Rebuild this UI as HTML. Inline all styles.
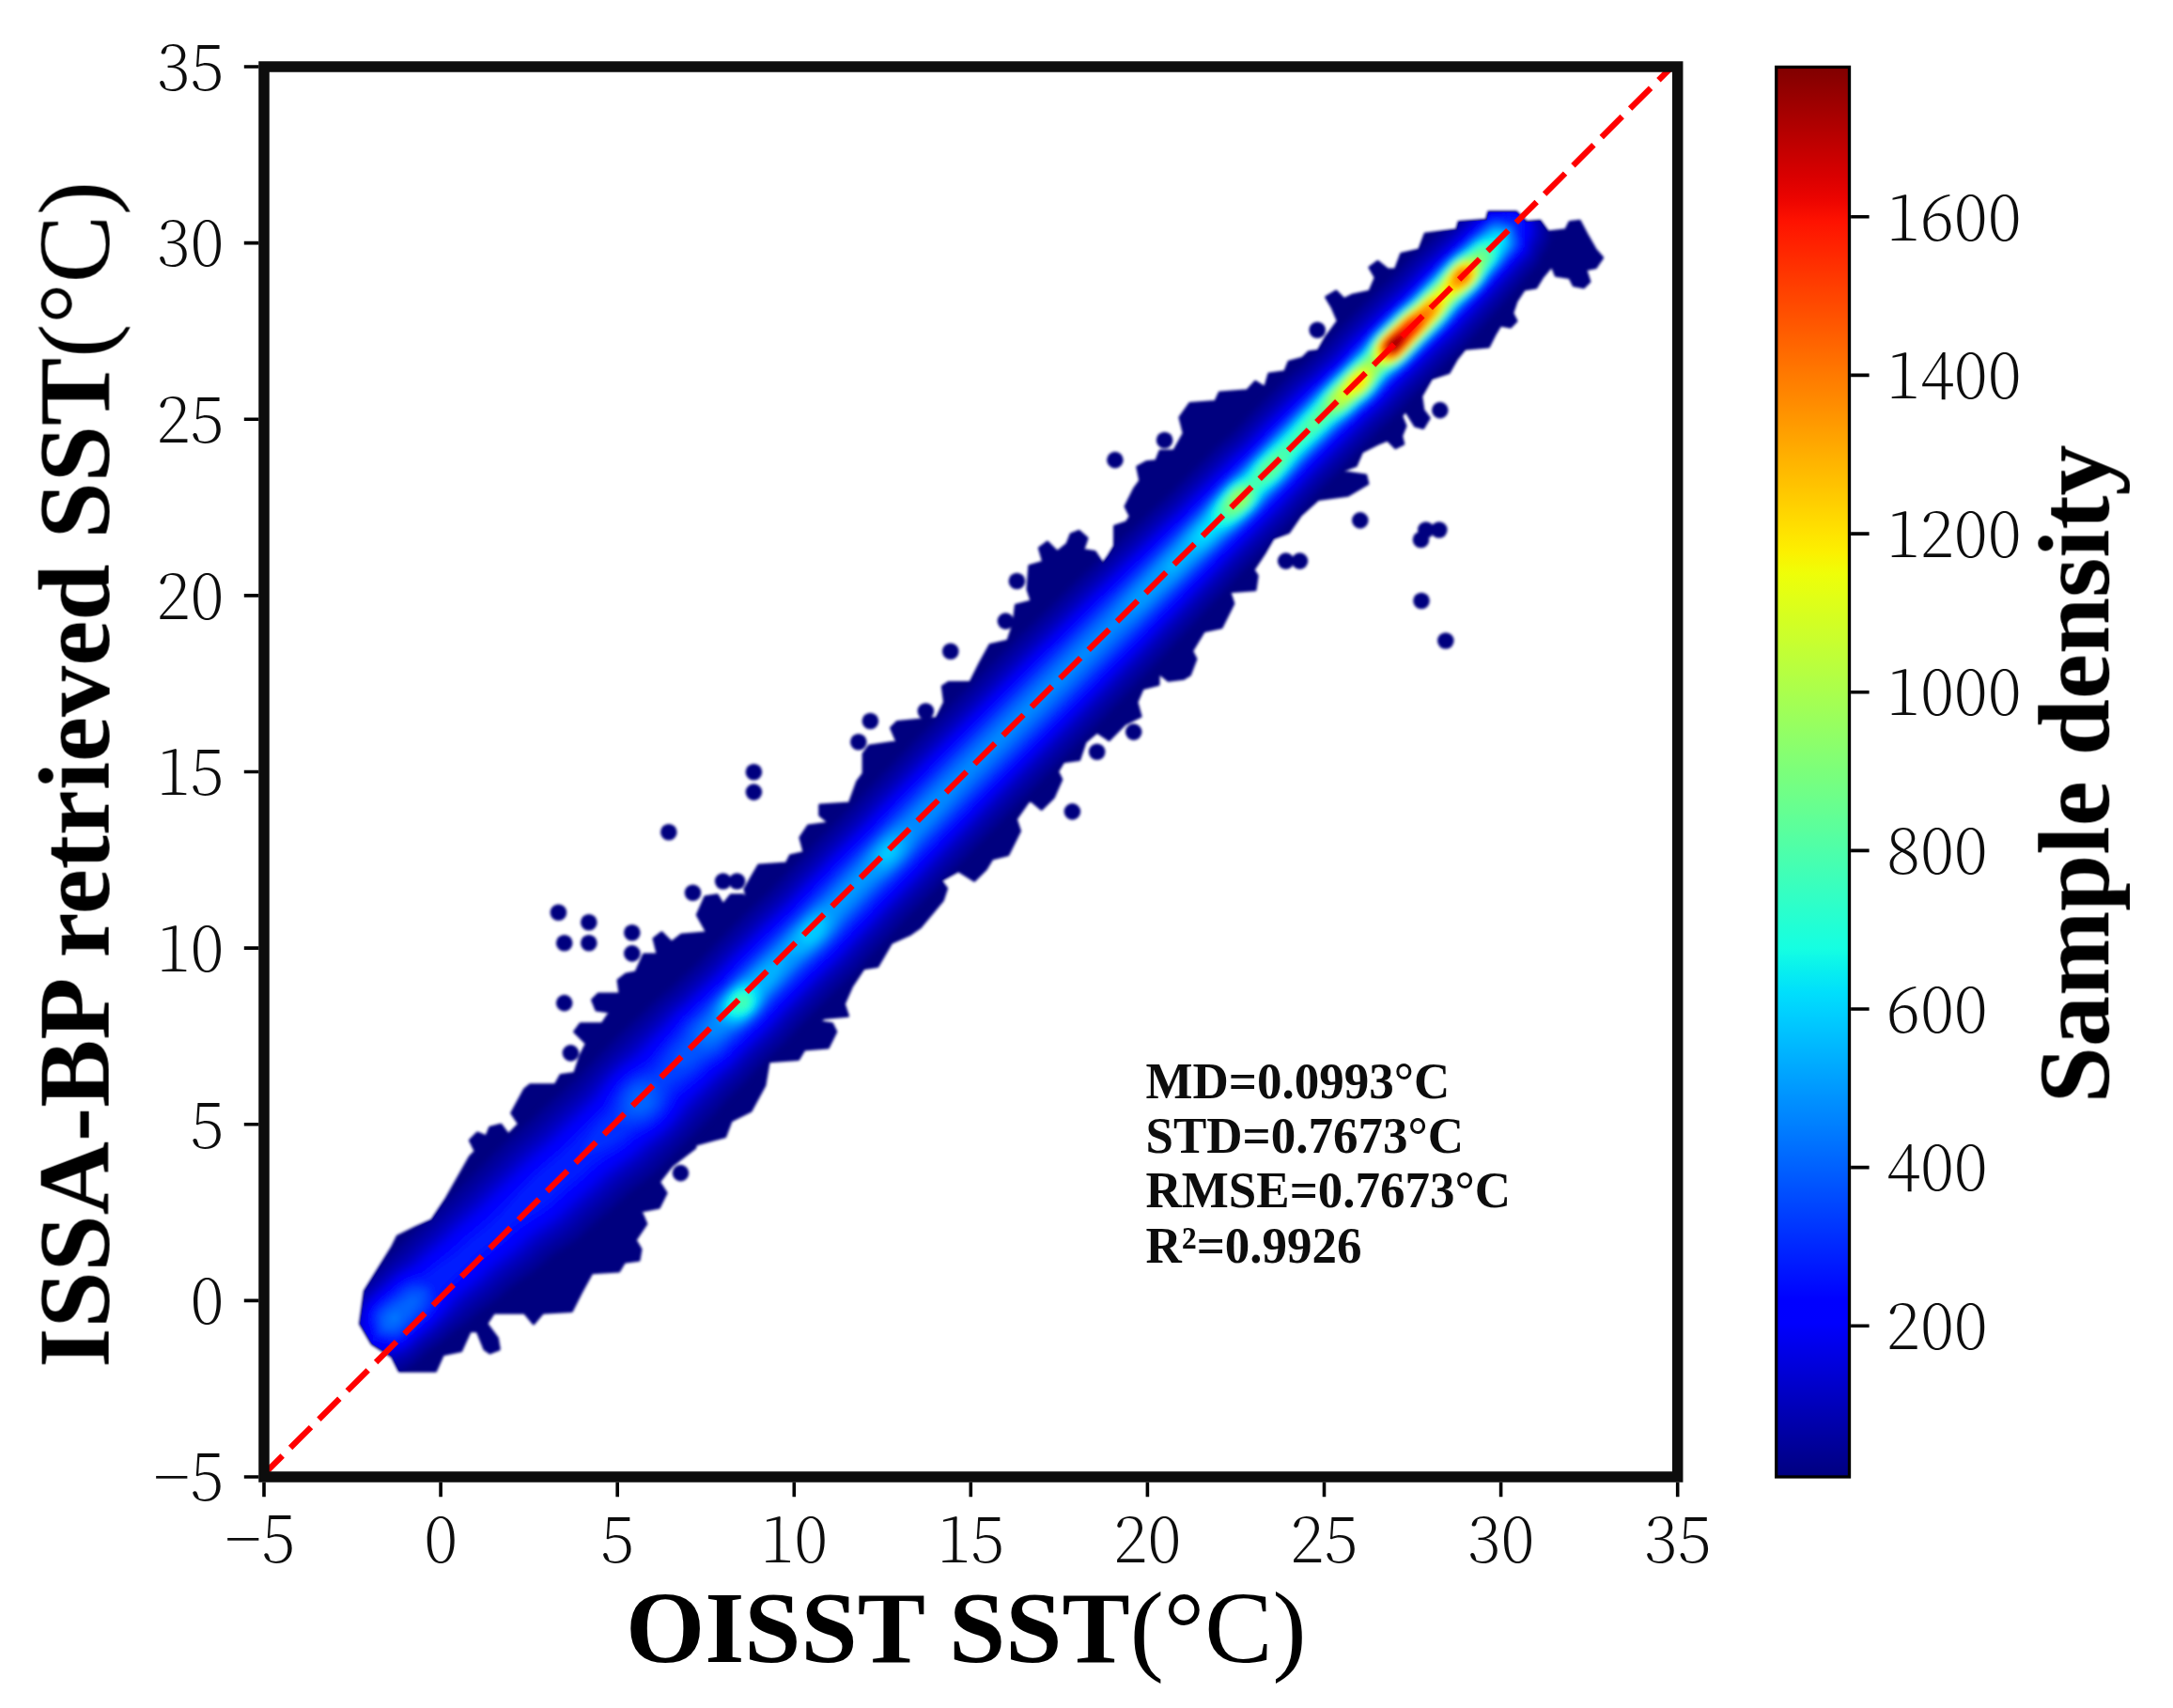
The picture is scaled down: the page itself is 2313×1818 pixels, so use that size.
<!DOCTYPE html>
<html lang="en"><head><meta charset="utf-8"><title>ISSA-BP retrieved SST vs OISST SST</title>
<style>html,body{margin:0;padding:0;background:#fff}body{width:2313px;height:1818px;overflow:hidden}svg{display:block}</style></head>
<body>
<svg width="2313" height="1818" viewBox="0 0 2313 1818">
<defs>
<clipPath id="axclip"><rect x="281.0" y="71.0" width="1504.7" height="1501.0"/></clipPath>
<clipPath id="cloudclip"><polygon points="383.5,1408.9 388.3,1374.2 398.0,1358.7 417.3,1327.8 423.1,1316.2 442.4,1306.5 459.8,1298.8 475.3,1275.6 500.4,1231.2 506.2,1225.4 500.4,1213.8 508.1,1206.0 517.8,1209.9 521.6,1200.2 533.2,1197.3 541.0,1208.0 552.6,1196.4 544.8,1184.8 558.4,1159.7 564.2,1154.8 591.2,1154.8 596.9,1144.5 611.7,1142.4 618.0,1123.4 624.3,1110.8 611.7,1098.1 618.0,1089.7 641.2,1089.7 649.6,1077.1 634.8,1075.0 630.6,1064.4 636.9,1058.1 660.1,1058.1 658.0,1043.4 666.4,1037.0 677.0,1034.9 685.4,1016.0 700.2,1016.0 696.0,999.1 704.4,992.8 714.9,1003.3 725.5,994.9 752.9,992.8 742.3,973.8 750.7,954.8 763.4,952.7 769.7,963.3 778.1,952.7 790.8,952.7 797.1,961.2 792.9,946.4 801.3,931.7 807.6,921.1 837.2,919.0 841.4,910.6 856.1,907.4 851.9,891.6 860.3,879.0 883.2,876.1 872.7,867.6 872.7,857.1 904.3,855.0 912.7,831.8 919.1,823.4 919.1,802.3 925.4,793.9 954.9,789.7 948.6,774.9 954.9,768.6 997.0,764.4 1005.5,747.5 1003.3,730.7 1009.7,726.4 1032.9,726.4 1043.4,705.4 1053.9,686.4 1072.9,682.2 1079.2,663.2 1081.3,644.3 1098.2,640.0 1094.0,627.4 1095.8,602.4 1110.6,598.1 1106.4,583.4 1114.8,577.1 1125.3,587.6 1135.9,579.2 1140.1,568.6 1148.5,565.5 1157.0,572.9 1152.7,585.5 1165.4,587.6 1173.8,600.3 1180.1,591.8 1186.5,581.3 1186.5,560.2 1199.1,556.0 1203.3,549.7 1198.0,539.1 1207.5,520.2 1213.8,511.7 1210.7,497.0 1220.2,491.7 1230.7,490.7 1234.9,480.1 1249.7,480.1 1260.2,461.2 1256.0,444.3 1266.5,429.5 1293.9,427.4 1298.1,418.0 1327.6,415.8 1336.1,406.4 1346.6,412.7 1350.8,397.9 1367.7,395.8 1371.9,385.3 1386.7,381.1 1393.0,374.8 1403.2,373.4 1411.7,358.6 1424.3,341.7 1418.0,327.0 1411.7,316.4 1422.2,310.1 1430.6,318.6 1439.1,314.3 1458.0,310.1 1464.3,295.4 1458.0,284.8 1466.5,278.5 1477.0,286.9 1485.4,286.9 1491.7,270.1 1510.7,265.9 1517.0,249.0 1550.7,244.8 1552.9,236.4 1582.4,234.3 1584.5,225.8 1614.0,225.8 1624.5,236.4 1639.3,235.3 1647.7,246.9 1666.7,244.8 1670.9,236.4 1681.4,235.3 1689.8,251.1 1698.3,265.9 1705.6,274.3 1698.3,284.8 1687.7,286.9 1691.9,299.6 1685.6,305.9 1675.1,303.8 1670.9,295.4 1656.1,293.3 1651.9,282.7 1641.4,295.4 1635.0,305.9 1622.4,308.0 1614.0,320.7 1609.8,333.3 1614.0,341.7 1607.6,348.1 1597.1,346.0 1590.8,356.5 1584.5,369.1 1559.2,371.2 1550.7,381.8 1542.3,396.5 1523.4,402.9 1512.8,421.8 1514.9,436.6 1521.2,445.0 1514.9,455.5 1506.5,453.4 1496.0,436.6 1491.7,442.9 1496.0,453.4 1491.7,464.0 1493.8,472.4 1485.4,476.6 1477.0,468.2 1466.5,472.4 1449.6,480.8 1443.3,495.6 1426.4,501.9 1453.8,506.1 1455.9,514.6 1434.8,527.2 1403.2,531.4 1384.3,548.3 1371.9,566.5 1355.0,572.9 1346.6,587.6 1334.0,606.6 1338.2,612.9 1336.1,627.7 1308.7,629.8 1312.9,642.4 1300.3,667.7 1281.3,671.9 1268.6,693.0 1272.9,701.4 1266.5,718.3 1260.0,722.2 1243.6,724.3 1233.1,715.9 1233.1,728.6 1216.2,732.8 1209.9,747.5 1214.1,762.3 1197.2,770.7 1180.4,787.6 1167.7,779.1 1155.1,789.7 1148.8,808.6 1131.9,810.7 1125.6,821.3 1129.8,829.7 1121.4,848.7 1108.7,861.3 1096.1,850.8 1081.3,871.9 1085.5,884.5 1072.9,909.8 1056.0,914.0 1049.7,924.6 1037.1,937.2 1020.2,926.7 1001.2,937.2 1007.6,945.6 1003.4,958.3 980.0,986.4 967.8,994.9 948.8,1003.3 934.1,1028.6 919.3,1030.7 906.7,1049.7 898.3,1068.6 902.5,1081.3 877.2,1083.4 870.9,1087.6 885.6,1089.7 889.8,1098.1 881.4,1115.0 856.1,1117.1 849.8,1127.6 818.2,1129.8 814.0,1155.0 799.2,1182.4 778.1,1193.0 771.8,1209.8 740.2,1218.3 740.0,1221.5 714.9,1240.8 701.4,1258.2 709.1,1269.8 701.4,1285.3 682.0,1289.1 687.8,1302.7 676.2,1320.0 682.0,1329.7 680.1,1341.3 664.6,1343.2 658.8,1352.9 629.9,1354.8 618.3,1376.1 608.6,1395.4 577.7,1397.3 568.0,1408.9 558.4,1397.3 525.5,1397.3 517.8,1408.9 529.4,1424.4 531.3,1436.0 521.6,1439.9 515.8,1436.0 508.1,1416.7 500.4,1416.7 490.7,1437.9 471.4,1441.8 463.7,1459.2 425.0,1459.2 417.3,1443.7 396.0,1430.2"/></clipPath>
<filter id="b1" x="-5%" y="-5%" width="110%" height="110%"><feGaussianBlur stdDeviation="1.6"/></filter>
<filter id="b2" x="-5%" y="-5%" width="110%" height="110%"><feGaussianBlur stdDeviation="3"/></filter>
<filter id="bt"><feGaussianBlur stdDeviation="0.7"/></filter>
<linearGradient id="jet" x1="0" y1="0" x2="0" y2="1"><stop offset="0.0000" stop-color="#800000"/><stop offset="0.0156" stop-color="#920000"/><stop offset="0.0312" stop-color="#a40000"/><stop offset="0.0469" stop-color="#b60000"/><stop offset="0.0625" stop-color="#c80000"/><stop offset="0.0781" stop-color="#da0000"/><stop offset="0.0938" stop-color="#ec0400"/><stop offset="0.1094" stop-color="#fe1200"/><stop offset="0.1250" stop-color="#ff2100"/><stop offset="0.1406" stop-color="#ff3000"/><stop offset="0.1562" stop-color="#ff3f00"/><stop offset="0.1719" stop-color="#ff4d00"/><stop offset="0.1875" stop-color="#ff5c00"/><stop offset="0.2031" stop-color="#ff6b00"/><stop offset="0.2188" stop-color="#ff7a00"/><stop offset="0.2344" stop-color="#ff8800"/><stop offset="0.2500" stop-color="#ff9700"/><stop offset="0.2656" stop-color="#ffa600"/><stop offset="0.2812" stop-color="#ffb500"/><stop offset="0.2969" stop-color="#ffc300"/><stop offset="0.3125" stop-color="#ffd200"/><stop offset="0.3281" stop-color="#ffe100"/><stop offset="0.3438" stop-color="#fcf000"/><stop offset="0.3594" stop-color="#effe08"/><stop offset="0.3750" stop-color="#e2ff15"/><stop offset="0.3906" stop-color="#d5ff21"/><stop offset="0.4062" stop-color="#c9ff2e"/><stop offset="0.4219" stop-color="#bcff3b"/><stop offset="0.4375" stop-color="#afff48"/><stop offset="0.4531" stop-color="#a2ff55"/><stop offset="0.4688" stop-color="#95ff62"/><stop offset="0.4844" stop-color="#88ff6f"/><stop offset="0.5000" stop-color="#7bff7b"/><stop offset="0.5156" stop-color="#6fff88"/><stop offset="0.5312" stop-color="#62ff95"/><stop offset="0.5469" stop-color="#55ffa2"/><stop offset="0.5625" stop-color="#48ffaf"/><stop offset="0.5781" stop-color="#3bffbc"/><stop offset="0.5938" stop-color="#2effc9"/><stop offset="0.6094" stop-color="#21ffd5"/><stop offset="0.6250" stop-color="#15ffe2"/><stop offset="0.6406" stop-color="#08efef"/><stop offset="0.6562" stop-color="#00dffc"/><stop offset="0.6719" stop-color="#00cfff"/><stop offset="0.6875" stop-color="#00bfff"/><stop offset="0.7031" stop-color="#00afff"/><stop offset="0.7188" stop-color="#009fff"/><stop offset="0.7344" stop-color="#008fff"/><stop offset="0.7500" stop-color="#0080ff"/><stop offset="0.7656" stop-color="#0070ff"/><stop offset="0.7812" stop-color="#0060ff"/><stop offset="0.7969" stop-color="#0050ff"/><stop offset="0.8125" stop-color="#0040ff"/><stop offset="0.8281" stop-color="#0030ff"/><stop offset="0.8438" stop-color="#0020ff"/><stop offset="0.8594" stop-color="#0010ff"/><stop offset="0.8750" stop-color="#0000ff"/><stop offset="0.8906" stop-color="#0000fe"/><stop offset="0.9062" stop-color="#0000ec"/><stop offset="0.9219" stop-color="#0000da"/><stop offset="0.9375" stop-color="#0000c8"/><stop offset="0.9531" stop-color="#0000b6"/><stop offset="0.9688" stop-color="#0000a4"/><stop offset="0.9844" stop-color="#000092"/><stop offset="1.0000" stop-color="#000080"/></linearGradient>
</defs>
<rect width="2313" height="1818" fill="#fff"/>
<g clip-path="url(#axclip)">
<g filter="url(#b1)">
<polygon points="383.5,1408.9 388.3,1374.2 398.0,1358.7 417.3,1327.8 423.1,1316.2 442.4,1306.5 459.8,1298.8 475.3,1275.6 500.4,1231.2 506.2,1225.4 500.4,1213.8 508.1,1206.0 517.8,1209.9 521.6,1200.2 533.2,1197.3 541.0,1208.0 552.6,1196.4 544.8,1184.8 558.4,1159.7 564.2,1154.8 591.2,1154.8 596.9,1144.5 611.7,1142.4 618.0,1123.4 624.3,1110.8 611.7,1098.1 618.0,1089.7 641.2,1089.7 649.6,1077.1 634.8,1075.0 630.6,1064.4 636.9,1058.1 660.1,1058.1 658.0,1043.4 666.4,1037.0 677.0,1034.9 685.4,1016.0 700.2,1016.0 696.0,999.1 704.4,992.8 714.9,1003.3 725.5,994.9 752.9,992.8 742.3,973.8 750.7,954.8 763.4,952.7 769.7,963.3 778.1,952.7 790.8,952.7 797.1,961.2 792.9,946.4 801.3,931.7 807.6,921.1 837.2,919.0 841.4,910.6 856.1,907.4 851.9,891.6 860.3,879.0 883.2,876.1 872.7,867.6 872.7,857.1 904.3,855.0 912.7,831.8 919.1,823.4 919.1,802.3 925.4,793.9 954.9,789.7 948.6,774.9 954.9,768.6 997.0,764.4 1005.5,747.5 1003.3,730.7 1009.7,726.4 1032.9,726.4 1043.4,705.4 1053.9,686.4 1072.9,682.2 1079.2,663.2 1081.3,644.3 1098.2,640.0 1094.0,627.4 1095.8,602.4 1110.6,598.1 1106.4,583.4 1114.8,577.1 1125.3,587.6 1135.9,579.2 1140.1,568.6 1148.5,565.5 1157.0,572.9 1152.7,585.5 1165.4,587.6 1173.8,600.3 1180.1,591.8 1186.5,581.3 1186.5,560.2 1199.1,556.0 1203.3,549.7 1198.0,539.1 1207.5,520.2 1213.8,511.7 1210.7,497.0 1220.2,491.7 1230.7,490.7 1234.9,480.1 1249.7,480.1 1260.2,461.2 1256.0,444.3 1266.5,429.5 1293.9,427.4 1298.1,418.0 1327.6,415.8 1336.1,406.4 1346.6,412.7 1350.8,397.9 1367.7,395.8 1371.9,385.3 1386.7,381.1 1393.0,374.8 1403.2,373.4 1411.7,358.6 1424.3,341.7 1418.0,327.0 1411.7,316.4 1422.2,310.1 1430.6,318.6 1439.1,314.3 1458.0,310.1 1464.3,295.4 1458.0,284.8 1466.5,278.5 1477.0,286.9 1485.4,286.9 1491.7,270.1 1510.7,265.9 1517.0,249.0 1550.7,244.8 1552.9,236.4 1582.4,234.3 1584.5,225.8 1614.0,225.8 1624.5,236.4 1639.3,235.3 1647.7,246.9 1666.7,244.8 1670.9,236.4 1681.4,235.3 1689.8,251.1 1698.3,265.9 1705.6,274.3 1698.3,284.8 1687.7,286.9 1691.9,299.6 1685.6,305.9 1675.1,303.8 1670.9,295.4 1656.1,293.3 1651.9,282.7 1641.4,295.4 1635.0,305.9 1622.4,308.0 1614.0,320.7 1609.8,333.3 1614.0,341.7 1607.6,348.1 1597.1,346.0 1590.8,356.5 1584.5,369.1 1559.2,371.2 1550.7,381.8 1542.3,396.5 1523.4,402.9 1512.8,421.8 1514.9,436.6 1521.2,445.0 1514.9,455.5 1506.5,453.4 1496.0,436.6 1491.7,442.9 1496.0,453.4 1491.7,464.0 1493.8,472.4 1485.4,476.6 1477.0,468.2 1466.5,472.4 1449.6,480.8 1443.3,495.6 1426.4,501.9 1453.8,506.1 1455.9,514.6 1434.8,527.2 1403.2,531.4 1384.3,548.3 1371.9,566.5 1355.0,572.9 1346.6,587.6 1334.0,606.6 1338.2,612.9 1336.1,627.7 1308.7,629.8 1312.9,642.4 1300.3,667.7 1281.3,671.9 1268.6,693.0 1272.9,701.4 1266.5,718.3 1260.0,722.2 1243.6,724.3 1233.1,715.9 1233.1,728.6 1216.2,732.8 1209.9,747.5 1214.1,762.3 1197.2,770.7 1180.4,787.6 1167.7,779.1 1155.1,789.7 1148.8,808.6 1131.9,810.7 1125.6,821.3 1129.8,829.7 1121.4,848.7 1108.7,861.3 1096.1,850.8 1081.3,871.9 1085.5,884.5 1072.9,909.8 1056.0,914.0 1049.7,924.6 1037.1,937.2 1020.2,926.7 1001.2,937.2 1007.6,945.6 1003.4,958.3 980.0,986.4 967.8,994.9 948.8,1003.3 934.1,1028.6 919.3,1030.7 906.7,1049.7 898.3,1068.6 902.5,1081.3 877.2,1083.4 870.9,1087.6 885.6,1089.7 889.8,1098.1 881.4,1115.0 856.1,1117.1 849.8,1127.6 818.2,1129.8 814.0,1155.0 799.2,1182.4 778.1,1193.0 771.8,1209.8 740.2,1218.3 740.0,1221.5 714.9,1240.8 701.4,1258.2 709.1,1269.8 701.4,1285.3 682.0,1289.1 687.8,1302.7 676.2,1320.0 682.0,1329.7 680.1,1341.3 664.6,1343.2 658.8,1352.9 629.9,1354.8 618.3,1376.1 608.6,1395.4 577.7,1397.3 568.0,1408.9 558.4,1397.3 525.5,1397.3 517.8,1408.9 529.4,1424.4 531.3,1436.0 521.6,1439.9 515.8,1436.0 508.1,1416.7 500.4,1416.7 490.7,1437.9 471.4,1441.8 463.7,1459.2 425.0,1459.2 417.3,1443.7 396.0,1430.2" fill="#00007f" stroke="#00007f" stroke-width="3" stroke-linejoin="round"/>
<circle cx="711.8" cy="885.7" r="8.8" fill="#00007f"/>
<circle cx="737.5" cy="950.2" r="8.8" fill="#00007f"/>
<circle cx="769.7" cy="938.0" r="8.8" fill="#00007f"/>
<circle cx="784.5" cy="938.0" r="8.8" fill="#00007f"/>
<circle cx="594.4" cy="971.3" r="8.8" fill="#00007f"/>
<circle cx="626.8" cy="981.8" r="8.8" fill="#00007f"/>
<circle cx="600.7" cy="1003.7" r="8.8" fill="#00007f"/>
<circle cx="626.8" cy="1003.7" r="8.8" fill="#00007f"/>
<circle cx="672.8" cy="992.8" r="8.8" fill="#00007f"/>
<circle cx="672.8" cy="1014.9" r="8.8" fill="#00007f"/>
<circle cx="600.7" cy="1067.6" r="8.8" fill="#00007f"/>
<circle cx="607.4" cy="1120.9" r="8.8" fill="#00007f"/>
<circle cx="1082.4" cy="618.5" r="8.8" fill="#00007f"/>
<circle cx="1070.4" cy="661.1" r="8.8" fill="#00007f"/>
<circle cx="1011.8" cy="693.2" r="8.8" fill="#00007f"/>
<circle cx="985.4" cy="757.0" r="8.8" fill="#00007f"/>
<circle cx="926.4" cy="767.5" r="8.8" fill="#00007f"/>
<circle cx="913.8" cy="789.7" r="8.8" fill="#00007f"/>
<circle cx="1141.4" cy="863.9" r="8.8" fill="#00007f"/>
<circle cx="1167.7" cy="800.2" r="8.8" fill="#00007f"/>
<circle cx="1206.7" cy="779.1" r="8.8" fill="#00007f"/>
<circle cx="1239.6" cy="468.5" r="8.8" fill="#00007f"/>
<circle cx="1186.9" cy="489.6" r="8.8" fill="#00007f"/>
<circle cx="1447.8" cy="553.9" r="8.8" fill="#00007f"/>
<circle cx="1368.7" cy="597.1" r="8.8" fill="#00007f"/>
<circle cx="1383.5" cy="597.1" r="8.8" fill="#00007f"/>
<circle cx="1402.2" cy="351.2" r="8.8" fill="#00007f"/>
<circle cx="1532.8" cy="436.6" r="8.8" fill="#00007f"/>
<circle cx="1517.8" cy="564.0" r="8.8" fill="#00007f"/>
<circle cx="1531.8" cy="564.0" r="8.8" fill="#00007f"/>
<circle cx="1512.5" cy="574.5" r="8.8" fill="#00007f"/>
<circle cx="1513.0" cy="639.5" r="8.8" fill="#00007f"/>
<circle cx="1538.8" cy="682.0" r="8.8" fill="#00007f"/>
<circle cx="724.5" cy="1248.6" r="8.8" fill="#00007f"/>
<circle cx="802.4" cy="821.8" r="8.8" fill="#00007f"/>
<circle cx="802.4" cy="843.1" r="8.8" fill="#00007f"/>
</g>
<g clip-path="url(#cloudclip)"><g filter="url(#b2)">
<polygon points="371.0,1468.1 357.8,1446.0 361.2,1438.1 359.7,1425.3 358.7,1413.0 360.2,1403.2 364.7,1396.5 368.4,1388.9 372.0,1381.3 376.5,1374.5 382.0,1368.6 387.5,1362.9 393.1,1357.2 398.6,1351.5 404.2,1345.8 409.7,1340.0 415.3,1334.3 421.0,1328.8 426.7,1323.2 432.4,1317.6 438.1,1312.1 443.9,1306.5 449.6,1301.0 455.3,1295.4 460.9,1289.8 466.7,1284.3 472.5,1278.8 478.3,1273.4 484.1,1267.9 489.8,1262.4 495.5,1256.7 501.1,1251.1 506.8,1245.5 512.4,1239.9 518.1,1234.2 523.7,1228.6 529.4,1223.0 535.1,1217.4 541.0,1212.0 547.0,1206.8 553.1,1201.7 559.2,1196.5 565.2,1191.2 570.9,1185.7 576.7,1180.1 582.6,1174.8 588.6,1169.5 594.7,1164.3 600.6,1159.0 606.5,1153.6 612.2,1148.0 617.7,1142.3 623.3,1136.5 628.9,1130.9 634.5,1125.3 640.1,1119.6 645.7,1113.9 651.3,1108.2 657.0,1102.6 662.7,1097.1 668.5,1091.6 674.5,1086.3 680.4,1081.0 686.2,1075.5 691.9,1069.9 697.7,1064.5 703.7,1059.2 710.1,1054.3 716.1,1049.1 721.8,1043.5 727.6,1038.0 733.5,1032.6 739.3,1027.2 745.1,1021.6 750.5,1015.8 755.9,1009.9 761.3,1004.0 766.9,998.4 772.5,992.7 778.2,987.1 783.8,981.5 789.4,975.8 795.1,970.2 800.8,964.7 806.7,959.3 812.5,953.9 818.3,948.4 823.9,942.7 829.4,936.9 834.8,931.0 840.2,925.2 845.8,919.5 851.4,913.8 856.8,908.0 862.3,902.2 867.7,896.3 873.3,890.6 878.9,885.0 884.5,879.3 890.2,873.7 895.8,868.0 901.4,862.4 907.0,856.7 912.4,850.9 917.8,845.0 923.3,839.2 928.9,833.5 934.5,827.9 940.1,822.2 945.6,816.5 951.2,810.7 956.7,805.0 962.3,799.3 967.8,793.5 973.4,787.8 978.9,782.1 984.6,776.5 990.2,770.8 995.8,765.2 1001.5,759.6 1007.1,753.9 1012.7,748.3 1018.4,742.6 1024.0,737.0 1029.6,731.4 1035.3,725.7 1040.9,720.1 1046.5,714.5 1052.2,708.8 1057.8,703.2 1063.5,697.6 1069.1,692.0 1074.8,686.4 1080.5,680.8 1086.3,675.3 1092.0,669.8 1097.8,664.3 1103.5,658.8 1109.3,653.2 1115.0,647.7 1120.8,642.2 1126.5,636.6 1132.2,631.0 1137.8,625.4 1143.5,619.8 1149.3,614.4 1155.2,609.0 1161.1,603.6 1167.0,598.2 1172.7,592.7 1178.4,587.1 1184.2,581.6 1190.0,576.1 1195.9,570.7 1201.7,565.3 1207.6,559.9 1213.3,554.4 1219.0,548.8 1224.9,543.4 1230.8,538.0 1236.7,532.7 1242.6,527.3 1248.3,521.7 1253.9,516.1 1259.5,510.4 1265.2,504.8 1270.8,499.1 1276.4,493.5 1282.1,487.9 1287.7,482.2 1293.4,476.6 1299.2,471.1 1305.4,466.1 1311.4,460.8 1316.9,455.1 1322.4,449.3 1327.8,443.4 1333.3,437.6 1338.9,431.9 1344.5,426.3 1350.1,420.7 1355.8,415.0 1361.4,409.4 1367.0,403.8 1372.9,398.4 1379.2,393.4 1385.5,388.4 1391.4,383.0 1397.3,377.6 1403.3,372.4 1409.0,366.8 1414.4,361.0 1419.7,355.0 1425.2,349.2 1430.8,343.6 1436.5,338.0 1442.1,332.3 1447.8,326.7 1453.4,321.0 1459.0,315.4 1464.7,309.8 1470.5,304.4 1476.5,299.1 1482.3,293.6 1487.8,287.8 1493.1,281.8 1498.5,276.0 1504.2,270.4 1510.3,265.2 1516.4,260.1 1522.2,254.6 1528.2,249.3 1534.3,244.1 1540.2,238.7 1546.0,233.4 1552.2,228.2 1558.2,222.9 1563.9,217.4 1570.0,212.2 1578.2,209.1 1585.0,204.7 1592.7,201.1 1602.9,200.1 1613.1,198.9 1621.6,196.2 1645.4,211.0 1660.2,234.8 1651.6,237.5 1650.5,247.7 1649.5,257.9 1645.9,265.6 1641.4,272.4 1638.3,280.6 1633.1,286.6 1627.7,292.4 1622.4,298.4 1617.2,304.5 1611.8,310.4 1606.4,316.3 1601.3,322.4 1596.0,328.4 1590.5,334.2 1585.3,340.3 1580.1,346.4 1574.6,352.1 1569.2,358.0 1563.9,363.9 1558.4,369.7 1552.6,375.2 1546.7,380.5 1540.8,385.9 1535.2,391.6 1529.5,397.2 1523.9,402.8 1518.3,408.5 1512.6,414.1 1507.0,419.7 1501.4,425.4 1495.9,431.2 1490.6,437.1 1485.1,443.0 1479.4,448.5 1473.4,453.8 1467.6,459.2 1462.0,464.9 1456.5,470.7 1451.0,476.4 1445.4,482.1 1439.8,487.8 1434.2,493.4 1428.5,499.1 1422.9,504.7 1417.2,510.3 1411.6,516.0 1406.2,521.8 1400.8,527.7 1395.3,533.5 1389.8,539.2 1384.5,545.2 1379.4,551.4 1374.0,557.2 1368.4,562.9 1362.7,568.5 1357.1,574.1 1351.4,579.8 1345.8,585.4 1340.2,591.1 1334.5,596.7 1328.9,602.3 1323.3,608.0 1317.9,613.9 1312.6,619.8 1307.2,625.7 1301.8,631.6 1296.2,637.3 1290.7,643.0 1285.3,648.8 1279.9,654.7 1274.5,660.6 1269.0,666.4 1263.5,672.2 1257.9,677.9 1252.4,683.6 1247.0,689.5 1241.6,695.4 1236.2,701.3 1230.8,707.1 1225.2,712.8 1219.6,718.4 1214.0,724.1 1208.4,729.8 1202.9,735.6 1197.4,741.3 1191.8,747.1 1186.3,752.8 1180.8,758.6 1175.3,764.3 1169.8,770.1 1164.2,775.8 1158.6,781.5 1153.0,787.2 1147.4,792.8 1141.8,798.4 1136.1,804.1 1130.5,809.7 1124.9,815.3 1119.2,821.0 1113.6,826.6 1108.0,832.2 1102.3,837.9 1096.7,843.5 1091.1,849.1 1085.4,854.8 1079.8,860.4 1074.1,866.1 1068.5,871.7 1063.0,877.4 1057.4,883.1 1051.9,888.9 1046.3,894.6 1040.8,900.3 1035.2,906.0 1029.7,911.8 1024.1,917.5 1018.5,923.1 1012.9,928.8 1007.4,934.6 1002.0,940.5 996.6,946.3 991.0,952.0 985.4,957.6 979.8,963.3 974.1,968.9 968.5,974.5 962.9,980.2 957.3,985.9 951.9,991.7 946.4,997.6 940.9,1003.4 935.4,1009.1 929.8,1014.8 924.4,1020.6 919.0,1026.5 913.5,1032.3 907.9,1037.9 902.1,1043.5 896.3,1048.9 890.4,1054.3 884.7,1059.8 879.0,1065.4 873.4,1071.1 867.8,1076.7 862.1,1082.3 856.5,1088.0 850.9,1093.6 845.5,1099.5 840.1,1105.4 834.6,1111.2 828.9,1116.8 823.1,1122.2 817.2,1127.6 811.4,1133.1 805.8,1138.7 800.4,1144.6 795.1,1150.6 789.4,1156.2 783.6,1161.7 777.9,1167.2 772.4,1173.0 767.1,1178.9 761.8,1184.9 756.4,1190.8 750.8,1196.5 745.2,1202.1 739.6,1207.8 733.8,1213.3 728.2,1218.9 722.6,1224.6 716.9,1230.2 711.2,1235.7 705.4,1241.3 699.7,1246.8 693.6,1251.9 687.2,1256.8 680.7,1261.6 674.3,1266.4 668.0,1271.5 662.1,1276.9 656.4,1282.4 650.4,1287.7 644.3,1292.9 638.2,1298.0 632.2,1303.3 626.3,1308.6 620.5,1314.2 614.4,1319.2 607.7,1323.9 600.9,1328.3 594.0,1332.7 587.4,1337.3 581.2,1342.4 575.4,1347.9 569.1,1352.9 562.5,1357.6 555.8,1362.1 549.2,1366.8 542.8,1371.6 536.8,1377.0 530.9,1382.3 524.4,1387.0 517.7,1391.6 511.1,1396.3 504.9,1401.4 499.0,1406.8 492.6,1411.7 485.9,1416.2 479.4,1421.0 473.4,1426.3 466.9,1431.0 460.1,1435.5 453.7,1440.4 448.0,1445.9 442.0,1451.3 435.4,1455.9 428.5,1460.3 422.7,1465.7 416.3,1470.6 408.1,1473.7 398.0,1474.8 393.1,1481.3" fill="#000091"/>
<polygon points="371.0,1468.1 365.2,1453.3 368.2,1445.0 364.4,1430.0 362.5,1416.8 363.7,1406.7 368.1,1399.9 371.5,1392.0 374.9,1384.1 379.2,1377.2 384.6,1371.3 390.2,1365.6 395.8,1360.0 401.5,1354.3 407.1,1348.7 412.7,1343.0 418.5,1337.5 424.4,1332.2 430.1,1326.6 435.9,1321.1 441.6,1315.6 447.5,1310.1 453.2,1304.6 458.9,1299.1 464.6,1293.5 470.4,1288.0 476.2,1282.6 482.1,1277.2 487.9,1271.7 493.7,1266.2 499.3,1260.6 505.0,1255.0 510.7,1249.4 516.3,1243.8 522.0,1238.2 527.7,1232.6 533.3,1226.9 539.0,1221.4 544.9,1216.0 551.0,1210.8 557.1,1205.6 563.2,1200.4 569.1,1195.1 574.9,1189.6 580.6,1184.1 586.5,1178.7 592.5,1173.4 598.5,1168.2 604.5,1162.9 610.4,1157.5 616.1,1151.9 621.5,1146.1 626.9,1140.2 632.4,1134.4 638.0,1128.8 643.7,1123.1 649.3,1117.5 655.0,1112.0 660.8,1106.5 666.5,1100.9 672.3,1095.4 678.2,1090.0 684.0,1084.6 689.8,1079.1 695.4,1073.5 701.2,1067.9 707.1,1062.5 713.4,1057.6 719.4,1052.4 725.1,1046.8 731.0,1041.3 736.8,1035.9 742.6,1030.5 748.4,1024.9 753.8,1019.1 759.2,1013.2 764.6,1007.3 770.2,1001.7 775.8,996.0 781.5,990.4 787.1,984.8 792.7,979.1 798.4,973.5 804.1,968.0 810.0,962.6 815.8,957.2 821.6,951.7 827.2,946.0 832.7,940.2 838.1,934.3 843.5,928.5 849.1,922.8 854.7,917.1 860.1,911.3 865.6,905.5 871.0,899.6 876.6,893.9 882.2,888.3 887.8,882.6 893.5,877.0 899.1,871.4 904.7,865.7 910.3,860.0 915.7,854.2 921.1,848.3 926.6,842.5 932.2,836.8 937.8,831.2 943.4,825.5 949.0,819.8 954.5,814.0 960.0,808.3 965.6,802.6 971.1,796.8 976.7,791.1 982.3,785.4 987.9,779.8 993.5,774.1 999.1,768.5 1004.8,762.9 1010.4,757.2 1016.0,751.6 1021.7,746.0 1027.3,740.3 1032.9,734.7 1038.6,729.0 1044.2,723.4 1049.9,717.8 1055.5,712.1 1061.1,706.5 1066.8,700.9 1072.4,695.3 1078.1,689.7 1083.8,684.1 1089.6,678.6 1095.3,673.1 1101.1,667.5 1106.8,662.0 1112.6,656.5 1118.3,651.0 1124.0,645.4 1129.7,639.8 1135.4,634.3 1141.1,628.6 1146.8,623.1 1152.6,617.6 1158.4,612.2 1164.3,606.8 1170.1,601.3 1175.9,595.8 1181.6,590.2 1187.3,584.7 1193.1,579.2 1199.0,573.8 1204.8,568.4 1210.7,563.0 1216.4,557.4 1222.1,551.9 1227.9,546.4 1233.8,541.1 1239.7,535.7 1245.6,530.3 1251.2,524.7 1256.9,519.0 1262.5,513.4 1268.2,507.8 1273.8,502.1 1279.4,496.5 1285.1,490.9 1290.7,485.2 1296.3,479.6 1302.1,474.1 1308.3,469.0 1314.3,463.7 1319.8,458.0 1325.3,452.2 1330.7,446.3 1336.1,440.5 1341.7,434.8 1347.4,429.2 1353.0,423.6 1358.7,417.9 1364.3,412.3 1369.9,406.6 1375.8,401.3 1382.1,396.2 1388.3,391.2 1394.2,385.8 1400.1,380.4 1406.1,375.2 1411.8,369.6 1417.2,363.8 1422.5,357.8 1428.0,352.0 1433.7,346.4 1439.3,340.8 1444.9,335.1 1450.6,329.5 1456.2,323.9 1461.8,318.2 1467.5,312.6 1473.4,307.2 1479.3,301.9 1485.1,296.4 1490.6,290.6 1495.9,284.7 1501.3,278.8 1507.0,273.2 1513.1,268.0 1519.1,262.8 1524.9,257.3 1530.9,252.0 1536.9,246.8 1542.8,241.4 1548.7,236.0 1554.8,230.8 1560.7,225.5 1566.5,220.0 1572.5,214.8 1580.8,211.8 1587.8,207.5 1595.7,204.1 1606.6,203.7 1617.8,203.7 1626.3,200.9 1645.4,211.0 1655.4,230.0 1646.9,232.8 1646.9,244.0 1646.5,254.9 1643.1,262.8 1638.8,269.7 1635.8,278.0 1630.6,284.1 1625.1,289.9 1619.8,295.8 1614.6,301.9 1609.2,307.8 1603.8,313.6 1598.6,319.7 1593.3,325.7 1587.8,331.5 1582.6,337.5 1577.3,343.6 1571.8,349.3 1566.4,355.2 1561.1,361.1 1555.6,366.9 1549.8,372.4 1543.9,377.7 1538.0,383.1 1532.4,388.8 1526.7,394.4 1521.1,400.0 1515.5,405.7 1509.8,411.3 1504.2,416.9 1498.6,422.6 1493.1,428.4 1487.7,434.3 1482.3,440.2 1476.6,445.7 1470.6,451.0 1464.7,456.4 1459.2,462.1 1453.6,467.8 1448.1,473.6 1442.5,479.3 1436.9,484.9 1431.3,490.5 1425.6,496.2 1420.0,501.8 1414.4,507.4 1408.8,513.1 1403.3,518.9 1397.9,524.8 1392.4,530.6 1386.9,536.3 1381.6,542.3 1376.5,548.5 1371.0,554.3 1365.4,559.9 1359.7,565.5 1354.1,571.2 1348.5,576.8 1342.8,582.4 1337.2,588.1 1331.6,593.7 1325.9,599.4 1320.3,605.0 1314.9,610.9 1309.5,616.8 1304.2,622.7 1298.7,628.5 1293.2,634.2 1287.6,639.9 1282.2,645.8 1276.8,651.6 1271.4,657.5 1265.9,663.3 1260.4,669.0 1254.8,674.7 1249.3,680.5 1243.8,686.3 1238.4,692.2 1233.0,698.0 1227.5,703.8 1222.0,709.5 1216.3,715.2 1210.8,720.9 1205.2,726.6 1199.6,732.3 1194.1,738.1 1188.6,743.8 1183.1,749.6 1177.6,755.3 1172.0,761.0 1166.5,766.8 1160.9,772.5 1155.3,778.2 1149.7,783.8 1144.1,789.5 1138.5,795.1 1132.8,800.8 1127.2,806.4 1121.6,812.0 1115.9,817.7 1110.3,823.3 1104.7,828.9 1099.0,834.6 1093.4,840.2 1087.7,845.8 1082.1,851.5 1076.5,857.1 1070.8,862.7 1065.2,868.4 1059.7,874.1 1054.1,879.8 1048.6,885.5 1043.0,891.3 1037.5,897.0 1031.9,902.7 1026.4,908.5 1020.8,914.1 1015.2,919.8 1009.6,925.5 1004.1,931.3 998.7,937.1 993.3,943.0 987.7,948.7 982.1,954.3 976.4,960.0 970.8,965.6 965.2,971.2 959.6,976.9 954.0,982.6 948.6,988.4 943.1,994.3 937.6,1000.1 932.1,1005.8 926.5,1011.5 921.1,1017.3 915.7,1023.2 910.2,1029.0 904.6,1034.6 898.8,1040.1 893.0,1045.6 887.1,1051.0 881.4,1056.5 875.7,1062.1 870.1,1067.8 864.4,1073.4 858.8,1079.0 853.2,1084.7 847.6,1090.3 842.2,1096.2 836.8,1102.1 831.3,1107.9 825.6,1113.5 819.8,1118.9 813.9,1124.3 808.1,1129.8 802.5,1135.4 797.0,1141.2 791.7,1147.2 786.0,1152.7 780.1,1158.1 774.4,1163.7 768.8,1169.4 763.4,1175.3 758.1,1181.2 752.6,1187.0 747.0,1192.6 741.5,1198.4 736.0,1204.1 730.3,1209.8 724.7,1215.4 719.0,1221.0 713.2,1226.5 707.4,1231.9 701.6,1237.4 695.8,1242.9 689.7,1248.0 683.3,1252.9 676.8,1257.7 670.3,1262.5 664.1,1267.5 658.2,1272.9 652.4,1278.4 646.5,1283.7 640.4,1288.9 634.3,1294.1 628.2,1299.3 622.3,1304.7 616.6,1310.2 610.4,1315.3 603.8,1320.0 597.0,1324.4 590.1,1328.8 583.5,1333.5 577.3,1338.6 571.5,1344.1 565.3,1349.1 558.8,1353.8 552.1,1358.4 545.5,1363.1 539.1,1368.0 533.2,1373.3 527.2,1378.6 520.8,1383.5 514.1,1388.1 507.6,1392.8 501.4,1397.9 495.6,1403.4 489.4,1408.5 482.9,1413.2 476.5,1418.1 470.6,1423.5 464.1,1428.2 457.4,1432.8 451.0,1437.7 445.3,1443.2 439.2,1448.4 432.3,1452.8 425.1,1456.9 419.2,1462.2 412.5,1466.8 403.4,1468.9 391.1,1467.9 385.8,1473.9" fill="#00009c"/>
<polygon points="379.4,1454.0 370.3,1435.9 366.7,1421.0 367.4,1410.4 371.7,1403.5 374.8,1395.3 377.8,1387.0 382.0,1379.9 387.3,1374.0 393.0,1368.4 398.7,1362.8 404.4,1357.2 410.0,1351.6 415.8,1346.1 421.8,1340.8 427.9,1335.7 433.7,1330.2 439.5,1324.7 445.3,1319.3 451.2,1313.9 457.0,1308.4 462.7,1302.9 468.5,1297.3 474.3,1291.9 480.2,1286.5 486.0,1281.1 491.9,1275.7 497.7,1270.2 503.4,1264.6 509.0,1259.0 514.7,1253.4 520.4,1247.8 526.1,1242.3 531.8,1236.7 537.4,1231.1 543.1,1225.5 549.0,1220.1 555.1,1214.9 561.2,1209.7 567.3,1204.5 573.2,1199.2 579.0,1193.7 584.7,1188.2 590.6,1182.8 596.6,1177.5 602.6,1172.2 608.5,1166.9 614.4,1161.5 620.1,1155.9 625.4,1150.0 630.7,1144.0 636.1,1138.1 641.6,1132.3 647.3,1126.7 653.0,1121.2 658.9,1115.8 664.8,1110.4 670.4,1104.8 676.2,1099.3 682.0,1093.8 687.7,1088.3 693.5,1082.7 699.1,1077.1 704.7,1071.5 710.5,1066.0 716.8,1061.0 722.8,1055.8 728.5,1050.2 734.3,1044.7 740.2,1039.3 746.0,1033.9 751.7,1028.3 757.2,1022.5 762.6,1016.6 768.0,1010.7 773.6,1005.1 779.2,999.4 784.8,993.8 790.5,988.2 796.1,982.5 801.8,976.9 807.5,971.4 813.4,966.0 819.2,960.5 825.0,955.0 830.6,949.4 836.1,943.6 841.5,937.7 846.9,931.9 852.5,926.2 858.0,920.5 863.5,914.7 869.0,908.8 874.4,903.0 880.0,897.3 885.6,891.6 891.2,886.0 896.9,880.4 902.5,874.7 908.1,869.1 913.7,863.4 919.1,857.6 924.5,851.7 930.0,845.9 935.6,840.2 941.2,834.5 946.8,828.9 952.3,823.1 957.9,817.4 963.4,811.7 969.0,805.9 974.5,800.2 980.1,794.5 985.6,788.8 991.2,783.2 996.9,777.5 1002.5,771.9 1008.1,766.2 1013.8,760.6 1019.4,755.0 1025.1,749.3 1030.7,743.7 1036.3,738.1 1042.0,732.4 1047.6,726.8 1053.2,721.2 1058.9,715.5 1064.5,709.9 1070.1,704.2 1075.8,698.6 1081.5,693.1 1087.2,687.5 1092.9,681.9 1098.7,676.4 1104.4,670.9 1110.1,665.3 1115.9,659.8 1121.6,654.3 1127.3,648.7 1133.0,643.1 1138.7,637.6 1144.4,631.9 1150.0,626.4 1155.8,620.9 1161.7,615.4 1167.5,610.0 1173.3,604.6 1179.1,599.0 1184.8,593.4 1190.5,587.9 1196.3,582.4 1202.1,577.0 1208.0,571.6 1213.8,566.1 1219.5,560.6 1225.2,555.0 1231.0,549.5 1236.9,544.1 1242.8,538.8 1248.6,533.3 1254.3,527.7 1259.9,522.1 1265.6,516.4 1271.2,510.8 1276.8,505.2 1282.5,499.5 1288.1,493.9 1293.7,488.3 1299.4,482.6 1305.2,477.1 1311.3,472.0 1317.2,466.7 1322.8,461.0 1328.2,455.1 1333.6,449.3 1339.1,443.5 1344.7,437.8 1350.3,432.1 1356.0,426.5 1361.6,420.9 1367.2,415.2 1372.9,409.6 1378.8,404.2 1385.0,399.2 1391.2,394.1 1397.1,388.7 1402.9,383.3 1409.0,378.0 1414.7,372.5 1420.1,366.6 1425.4,360.7 1430.9,354.9 1436.5,349.3 1442.2,343.6 1447.8,338.0 1453.4,332.4 1459.1,326.7 1464.7,321.1 1470.4,315.5 1476.2,310.1 1482.2,304.7 1488.0,299.3 1493.4,293.5 1498.8,287.5 1504.2,281.7 1509.9,276.1 1515.9,270.8 1521.9,265.6 1527.7,260.1 1533.6,254.8 1539.7,249.5 1545.5,244.1 1551.4,238.7 1557.4,233.4 1563.3,228.1 1569.1,222.6 1575.1,217.3 1583.6,214.6 1590.7,210.3 1598.9,207.3 1610.8,207.9 1624.6,210.5 1633.1,207.7 1645.4,211.0 1648.6,223.2 1640.1,226.0 1642.7,239.8 1643.3,251.7 1640.2,259.9 1636.0,267.0 1633.2,275.5 1628.0,281.5 1622.5,287.2 1617.1,293.2 1611.9,299.2 1606.5,305.1 1601.1,310.9 1595.8,317.0 1590.5,322.9 1585.0,328.7 1579.7,334.7 1574.5,340.7 1569.0,346.4 1563.6,352.3 1558.2,358.3 1552.7,364.0 1547.0,369.5 1541.0,374.9 1535.1,380.3 1529.5,385.9 1523.9,391.5 1518.2,397.1 1512.6,402.8 1507.0,408.4 1501.3,414.1 1495.7,419.7 1490.2,425.5 1484.9,431.4 1479.5,437.3 1473.7,442.8 1467.7,448.1 1461.9,453.5 1456.3,459.2 1450.7,464.9 1445.2,470.6 1439.6,476.3 1433.9,481.9 1428.3,487.6 1422.7,493.2 1417.0,498.8 1411.4,504.5 1405.8,510.1 1400.3,516.0 1394.9,521.8 1389.5,527.6 1383.9,533.4 1378.6,539.3 1373.5,545.4 1368.0,551.2 1362.3,556.9 1356.7,562.5 1351.1,568.1 1345.4,573.8 1339.8,579.4 1334.2,585.0 1328.5,590.7 1322.9,596.3 1317.3,602.0 1311.8,607.8 1306.5,613.7 1301.1,619.6 1295.6,625.4 1290.0,631.1 1284.5,636.8 1279.0,642.6 1273.6,648.5 1268.2,654.3 1262.7,660.1 1257.2,665.8 1251.6,671.5 1246.0,677.3 1240.6,683.1 1235.2,688.9 1229.7,694.8 1224.2,700.6 1218.7,706.2 1213.0,711.9 1207.5,717.6 1201.9,723.3 1196.3,729.0 1190.8,734.7 1185.3,740.5 1179.7,746.2 1174.2,751.9 1168.7,757.7 1163.1,763.4 1157.5,769.1 1152.0,774.8 1146.4,780.5 1140.7,786.1 1135.1,791.7 1129.4,797.4 1123.8,803.0 1118.2,808.6 1112.5,814.3 1106.9,819.9 1101.3,825.6 1095.6,831.2 1090.0,836.8 1084.4,842.5 1078.7,848.1 1073.1,853.7 1067.5,859.4 1061.9,865.0 1056.3,870.7 1050.7,876.4 1045.2,882.2 1039.6,887.9 1034.1,893.6 1028.6,899.4 1023.0,905.1 1017.4,910.8 1011.8,916.4 1006.2,922.1 1000.7,927.9 995.3,933.8 989.9,939.6 984.3,945.3 978.7,951.0 973.1,956.6 967.4,962.2 961.8,967.9 956.2,973.5 950.6,979.2 945.2,985.1 939.7,990.9 934.3,996.7 928.7,1002.4 923.1,1008.1 917.7,1013.9 912.3,1019.8 906.8,1025.6 901.2,1031.3 895.4,1036.8 889.6,1042.2 883.7,1047.6 878.0,1053.1 872.3,1058.7 866.7,1064.4 861.1,1070.0 855.4,1075.6 849.8,1081.3 844.2,1086.9 838.8,1092.8 833.4,1098.7 828.0,1104.5 822.2,1110.1 816.4,1115.5 810.6,1120.9 804.7,1126.4 799.1,1132.0 793.6,1137.8 788.3,1143.8 782.4,1149.2 776.5,1154.5 770.7,1160.0 765.1,1165.7 759.7,1171.5 754.2,1177.3 748.6,1183.0 743.0,1188.7 737.6,1194.6 732.2,1200.4 726.7,1206.2 721.1,1211.8 715.4,1217.4 709.5,1222.8 703.5,1228.0 697.6,1233.4 691.8,1238.9 685.7,1244.0 679.2,1248.9 672.7,1253.6 666.2,1258.4 660.0,1263.4 654.1,1268.8 648.3,1274.3 642.3,1279.6 636.3,1284.8 630.2,1290.0 624.1,1295.2 618.2,1300.5 612.5,1306.1 606.3,1311.2 599.7,1315.9 592.9,1320.3 586.1,1324.8 579.5,1329.5 573.3,1334.6 567.5,1340.1 561.3,1345.1 554.8,1349.9 548.2,1354.5 541.6,1359.2 535.3,1364.1 529.4,1369.5 523.4,1374.8 517.0,1379.7 510.4,1384.4 504.0,1389.2 497.8,1394.3 492.1,1399.9 486.1,1405.2 479.8,1410.1 473.6,1415.2 467.7,1420.5 461.2,1425.4 454.6,1430.0 448.3,1435.0 442.5,1440.5 436.3,1445.5 429.0,1449.5 421.5,1453.2 415.4,1458.4 408.2,1462.5 397.5,1463.1" fill="#0000a9"/>
<polygon points="379.4,1454.0 377.6,1443.2 370.6,1424.9 370.7,1413.7 374.9,1406.6 377.5,1398.0 380.2,1389.5 384.2,1382.1 389.5,1376.2 395.2,1370.6 401.0,1365.1 406.7,1359.6 412.4,1354.0 418.3,1348.6 424.5,1343.5 430.8,1338.6 436.7,1333.2 442.5,1327.7 448.4,1322.3 454.3,1317.0 460.2,1311.6 465.9,1306.1 471.6,1300.5 477.5,1295.1 483.4,1289.7 489.3,1284.4 495.2,1279.0 501.0,1273.5 506.7,1267.9 512.4,1262.3 518.1,1256.8 523.8,1251.2 529.5,1245.6 535.2,1240.1 540.8,1234.4 546.5,1228.9 552.4,1223.5 558.5,1218.3 564.6,1213.1 570.7,1207.9 576.6,1202.6 582.4,1197.1 588.1,1191.6 594.0,1186.2 599.9,1180.8 605.9,1175.5 611.8,1170.2 617.7,1164.8 623.3,1159.1 628.6,1153.2 633.8,1147.0 639.0,1141.0 644.5,1135.2 650.2,1129.6 656.0,1124.2 662.0,1119.0 668.0,1113.6 673.7,1108.0 679.3,1102.4 685.0,1096.9 690.8,1091.3 696.4,1085.7 702.0,1080.0 707.6,1074.3 713.3,1068.8 719.6,1063.8 725.6,1058.5 731.3,1052.9 737.1,1047.5 742.9,1042.0 748.8,1036.6 754.5,1031.1 760.0,1025.3 765.3,1019.3 770.7,1013.5 776.3,1007.8 781.9,1002.2 787.6,996.5 793.2,990.9 798.9,985.3 804.5,979.6 810.3,974.1 816.1,968.7 822.0,963.3 827.7,957.8 833.3,952.1 838.8,946.3 844.2,940.5 849.7,934.6 855.2,928.9 860.8,923.2 866.3,917.4 871.7,911.6 877.2,905.8 882.7,900.0 888.3,894.4 894.0,888.7 899.6,883.1 905.2,877.5 910.9,871.8 916.4,866.1 921.9,860.3 927.3,854.4 932.7,848.6 938.3,842.9 943.9,837.3 949.5,831.6 955.1,825.9 960.6,820.2 966.2,814.4 971.7,808.7 977.2,803.0 982.8,797.2 988.4,791.6 994.0,785.9 999.6,780.2 1005.2,774.6 1010.9,769.0 1016.5,763.3 1022.2,757.7 1027.8,752.1 1033.4,746.4 1039.1,740.8 1044.7,735.2 1050.3,729.5 1056.0,723.9 1061.6,718.3 1067.2,712.6 1072.9,707.0 1078.5,701.4 1084.2,695.8 1089.9,690.2 1095.6,684.7 1101.4,679.1 1107.1,673.6 1112.8,668.0 1118.6,662.5 1124.3,657.0 1130.0,651.4 1135.7,645.8 1141.4,640.2 1147.0,634.6 1152.7,629.0 1158.5,623.5 1164.3,618.1 1170.1,612.6 1175.9,607.2 1181.7,601.6 1187.4,596.0 1193.1,590.5 1198.9,585.0 1204.7,579.6 1210.5,574.1 1216.3,568.6 1222.0,563.1 1227.7,557.5 1233.5,552.0 1239.4,546.6 1245.3,541.2 1251.1,535.8 1256.8,530.2 1262.4,524.5 1268.0,518.9 1273.7,513.3 1279.3,507.6 1284.9,502.0 1290.6,496.4 1296.2,490.7 1301.8,485.1 1307.6,479.6 1313.7,474.4 1319.6,469.1 1325.2,463.3 1330.6,457.5 1336.0,451.7 1341.5,445.9 1347.1,440.2 1352.7,434.5 1358.4,428.9 1364.0,423.3 1369.6,417.6 1375.3,412.0 1381.2,406.6 1387.3,401.5 1393.5,396.4 1399.4,391.0 1405.3,385.6 1411.3,380.4 1417.0,374.8 1422.4,369.0 1427.7,363.0 1433.2,357.2 1438.9,351.6 1444.5,346.0 1450.1,340.3 1455.8,334.7 1461.4,329.1 1467.0,323.4 1472.7,317.8 1478.6,312.4 1484.5,307.1 1490.3,301.6 1495.8,295.8 1501.1,289.9 1506.5,284.0 1512.2,278.4 1518.2,273.1 1524.2,267.9 1529.9,262.3 1535.9,257.0 1541.9,251.7 1547.7,246.3 1553.5,240.8 1559.5,235.6 1565.5,230.2 1571.2,224.7 1577.2,219.4 1585.9,216.8 1593.1,212.7 1601.6,210.0 1614.8,212.0 1631.2,219.4 1638.6,235.7 1640.6,249.0 1637.8,257.5 1633.7,264.7 1631.1,273.4 1625.9,279.4 1620.3,285.1 1615.0,291.0 1609.7,297.1 1604.3,302.9 1598.9,308.7 1593.6,314.7 1588.2,320.6 1582.7,326.4 1577.4,332.4 1572.2,338.4 1566.6,344.1 1561.2,350.0 1555.9,355.9 1550.4,361.7 1544.6,367.2 1538.7,372.5 1532.8,377.9 1527.2,383.6 1521.5,389.2 1515.9,394.8 1510.3,400.5 1504.6,406.1 1499.0,411.7 1493.4,417.4 1487.9,423.2 1482.5,429.1 1477.1,435.0 1471.4,440.5 1465.4,445.8 1459.5,451.2 1453.9,456.8 1448.4,462.5 1442.8,468.2 1437.2,473.9 1431.5,479.5 1425.9,485.2 1420.3,490.8 1414.6,496.4 1409.0,502.1 1403.4,507.8 1397.9,513.6 1392.5,519.4 1387.1,525.2 1381.5,531.0 1376.2,536.9 1371.0,543.0 1365.5,548.8 1359.9,554.4 1354.2,560.0 1348.6,565.7 1343.0,571.3 1337.3,576.9 1331.7,582.6 1326.1,588.2 1320.4,593.8 1314.8,599.5 1309.4,605.3 1304.0,611.2 1298.6,617.1 1293.1,622.9 1287.5,628.5 1281.9,634.3 1276.5,640.1 1271.0,645.9 1265.6,651.7 1260.1,657.5 1254.6,663.2 1249.0,668.9 1243.4,674.7 1238.0,680.5 1232.5,686.3 1227.1,692.1 1221.6,697.9 1216.0,703.6 1210.4,709.2 1204.8,714.9 1199.2,720.6 1193.6,726.3 1188.1,732.0 1182.6,737.8 1177.0,743.5 1171.5,749.2 1165.9,755.0 1160.4,760.7 1154.8,766.4 1149.2,772.1 1143.6,777.7 1138.0,783.4 1132.3,789.0 1126.7,794.6 1121.1,800.3 1115.4,805.9 1109.8,811.5 1104.2,817.2 1098.5,822.8 1092.9,828.5 1087.3,834.1 1081.6,839.7 1076.0,845.4 1070.4,851.0 1064.7,856.6 1059.1,862.3 1053.5,868.0 1048.0,873.7 1042.4,879.4 1036.9,885.2 1031.4,890.9 1025.8,896.6 1020.3,902.3 1014.7,908.0 1009.1,913.7 1003.5,919.4 998.0,925.2 992.6,931.0 987.2,936.9 981.6,942.6 976.0,948.2 970.3,953.9 964.7,959.5 959.1,965.1 953.4,970.8 947.9,976.5 942.4,982.3 937.0,988.2 931.5,993.9 926.0,999.6 920.4,1005.4 915.0,1011.2 909.5,1017.1 904.1,1022.9 898.5,1028.5 892.7,1034.0 886.9,1039.5 881.0,1044.9 875.2,1050.4 869.6,1056.0 864.0,1061.6 858.3,1067.3 852.7,1072.9 847.1,1078.5 841.4,1084.2 836.0,1090.1 830.7,1096.0 825.2,1101.8 819.5,1107.4 813.7,1112.8 807.8,1118.2 802.0,1123.7 796.3,1129.3 790.9,1135.1 785.5,1141.0 779.6,1146.3 773.5,1151.6 767.7,1157.0 762.1,1162.7 756.6,1168.4 751.0,1174.1 745.4,1179.8 739.8,1185.4 734.5,1191.4 729.2,1197.4 723.8,1203.3 718.2,1208.9 712.4,1214.4 706.4,1219.7 700.3,1224.8 694.3,1230.1 688.5,1235.6 682.4,1240.7 675.9,1245.6 669.4,1250.3 662.9,1255.0 656.6,1260.0 650.7,1265.4 644.9,1270.9 638.9,1276.2 632.9,1281.4 626.8,1286.6 620.7,1291.8 614.8,1297.1 609.1,1302.7 602.9,1307.8 596.3,1312.5 589.5,1317.0 582.7,1321.4 576.2,1326.1 570.0,1331.3 564.2,1336.7 558.0,1341.8 551.5,1346.6 544.9,1351.3 538.4,1356.0 532.1,1361.0 526.2,1366.3 520.3,1371.7 513.9,1376.6 507.4,1381.4 501.0,1386.2 494.9,1391.4 489.2,1397.0 483.4,1402.5 477.3,1407.6 471.2,1412.8 465.3,1418.2 458.9,1423.1 452.4,1427.8 446.1,1432.8 440.3,1438.3 433.8,1443.1 426.3,1446.8 418.4,1450.1 412.2,1455.2 404.4,1458.7 390.2,1455.7" fill="#0000b7"/>
<polygon points="383.0,1446.3 376.6,1430.9 375.2,1418.2 379.1,1410.8 381.1,1401.6 383.3,1392.5 387.0,1384.9 392.2,1378.9 398.0,1373.4 403.9,1368.0 409.7,1362.6 415.4,1357.0 421.5,1351.8 427.9,1347.0 434.6,1342.4 440.5,1337.0 446.3,1331.6 452.3,1326.3 458.3,1321.0 464.3,1315.7 470.0,1310.2 475.7,1304.6 481.6,1299.2 487.6,1293.9 493.5,1288.6 499.5,1283.3 505.3,1277.8 511.0,1272.2 516.7,1266.6 522.4,1261.1 528.1,1255.5 533.8,1250.0 539.5,1244.4 545.2,1238.8 550.9,1233.2 556.8,1227.9 562.8,1222.6 568.9,1217.5 575.0,1212.3 581.0,1207.0 586.8,1201.5 592.5,1195.9 598.3,1190.5 604.2,1185.1 610.1,1179.8 616.0,1174.4 621.8,1168.9 627.5,1163.3 632.6,1157.2 637.6,1150.9 642.8,1144.8 648.1,1138.9 653.8,1133.3 659.8,1128.0 666.0,1122.9 672.1,1117.8 677.8,1112.1 683.3,1106.4 688.9,1100.8 694.6,1095.1 700.2,1089.5 705.7,1083.8 711.2,1077.9 716.8,1072.3 723.0,1067.2 729.0,1061.9 734.7,1056.3 740.5,1050.9 746.3,1045.5 752.2,1040.0 757.9,1034.5 763.4,1028.7 768.7,1022.7 774.1,1016.9 779.7,1011.2 785.4,1005.6 791.0,1000.0 796.6,994.3 802.3,988.7 807.9,983.1 813.7,977.5 819.5,972.1 825.4,966.7 831.1,961.2 836.8,955.5 842.2,949.7 847.6,943.9 853.1,938.0 858.6,932.3 864.2,926.6 869.7,920.8 875.1,915.0 880.6,909.2 886.1,903.4 891.7,897.8 897.4,892.2 903.0,886.5 908.6,880.9 914.3,875.3 919.8,869.5 925.3,863.7 930.7,857.8 936.2,852.0 941.7,846.4 947.4,840.7 952.9,835.0 958.5,829.3 964.0,823.6 969.6,817.8 975.1,812.1 980.7,806.4 986.2,800.7 991.8,795.0 997.4,789.3 1003.0,783.7 1008.7,778.0 1014.3,772.4 1019.9,766.8 1025.6,761.1 1031.2,755.5 1036.8,749.9 1042.5,744.2 1048.1,738.6 1053.8,732.9 1059.4,727.3 1065.0,721.7 1070.7,716.0 1076.3,710.4 1082.0,704.8 1087.6,699.2 1093.3,693.6 1099.0,688.1 1104.8,682.5 1110.5,677.0 1116.2,671.4 1121.9,665.9 1127.6,660.3 1133.3,654.7 1139.0,649.2 1144.7,643.6 1150.4,637.9 1156.0,632.3 1161.8,626.8 1167.6,621.4 1173.4,615.9 1179.2,610.4 1184.9,604.9 1190.6,599.3 1196.3,593.7 1202.1,588.2 1207.9,582.8 1213.7,577.3 1219.5,571.8 1225.2,566.3 1230.9,560.7 1236.7,555.2 1242.5,549.8 1248.4,544.3 1254.2,538.9 1259.8,533.3 1265.5,527.6 1271.1,522.0 1276.7,516.3 1282.4,510.7 1288.0,505.1 1293.6,499.4 1299.3,493.8 1304.9,488.2 1310.7,482.7 1316.7,477.4 1322.6,472.1 1328.2,466.3 1333.6,460.5 1339.0,454.6 1344.5,448.8 1350.1,443.2 1355.7,437.5 1361.4,431.9 1367.0,426.3 1372.6,420.6 1378.3,415.0 1384.1,409.6 1390.3,404.5 1396.4,399.4 1402.3,394.0 1408.2,388.5 1414.2,383.3 1419.9,377.7 1425.3,371.9 1430.6,365.9 1436.1,360.1 1441.8,354.5 1447.4,348.9 1453.0,343.2 1458.7,337.6 1464.3,332.0 1469.9,326.3 1475.6,320.7 1481.5,315.3 1487.4,310.0 1493.2,304.5 1498.7,298.7 1504.0,292.8 1509.4,286.9 1515.1,281.3 1521.1,276.0 1527.0,270.7 1532.8,265.1 1538.6,259.8 1544.6,254.5 1550.4,249.0 1556.2,243.6 1562.2,238.3 1568.1,232.9 1573.9,227.4 1579.8,222.0 1588.8,219.7 1596.2,215.8 1605.2,213.7 1623.3,220.4 1629.5,221.1 1630.2,227.3 1636.9,245.3 1634.7,254.4 1630.8,261.8 1628.5,270.8 1623.2,276.7 1617.7,282.5 1612.3,288.4 1607.0,294.3 1601.6,300.1 1596.1,306.0 1590.8,311.9 1585.4,317.8 1579.9,323.6 1574.6,329.5 1569.3,335.5 1563.7,341.2 1558.3,347.1 1553.0,353.0 1547.5,358.8 1541.7,364.3 1535.8,369.6 1529.9,375.0 1524.3,380.6 1518.6,386.3 1513.0,391.9 1507.4,397.6 1501.7,403.2 1496.1,408.8 1490.4,414.5 1485.0,420.2 1479.6,426.2 1474.2,432.1 1468.5,437.6 1462.5,442.9 1456.6,448.3 1451.0,453.9 1445.4,459.6 1439.8,465.3 1434.2,470.9 1428.5,476.5 1422.9,482.2 1417.3,487.8 1411.6,493.5 1406.0,499.1 1400.4,504.8 1394.9,510.6 1389.5,516.4 1384.1,522.3 1378.5,528.0 1373.2,533.9 1367.9,539.9 1362.4,545.7 1356.8,551.3 1351.2,557.0 1345.5,562.6 1339.9,568.2 1334.3,573.9 1328.6,579.5 1323.0,585.1 1317.3,590.8 1311.7,596.4 1306.3,602.2 1300.8,608.1 1295.4,613.9 1289.9,619.7 1284.3,625.4 1278.8,631.1 1273.3,636.9 1267.8,642.7 1262.4,648.5 1256.9,654.3 1251.3,660.0 1245.7,665.7 1240.2,671.4 1234.7,677.2 1229.2,683.0 1223.8,688.8 1218.3,694.6 1212.7,700.2 1207.0,705.9 1201.4,711.6 1195.9,717.3 1190.3,723.0 1184.7,728.7 1179.2,734.4 1173.6,740.1 1168.1,745.8 1162.5,751.6 1157.0,757.3 1151.4,763.0 1145.8,768.7 1140.2,774.3 1134.6,779.9 1128.9,785.6 1123.3,791.2 1117.7,796.9 1112.0,802.5 1106.4,808.1 1100.8,813.8 1095.1,819.4 1089.5,825.0 1083.8,830.7 1078.2,836.3 1072.6,841.9 1066.9,847.6 1061.3,853.2 1055.7,858.9 1050.1,864.6 1044.6,870.3 1039.0,876.0 1033.5,881.7 1027.9,887.5 1022.4,893.2 1016.8,898.9 1011.3,904.6 1005.7,910.3 1000.1,916.0 994.6,921.8 989.2,927.6 983.7,933.4 978.2,939.2 972.5,944.8 966.9,950.4 961.3,956.1 955.6,961.7 950.0,967.3 944.5,973.1 939.0,978.9 933.6,984.7 928.1,990.5 922.5,996.2 917.0,1001.9 911.5,1007.8 906.1,1013.6 900.7,1019.4 895.1,1025.1 889.3,1030.6 883.4,1036.0 877.6,1041.5 871.8,1047.0 866.2,1052.6 860.5,1058.2 854.9,1063.9 849.3,1069.5 843.6,1075.1 838.0,1080.8 832.6,1086.6 827.3,1092.6 821.8,1098.4 816.1,1103.9 810.3,1109.4 804.4,1114.8 798.6,1120.3 792.9,1125.9 787.4,1131.6 782.0,1137.5 775.9,1142.7 769.8,1147.8 764.0,1153.3 758.3,1158.9 752.7,1164.5 747.0,1170.1 741.3,1175.7 735.7,1181.3 730.5,1187.4 725.4,1193.6 720.2,1199.6 714.6,1205.3 708.7,1210.7 702.5,1215.8 696.3,1220.8 690.2,1226.0 684.4,1231.4 678.2,1236.5 671.7,1241.3 665.1,1246.0 658.5,1250.7 652.2,1255.7 646.3,1261.0 640.6,1266.5 634.6,1271.9 628.5,1277.0 622.4,1282.2 616.4,1287.4 610.4,1292.8 604.7,1298.3 598.6,1303.5 592.0,1308.2 585.2,1312.6 578.4,1317.1 571.9,1321.8 565.7,1326.9 559.9,1332.4 553.7,1337.5 547.3,1342.4 540.7,1347.1 534.2,1351.9 528.0,1356.8 522.1,1362.2 516.2,1367.6 509.9,1372.6 503.5,1377.4 497.1,1382.3 491.0,1387.5 485.4,1393.2 480.0,1399.0 474.1,1404.4 468.2,1409.8 462.4,1415.2 456.1,1420.2 449.6,1425.0 443.4,1430.1 437.5,1435.5 430.8,1440.0 422.7,1443.2 414.1,1445.9 407.7,1450.7 398.4,1452.7" fill="#0000cb"/>
<polygon points="386.9,1438.9 379.8,1422.8 383.2,1415.0 384.4,1404.9 386.0,1395.2 389.4,1387.3 394.6,1381.3 400.4,1375.8 406.4,1370.5 412.3,1365.1 418.0,1359.6 424.2,1354.5 431.0,1350.0 437.9,1345.7 444.0,1340.5 449.8,1335.0 455.8,1329.8 461.9,1324.6 467.9,1319.3 473.7,1313.9 479.4,1308.3 485.3,1302.9 491.3,1297.7 497.4,1292.4 503.3,1287.1 509.2,1281.7 514.9,1276.1 520.5,1270.5 526.2,1264.9 532.0,1259.4 537.7,1253.8 543.4,1248.3 549.1,1242.7 554.8,1237.1 560.7,1231.7 566.7,1226.5 572.8,1221.4 578.9,1216.2 584.9,1210.9 590.6,1205.4 596.3,1199.8 602.1,1194.3 608.0,1188.9 613.9,1183.5 619.7,1178.1 625.5,1172.6 631.1,1167.0 636.2,1160.7 641.0,1154.3 646.0,1148.0 651.2,1142.0 657.0,1136.4 663.1,1131.3 669.5,1126.4 675.7,1121.4 681.4,1115.7 686.8,1109.9 692.3,1104.1 697.8,1098.4 703.4,1092.7 708.9,1087.0 714.3,1081.0 719.8,1075.3 726.0,1070.2 731.9,1064.8 737.6,1059.3 743.4,1053.8 749.3,1048.4 755.1,1043.0 760.8,1037.4 766.3,1031.6 771.6,1025.7 777.0,1019.8 782.7,1014.1 788.3,1008.5 793.9,1002.9 799.6,997.2 805.2,991.6 810.8,986.0 816.6,980.5 822.5,975.1 828.3,969.6 834.1,964.1 839.7,958.5 845.2,952.7 850.6,946.8 856.0,941.0 861.6,935.2 867.1,929.5 872.6,923.8 878.0,917.9 883.5,912.1 889.0,906.4 894.7,900.7 900.3,895.1 905.9,889.5 911.6,883.8 917.2,878.2 922.8,872.5 928.2,866.6 933.6,860.8 939.1,855.0 944.7,849.3 950.3,843.6 955.9,837.9 961.4,832.2 967.0,826.5 972.5,820.8 978.0,815.0 983.6,809.3 989.1,803.6 994.7,797.9 1000.3,792.2 1006.0,786.6 1011.6,781.0 1017.2,775.3 1022.9,769.7 1028.5,764.1 1034.1,758.4 1039.8,752.8 1045.4,747.1 1051.0,741.5 1056.7,735.9 1062.3,730.2 1068.0,724.6 1073.6,719.0 1079.2,713.3 1084.9,707.7 1090.6,702.1 1096.2,696.5 1101.9,691.0 1107.7,685.4 1113.4,679.9 1119.1,674.3 1124.8,668.7 1130.5,663.2 1136.2,657.6 1141.9,652.0 1147.6,646.4 1153.2,640.8 1158.9,635.2 1164.6,629.7 1170.4,624.2 1176.2,618.7 1182.0,613.2 1187.7,607.7 1193.4,602.1 1199.1,596.5 1204.9,591.0 1210.7,585.5 1216.4,580.0 1222.2,574.5 1227.9,569.0 1233.6,563.4 1239.4,557.9 1245.2,552.4 1251.0,547.0 1256.8,541.5 1262.5,535.9 1268.1,530.2 1273.7,524.6 1279.4,519.0 1285.0,513.3 1290.6,507.7 1296.3,502.1 1301.9,496.4 1307.5,490.8 1313.3,485.3 1319.3,480.0 1325.2,474.6 1330.7,468.9 1336.2,463.1 1341.6,457.2 1347.1,451.4 1352.6,445.7 1358.3,440.1 1363.9,434.5 1369.6,428.8 1375.2,423.2 1380.8,417.5 1386.7,412.1 1392.8,407.0 1398.9,401.8 1404.8,396.4 1410.7,391.0 1416.7,385.8 1422.4,380.2 1427.8,374.3 1433.1,368.4 1438.6,362.6 1444.2,357.0 1449.9,351.3 1455.5,345.7 1461.1,340.1 1466.8,334.4 1472.4,328.8 1478.1,323.2 1483.9,317.8 1489.9,312.4 1495.7,307.0 1501.1,301.2 1506.5,295.2 1511.9,289.4 1517.6,283.8 1523.5,278.4 1529.4,273.1 1535.1,267.5 1541.0,262.1 1547.0,256.8 1552.8,251.3 1558.5,245.9 1564.5,240.5 1570.4,235.1 1576.1,229.6 1582.0,224.3 1591.3,222.3 1599.0,218.6 1608.8,217.2 1625.6,225.0 1633.4,241.8 1631.9,251.6 1628.3,259.2 1626.3,268.5 1621.0,274.5 1615.4,280.2 1610.0,286.1 1604.7,292.0 1599.2,297.8 1593.8,303.6 1588.4,309.6 1583.0,315.4 1577.5,321.2 1572.1,327.1 1566.8,333.0 1561.3,338.7 1555.8,344.6 1550.5,350.5 1545.0,356.3 1539.2,361.8 1533.3,367.1 1527.4,372.6 1521.8,378.2 1516.2,383.8 1510.5,389.4 1504.9,395.1 1499.2,400.7 1493.6,406.3 1488.0,412.0 1482.5,417.8 1477.2,423.7 1471.8,429.6 1466.0,435.1 1460.0,440.4 1454.2,445.8 1448.5,451.4 1442.9,457.1 1437.3,462.7 1431.6,468.4 1426.0,474.0 1420.4,479.6 1414.7,485.3 1409.1,490.9 1403.4,496.5 1397.9,502.2 1392.4,508.0 1387.0,513.9 1381.5,519.7 1376.0,525.4 1370.6,531.3 1365.3,537.3 1359.8,543.0 1354.2,548.7 1348.5,554.3 1342.9,560.0 1337.3,565.6 1331.6,571.2 1326.0,576.9 1320.3,582.5 1314.7,588.1 1309.1,593.8 1303.6,599.6 1298.2,605.4 1292.7,611.2 1287.2,617.0 1281.6,622.7 1276.1,628.4 1270.6,634.1 1265.1,639.9 1259.6,645.7 1254.1,651.5 1248.5,657.2 1242.9,662.9 1237.4,668.6 1231.9,674.4 1226.4,680.2 1220.9,686.0 1215.4,691.7 1209.8,697.4 1204.2,703.0 1198.6,708.7 1193.0,714.4 1187.4,720.1 1181.9,725.8 1176.3,731.5 1170.8,737.2 1165.2,742.9 1159.6,748.7 1154.1,754.4 1148.5,760.1 1142.9,765.7 1137.3,771.4 1131.6,777.0 1126.0,782.7 1120.4,788.3 1114.7,793.9 1109.1,799.6 1103.5,805.2 1097.8,810.8 1092.2,816.5 1086.6,822.1 1080.9,827.7 1075.3,833.4 1069.6,839.0 1064.0,844.6 1058.4,850.3 1052.8,855.9 1047.2,861.6 1041.6,867.4 1036.1,873.1 1030.6,878.8 1025.0,884.6 1019.5,890.3 1013.9,896.0 1008.3,901.7 1002.7,907.3 997.1,913.0 991.7,918.8 986.3,924.7 980.8,930.5 975.3,936.2 969.6,941.9 964.0,947.5 958.4,953.1 952.7,958.8 947.1,964.4 941.6,970.2 936.1,976.0 930.7,981.8 925.2,987.6 919.6,993.3 914.1,999.0 908.6,1004.9 903.2,1010.7 897.7,1016.5 892.1,1022.2 886.4,1027.7 880.5,1033.1 874.7,1038.5 868.9,1044.0 863.3,1049.7 857.6,1055.3 852.0,1060.9 846.3,1066.6 840.7,1072.2 835.1,1077.9 829.7,1083.7 824.4,1089.7 818.9,1095.5 813.2,1101.0 807.3,1106.4 801.5,1111.9 795.7,1117.3 790.0,1122.9 784.5,1128.7 779.0,1134.5 772.9,1139.6 766.6,1144.6 760.7,1150.0 755.0,1155.6 749.3,1161.1 743.5,1166.6 737.7,1172.1 732.1,1177.7 727.1,1184.0 722.2,1190.4 717.0,1196.5 711.5,1202.2 705.5,1207.5 699.2,1212.5 692.7,1217.3 686.5,1222.3 680.7,1227.8 674.5,1232.8 668.0,1237.6 661.3,1242.2 654.7,1246.9 648.4,1251.8 642.4,1257.2 636.7,1262.7 630.7,1268.0 624.6,1273.2 618.5,1278.3 612.5,1283.6 606.6,1288.9 600.8,1294.5 594.7,1299.6 588.1,1304.3 581.3,1308.8 574.6,1313.3 568.0,1318.0 561.8,1323.1 556.0,1328.6 549.9,1333.7 543.5,1338.6 537.0,1343.3 530.5,1348.1 524.3,1353.1 518.4,1358.5 512.5,1363.9 506.3,1369.0 499.9,1373.9 493.6,1378.9 487.6,1384.1 482.1,1389.9 476.9,1396.0 471.4,1401.7 465.6,1407.2 459.8,1412.7 453.6,1417.7 447.2,1422.6 441.1,1427.7 435.1,1433.1 428.1,1437.3 419.5,1439.9 410.0,1441.7 403.1,1446.1" fill="#0000df"/>
<polygon points="387.0,1438.8 385.9,1429.0 388.0,1419.8 387.6,1408.1 388.4,1397.6 391.5,1389.5 396.7,1383.4 402.6,1378.0 408.6,1372.7 414.6,1367.4 420.3,1361.9 426.7,1357.0 433.8,1352.8 441.1,1348.8 447.2,1343.7 453.1,1338.3 459.2,1333.2 465.4,1328.1 471.4,1322.9 477.3,1317.4 483.0,1311.9 488.9,1306.5 495.0,1301.3 501.0,1296.1 507.0,1290.8 512.9,1285.4 518.6,1279.8 524.3,1274.2 529.9,1268.6 535.7,1263.1 541.4,1257.5 547.1,1251.9 552.7,1246.3 558.4,1240.8 564.3,1235.4 570.4,1230.2 576.5,1225.0 582.6,1219.8 588.5,1214.5 594.3,1209.0 600.0,1203.4 605.7,1197.9 611.5,1192.4 617.4,1187.0 623.2,1181.5 628.9,1176.0 634.5,1170.3 639.4,1164.0 644.0,1157.3 648.8,1150.8 654.1,1144.8 659.8,1139.3 666.1,1134.2 672.6,1129.5 679.0,1124.7 684.7,1119.0 690.0,1113.2 695.4,1107.2 700.8,1101.4 706.4,1095.7 711.9,1089.9 717.1,1083.8 722.5,1078.0 728.6,1072.8 734.5,1067.5 740.2,1061.9 746.0,1056.4 751.9,1051.0 757.7,1045.6 763.5,1040.0 768.9,1034.2 774.3,1028.3 779.7,1022.4 785.3,1016.8 790.9,1011.1 796.6,1005.5 802.2,999.9 807.8,994.2 813.5,988.6 819.2,983.1 825.1,977.7 830.9,972.3 836.7,966.8 842.3,961.1 847.8,955.3 853.2,949.4 858.6,943.6 864.2,937.9 869.8,932.2 875.2,926.4 880.7,920.6 886.1,914.7 891.7,909.0 897.3,903.4 902.9,897.7 908.6,892.1 914.2,886.4 919.8,880.8 925.4,875.1 930.8,869.3 936.2,863.4 941.7,857.6 947.3,851.9 952.9,846.3 958.5,840.6 964.0,834.9 969.6,829.1 975.1,823.4 980.7,817.7 986.2,811.9 991.8,806.2 997.4,800.5 1003.0,794.9 1008.6,789.2 1014.2,783.6 1019.9,778.0 1025.5,772.3 1031.1,766.7 1036.8,761.0 1042.4,755.4 1048.0,749.8 1053.7,744.1 1059.3,738.5 1064.9,732.9 1070.6,727.2 1076.2,721.6 1081.9,716.0 1087.5,710.3 1093.2,704.7 1098.9,699.2 1104.6,693.6 1110.3,688.0 1116.0,682.5 1121.7,676.9 1127.4,671.3 1133.1,665.8 1138.8,660.2 1144.5,654.6 1150.1,649.0 1155.8,643.4 1161.5,637.8 1167.2,632.2 1173.0,626.7 1178.7,621.2 1184.5,615.7 1190.2,610.2 1195.9,604.6 1201.6,599.0 1207.3,593.5 1213.1,588.0 1218.9,582.5 1224.7,577.0 1230.4,571.4 1236.0,565.8 1241.8,560.3 1247.6,554.8 1253.4,549.4 1259.2,543.9 1264.8,538.2 1270.5,532.6 1276.1,527.0 1281.7,521.3 1287.4,515.7 1293.0,510.1 1298.6,504.4 1304.3,498.8 1309.9,493.2 1315.6,487.6 1321.6,482.3 1327.5,476.9 1333.0,471.2 1338.5,465.3 1343.9,459.5 1349.3,453.7 1354.9,448.0 1360.6,442.4 1366.2,436.7 1371.8,431.1 1377.5,425.5 1383.1,419.8 1389.0,414.4 1395.0,409.2 1401.1,404.0 1407.0,398.6 1412.8,393.2 1418.8,387.9 1424.6,382.4 1430.0,376.5 1435.3,370.6 1440.8,364.8 1446.4,359.2 1452.0,353.5 1457.6,347.8 1463.3,342.2 1468.9,336.6 1474.6,330.9 1480.2,325.3 1486.1,319.9 1492.0,314.6 1497.8,309.1 1503.3,303.3 1508.6,297.4 1514.1,291.5 1519.7,286.0 1525.6,280.5 1531.5,275.1 1537.2,269.6 1543.0,264.2 1549.0,258.8 1554.8,253.3 1560.5,247.8 1566.5,242.5 1572.3,237.1 1578.1,231.6 1584.0,226.3 1593.7,224.7 1601.7,221.4 1612.8,221.2 1625.6,225.0 1629.4,237.8 1629.2,248.9 1625.9,256.8 1624.3,266.5 1619.0,272.5 1613.5,278.2 1608.1,284.1 1602.7,290.0 1597.2,295.8 1591.8,301.6 1586.4,307.6 1581.0,313.4 1575.4,319.1 1570.0,325.0 1564.6,330.8 1559.1,336.6 1553.7,342.4 1548.4,348.4 1542.9,354.2 1537.1,359.7 1531.2,365.0 1525.3,370.4 1519.6,376.0 1514.0,381.7 1508.4,387.3 1502.8,392.9 1497.1,398.6 1491.4,404.2 1485.8,409.8 1480.3,415.6 1475.0,421.5 1469.6,427.4 1463.9,433.0 1457.8,438.2 1452.0,443.6 1446.3,449.2 1440.7,454.8 1435.0,460.4 1429.3,466.1 1423.7,471.7 1418.1,477.3 1412.4,483.0 1406.8,488.6 1401.2,494.2 1395.6,499.9 1390.1,505.7 1384.7,511.6 1379.2,517.4 1373.7,523.1 1368.3,529.0 1363.0,535.0 1357.4,540.7 1351.8,546.3 1346.2,552.0 1340.5,557.6 1334.9,563.2 1329.3,568.9 1323.6,574.5 1318.0,580.1 1312.3,585.8 1306.7,591.4 1301.2,597.2 1295.8,603.0 1290.3,608.8 1284.8,614.6 1279.2,620.2 1273.6,625.9 1268.1,631.7 1262.6,637.5 1257.1,643.3 1251.6,649.0 1246.0,654.7 1240.4,660.4 1234.9,666.1 1229.4,671.9 1223.9,677.6 1218.4,683.4 1212.8,689.1 1207.2,694.8 1201.6,700.5 1196.0,706.1 1190.4,711.8 1184.8,717.5 1179.3,723.2 1173.7,728.9 1168.2,734.6 1162.6,740.3 1157.0,746.0 1151.4,751.7 1145.9,757.4 1140.3,763.1 1134.6,768.7 1129.0,774.4 1123.4,780.0 1117.7,785.7 1112.1,791.3 1106.5,796.9 1100.8,802.6 1095.2,808.2 1089.6,813.8 1083.9,819.5 1078.3,825.1 1072.7,830.7 1067.0,836.4 1061.4,842.0 1055.7,847.7 1050.1,853.3 1044.6,859.0 1039.0,864.7 1033.5,870.5 1027.9,876.2 1022.4,881.9 1016.8,887.6 1011.3,893.4 1005.7,899.1 1000.1,904.7 994.5,910.4 989.0,916.2 983.6,922.1 978.2,927.9 972.6,933.6 967.0,939.2 961.4,944.9 955.7,950.5 950.1,956.1 944.5,961.8 938.9,967.5 933.5,973.3 928.0,979.2 922.5,985.0 917.0,990.7 911.4,996.4 906.0,1002.2 900.6,1008.1 895.1,1013.9 889.5,1019.5 883.7,1025.1 877.9,1030.5 872.0,1035.9 866.3,1041.4 860.6,1047.0 855.0,1052.7 849.4,1058.3 843.7,1063.9 838.1,1069.6 832.5,1075.2 827.1,1081.1 821.7,1087.0 816.2,1092.8 810.5,1098.4 804.7,1103.8 798.8,1109.2 793.0,1114.7 787.4,1120.3 781.8,1126.0 776.3,1131.8 770.1,1136.8 763.7,1141.7 757.8,1147.0 752.0,1152.6 746.2,1158.0 740.3,1163.4 734.4,1168.8 728.8,1174.4 723.9,1180.8 719.2,1187.4 714.2,1193.7 708.7,1199.4 702.6,1204.6 696.1,1209.4 689.5,1214.0 683.1,1218.9 677.3,1224.4 671.0,1229.4 664.5,1234.1 657.8,1238.7 651.1,1243.3 644.7,1248.2 638.8,1253.5 633.0,1259.0 627.0,1264.3 621.0,1269.5 614.9,1274.7 608.8,1279.9 602.9,1285.2 597.2,1290.8 591.0,1295.9 584.4,1300.6 577.6,1305.1 570.8,1309.6 564.3,1314.2 558.1,1319.4 552.3,1324.8 546.2,1330.0 539.8,1334.9 533.4,1339.7 526.9,1344.5 520.7,1349.6 514.9,1355.0 509.0,1360.4 502.8,1365.5 496.6,1370.5 490.3,1375.6 484.3,1380.8 479.0,1386.7 474.1,1393.2 468.9,1399.2 463.3,1404.9 457.5,1410.4 451.3,1415.5 445.0,1420.4 438.9,1425.6 433.0,1430.9 425.7,1434.9 416.2,1436.7 405.2,1437.0 396.9,1439.9" fill="#0000f4"/>
<polygon points="397.4,1426.9 391.0,1411.5 390.8,1400.0 393.6,1391.5 398.7,1385.3 404.6,1380.0 410.7,1374.8 416.7,1369.6 422.5,1364.1 429.1,1359.4 436.5,1355.6 444.2,1352.0 450.5,1347.0 456.5,1341.7 462.6,1336.6 468.9,1331.6 475.0,1326.4 480.9,1321.0 486.6,1315.5 492.6,1310.2 498.7,1305.0 504.8,1299.8 510.8,1294.6 516.7,1289.2 522.4,1283.6 528.0,1278.0 533.7,1272.4 539.4,1266.8 545.1,1261.2 550.7,1255.6 556.4,1250.0 562.1,1244.4 568.0,1239.1 574.0,1233.8 580.2,1228.7 586.2,1223.5 592.2,1218.2 598.0,1212.7 603.6,1207.1 609.3,1201.5 615.0,1195.9 620.8,1190.4 626.5,1184.9 632.2,1179.3 637.8,1173.6 642.6,1167.1 646.9,1160.2 651.6,1153.6 656.7,1147.4 662.4,1141.9 668.9,1137.0 675.7,1132.6 682.2,1127.9 687.9,1122.2 693.1,1116.2 698.4,1110.2 703.7,1104.3 709.2,1098.5 714.6,1092.6 719.7,1086.5 725.0,1080.5 731.1,1075.3 737.0,1069.9 742.7,1064.4 748.5,1058.9 754.3,1053.5 760.2,1048.0 765.9,1042.5 771.4,1036.7 776.7,1030.7 782.1,1024.9 787.7,1019.2 793.4,1013.6 799.0,1008.0 804.6,1002.3 810.3,996.7 815.9,991.1 821.7,985.6 827.5,980.1 833.4,974.7 839.2,969.2 844.8,963.5 850.2,957.7 855.6,951.9 861.1,946.0 866.6,940.3 872.2,934.6 877.7,928.8 883.1,923.0 888.6,917.2 894.1,911.4 899.7,905.8 905.4,900.2 911.0,894.5 916.6,888.9 922.3,883.3 927.8,877.5 933.3,871.7 938.7,865.9 944.2,860.1 949.8,854.4 955.4,848.7 960.9,843.0 966.5,837.3 972.0,831.6 977.6,825.8 983.1,820.1 988.7,814.4 994.2,808.7 999.8,803.0 1005.4,797.3 1011.0,791.7 1016.7,786.0 1022.3,780.4 1027.9,774.8 1033.6,769.1 1039.2,763.5 1044.9,757.9 1050.5,752.2 1056.1,746.6 1061.8,741.0 1067.4,735.3 1073.0,729.7 1078.7,724.0 1084.3,718.4 1090.0,712.8 1095.6,707.2 1101.3,701.6 1107.0,696.0 1112.7,690.4 1118.4,684.9 1124.1,679.3 1129.8,673.7 1135.5,668.2 1141.2,662.6 1146.9,657.0 1152.5,651.4 1158.2,645.7 1163.8,640.1 1169.6,634.6 1175.3,629.1 1181.1,623.6 1186.8,618.1 1192.6,612.5 1198.2,606.9 1203.9,601.3 1209.6,595.8 1215.4,590.3 1221.2,584.8 1226.9,579.2 1232.6,573.7 1238.3,568.0 1244.0,562.5 1249.8,557.0 1255.6,551.6 1261.3,546.0 1267.0,540.4 1272.6,534.8 1278.2,529.1 1283.9,523.5 1289.5,517.8 1295.1,512.2 1300.7,506.5 1306.4,500.9 1312.0,495.3 1317.8,489.8 1323.7,484.4 1329.5,478.9 1335.0,473.2 1340.5,467.4 1345.9,461.5 1351.4,455.7 1357.0,450.1 1362.6,444.4 1368.3,438.8 1373.9,433.2 1379.5,427.5 1385.1,421.9 1391.0,416.4 1397.0,411.2 1403.0,405.9 1408.8,400.5 1414.7,395.1 1420.7,389.8 1426.4,384.2 1431.8,378.4 1437.2,372.5 1442.7,366.7 1448.3,361.0 1453.8,355.3 1459.4,349.6 1465.0,343.9 1470.7,338.3 1476.3,332.7 1482.0,327.1 1487.8,321.7 1493.8,316.4 1499.6,310.9 1505.1,305.1 1510.5,299.2 1515.9,293.4 1521.6,287.8 1527.4,282.3 1533.1,276.8 1538.8,271.2 1544.7,265.8 1550.6,260.5 1556.4,255.0 1562.2,249.5 1568.2,244.2 1574.0,238.8 1579.8,233.3 1585.9,228.1 1596.1,227.0 1604.5,224.2 1620.0,230.6 1626.4,246.1 1623.5,254.5 1622.5,264.7 1617.3,270.8 1611.8,276.5 1606.4,282.4 1601.1,288.4 1595.6,294.1 1590.1,300.0 1584.8,305.9 1579.4,311.8 1573.8,317.4 1568.3,323.2 1562.8,329.0 1557.2,334.7 1551.8,340.6 1546.5,346.6 1541.1,352.4 1535.3,357.9 1529.4,363.2 1523.5,368.7 1517.9,374.3 1512.3,379.9 1506.7,385.6 1501.0,391.2 1495.3,396.8 1489.6,402.3 1483.9,407.9 1478.4,413.7 1473.1,419.7 1467.7,425.6 1462.0,431.1 1456.0,436.4 1450.1,441.7 1444.4,447.3 1438.7,452.9 1433.0,458.4 1427.3,464.0 1421.7,469.7 1416.0,475.3 1410.4,480.9 1404.7,486.6 1399.1,492.2 1393.5,497.9 1388.0,503.7 1382.6,509.5 1377.2,515.4 1371.7,521.1 1366.2,526.9 1360.8,532.8 1355.3,538.5 1349.7,544.2 1344.1,549.9 1338.4,555.5 1332.8,561.1 1327.1,566.7 1321.5,572.4 1315.8,578.0 1310.2,583.6 1304.6,589.3 1299.0,595.0 1293.6,600.8 1288.1,606.6 1282.5,612.3 1276.9,618.0 1271.4,623.7 1265.8,629.4 1260.3,635.2 1254.8,641.0 1249.3,646.7 1243.7,652.4 1238.1,658.0 1232.5,663.8 1227.0,669.5 1221.5,675.3 1216.0,681.0 1210.5,686.8 1204.9,692.4 1199.2,698.1 1193.6,703.7 1188.0,709.4 1182.4,715.1 1176.9,720.8 1171.3,726.5 1165.7,732.2 1160.2,737.9 1154.6,743.6 1149.0,749.3 1143.4,755.0 1137.8,760.6 1132.2,766.3 1126.6,771.9 1120.9,777.6 1115.3,783.2 1109.7,788.8 1104.0,794.5 1098.4,800.1 1092.7,805.8 1087.1,811.4 1081.5,817.0 1075.8,822.7 1070.2,828.3 1064.6,833.9 1058.9,839.6 1053.3,845.2 1047.7,850.9 1042.1,856.6 1036.6,862.3 1031.0,868.0 1025.5,873.7 1019.9,879.5 1014.4,885.2 1008.8,890.9 1003.3,896.6 997.6,902.3 992.1,907.9 986.6,913.7 981.2,919.6 975.7,925.4 970.2,931.2 964.5,936.8 958.9,942.4 953.3,948.1 947.6,953.7 942.0,959.3 936.5,965.1 931.0,970.9 925.6,976.7 920.1,982.5 914.5,988.2 909.0,993.9 903.5,999.8 898.1,1005.6 892.7,1011.4 887.1,1017.1 881.3,1022.6 875.4,1028.0 869.6,1033.4 863.8,1039.0 858.2,1044.6 852.5,1050.2 846.9,1055.9 841.3,1061.5 835.6,1067.1 830.0,1072.8 824.6,1078.6 819.3,1084.6 813.8,1090.4 808.1,1095.9 802.3,1101.4 796.4,1106.8 790.6,1112.2 784.9,1117.8 779.4,1123.6 773.8,1129.3 767.4,1134.2 761.0,1139.0 755.0,1144.2 749.2,1149.8 743.3,1155.1 737.2,1160.3 731.2,1165.6 725.6,1171.2 720.9,1177.8 716.4,1184.6 711.6,1191.0 706.0,1196.8 699.9,1201.9 693.2,1206.5 686.4,1210.9 679.8,1215.6 674.0,1221.1 667.7,1226.0 661.1,1230.7 654.3,1235.2 647.6,1239.7 641.1,1244.5 635.1,1249.8 629.4,1255.3 623.4,1260.7 617.3,1265.8 611.2,1271.0 605.2,1276.2 599.2,1281.6 593.5,1287.1 587.4,1292.2 580.8,1296.9 573.9,1301.4 567.1,1305.8 560.5,1310.4 554.3,1315.5 548.5,1321.0 542.4,1326.2 536.1,1331.1 529.7,1336.0 523.3,1340.9 517.1,1345.9 511.2,1351.4 505.4,1356.8 499.3,1362.0 493.1,1367.1 487.0,1372.2 481.0,1377.5 475.8,1383.6 471.4,1390.4 466.5,1396.8 461.1,1402.7 455.3,1408.2 449.2,1413.4 443.0,1418.4 437.0,1423.7 431.0,1428.9 423.3,1432.5 412.8,1433.3" fill="#0000ff"/>
<polygon points="397.4,1426.9 395.3,1415.8 393.2,1402.4 395.5,1393.5 400.5,1387.2 406.5,1381.9 412.7,1376.8 418.8,1371.7 424.7,1366.3 431.4,1361.7 439.3,1358.3 447.6,1355.4 454.1,1350.6 460.1,1345.3 466.4,1340.4 472.8,1335.5 479.0,1330.5 484.9,1325.1 490.7,1319.6 496.7,1314.3 502.8,1309.2 509.0,1304.0 515.0,1298.8 521.0,1293.5 526.7,1287.9 532.3,1282.2 537.8,1276.5 543.4,1270.9 549.0,1265.2 554.6,1259.5 560.3,1253.9 566.0,1248.3 571.9,1243.0 577.9,1237.7 584.0,1232.6 590.1,1227.4 596.1,1222.1 601.8,1216.6 607.5,1210.9 613.0,1205.2 618.6,1199.5 624.3,1193.9 629.9,1188.3 635.6,1182.7 641.2,1177.0 645.7,1170.2 649.8,1163.1 654.2,1156.2 659.2,1149.9 665.0,1144.4 671.6,1139.8 678.6,1135.6 685.4,1131.1 691.1,1125.4 696.2,1119.3 701.3,1113.1 706.5,1107.0 711.9,1101.2 717.3,1095.3 722.2,1089.0 727.4,1082.8 733.4,1077.7 739.3,1072.3 745.0,1066.7 750.8,1061.2 756.7,1055.8 762.5,1050.3 768.2,1044.8 773.7,1039.0 779.0,1033.1 784.4,1027.2 790.1,1021.5 795.7,1015.9 801.3,1010.3 807.0,1004.6 812.6,999.0 818.3,993.4 824.0,987.9 829.9,982.4 835.7,977.0 841.5,971.5 847.1,965.8 852.5,960.1 858.0,954.2 863.4,948.4 869.0,942.7 874.5,937.0 880.0,931.2 885.5,925.3 890.9,919.5 896.4,913.8 902.1,908.1 907.7,902.5 913.3,896.9 919.0,891.2 924.6,885.6 930.2,879.9 935.6,874.0 941.0,868.2 946.5,862.4 952.1,856.7 957.7,851.0 963.3,845.4 968.8,839.6 974.4,833.9 979.9,828.2 985.5,822.4 991.0,816.7 996.6,811.0 1002.1,805.3 1007.7,799.7 1013.4,794.0 1019.0,788.4 1024.7,782.7 1030.3,777.1 1035.9,771.5 1041.6,765.8 1047.2,760.2 1052.8,754.6 1058.5,748.9 1064.1,743.3 1069.7,737.7 1075.4,732.0 1081.0,726.4 1086.6,720.8 1092.3,715.1 1098.0,709.5 1103.6,703.9 1109.3,698.3 1115.0,692.8 1120.7,687.2 1126.4,681.6 1132.1,676.0 1137.8,670.4 1143.5,664.9 1149.1,659.3 1154.8,653.6 1160.4,648.0 1166.1,642.4 1171.8,636.9 1177.6,631.3 1183.3,625.8 1189.1,620.3 1194.8,614.7 1200.4,609.1 1206.1,603.5 1211.8,598.0 1217.6,592.4 1223.3,586.9 1229.0,581.4 1234.7,575.8 1240.4,570.2 1246.1,564.6 1251.9,559.1 1257.6,553.6 1263.3,548.0 1269.0,542.4 1274.6,536.7 1280.2,531.0 1285.7,525.3 1291.3,519.6 1296.9,514.0 1302.5,508.3 1308.2,502.8 1313.9,497.2 1319.6,491.6 1325.5,486.2 1331.2,480.7 1336.8,475.0 1342.3,469.1 1347.7,463.3 1353.2,457.5 1358.8,451.9 1364.4,446.2 1370.0,440.6 1375.7,434.9 1381.3,429.3 1386.9,423.6 1392.7,418.1 1398.6,412.8 1404.6,407.5 1410.4,402.0 1416.2,396.5 1422.1,391.2 1427.8,385.7 1433.3,379.9 1438.7,374.0 1444.2,368.3 1449.8,362.5 1455.2,356.6 1460.7,350.9 1466.3,345.2 1472.0,339.6 1477.6,334.0 1483.3,328.4 1489.2,323.1 1495.2,317.8 1501.0,312.3 1506.5,306.6 1511.9,300.7 1517.4,294.9 1523.0,289.2 1528.7,283.7 1534.4,278.1 1540.1,272.5 1546.0,267.1 1552.0,261.8 1557.8,256.4 1563.6,250.9 1569.6,245.6 1575.5,240.3 1581.3,234.8 1587.6,229.8 1598.5,229.4 1607.7,227.4 1620.0,230.6 1623.2,242.9 1621.1,252.1 1620.8,263.0 1615.8,269.3 1610.3,275.1 1605.0,281.0 1599.7,287.0 1594.2,292.8 1588.8,298.6 1583.5,304.6 1578.1,310.5 1572.5,316.2 1566.9,321.9 1561.3,327.6 1555.8,333.2 1550.4,339.1 1545.1,345.2 1539.7,351.0 1533.9,356.5 1528.0,361.9 1522.2,367.3 1516.6,372.9 1511.0,378.6 1505.4,384.3 1499.7,389.9 1493.9,395.4 1488.1,400.8 1482.3,406.3 1476.9,412.2 1471.6,418.2 1466.3,424.1 1460.6,429.7 1454.5,434.9 1448.6,440.2 1442.9,445.8 1437.1,451.2 1431.3,456.7 1425.5,462.3 1419.9,467.9 1414.3,473.5 1408.6,479.1 1403.0,484.8 1397.3,490.4 1391.7,496.1 1386.3,501.9 1380.9,507.8 1375.5,513.6 1369.9,519.4 1364.4,525.1 1359.0,530.9 1353.4,536.6 1347.8,542.4 1342.3,548.0 1336.6,553.7 1330.9,559.3 1325.3,564.9 1319.6,570.4 1313.9,576.0 1308.2,581.6 1302.6,587.3 1297.0,593.0 1291.5,598.7 1286.0,604.5 1280.4,610.2 1274.8,615.9 1269.2,621.6 1263.7,627.3 1258.2,633.0 1252.6,638.8 1247.1,644.5 1241.5,650.2 1235.9,655.8 1230.3,661.5 1224.8,667.3 1219.3,673.0 1213.7,678.8 1208.2,684.5 1202.6,690.2 1197.0,695.8 1191.3,701.5 1185.7,707.1 1180.2,712.8 1174.6,718.5 1169.0,724.2 1163.4,729.9 1157.8,735.6 1152.3,741.3 1146.7,747.0 1141.1,752.6 1135.5,758.3 1129.9,764.0 1124.2,769.6 1118.6,775.2 1112.9,780.9 1107.3,786.5 1101.7,792.1 1096.0,797.8 1090.4,803.4 1084.8,809.0 1079.1,814.7 1073.5,820.3 1067.9,826.0 1062.2,831.6 1056.6,837.2 1051.0,842.9 1045.4,848.5 1039.8,854.2 1034.2,859.9 1028.7,865.7 1023.1,871.4 1017.6,877.1 1012.1,882.9 1006.5,888.6 1000.9,894.3 995.3,899.9 989.7,905.6 984.3,911.4 978.8,917.3 973.4,923.1 967.9,928.8 962.2,934.5 956.6,940.1 950.9,945.7 945.3,951.4 939.7,957.0 934.1,962.7 928.7,968.6 923.2,974.4 917.8,980.2 912.2,985.9 906.6,991.6 901.2,997.4 895.8,1003.3 890.3,1009.1 884.7,1014.8 879.0,1020.3 873.1,1025.7 867.3,1031.1 861.5,1036.6 855.8,1042.3 850.2,1047.9 844.6,1053.5 838.9,1059.2 833.3,1064.8 827.7,1070.5 822.3,1076.3 817.0,1082.3 811.5,1088.1 805.8,1093.6 800.0,1099.1 794.1,1104.5 788.3,1109.9 782.6,1115.5 777.0,1121.2 771.4,1126.9 764.9,1131.7 758.3,1136.3 752.2,1141.5 746.4,1147.0 740.4,1152.2 734.1,1157.3 728.0,1162.4 722.4,1168.0 717.9,1174.8 713.7,1181.9 709.0,1188.5 703.5,1194.3 697.3,1199.3 690.4,1203.7 683.2,1207.8 676.5,1212.3 670.6,1217.7 664.3,1222.6 657.6,1227.2 650.7,1231.6 643.8,1236.0 637.2,1240.7 631.2,1246.0 625.5,1251.5 619.5,1256.8 613.4,1262.0 607.3,1267.1 601.3,1272.3 595.4,1277.7 589.6,1283.2 583.4,1288.3 576.8,1292.9 569.9,1297.3 563.0,1301.7 556.3,1306.2 550.0,1311.3 544.3,1316.8 538.2,1322.0 531.9,1327.0 525.5,1331.8 519.2,1336.8 513.0,1341.9 507.2,1347.3 501.4,1352.8 495.4,1358.1 489.4,1363.3 483.3,1368.6 477.5,1374.0 472.4,1380.2 468.6,1387.6 464.2,1394.5 458.9,1400.5 453.2,1406.1 447.2,1411.3 441.1,1416.5 435.1,1421.8 429.0,1426.9 420.9,1430.1 408.6,1429.0" fill="#000aff"/>
<polygon points="402.5,1420.8 395.7,1404.9 397.4,1395.4 402.4,1389.1 408.4,1383.8 414.7,1378.8 420.9,1373.8 426.8,1368.4 433.8,1364.1 442.3,1361.3 451.6,1359.4 458.6,1355.1 464.8,1350.0 471.3,1345.3 478.0,1340.7 484.6,1336.0 490.7,1330.8 496.4,1325.3 502.5,1320.1 508.7,1315.0 514.9,1309.9 521.0,1304.8 527.0,1299.5 532.6,1293.9 538.0,1288.0 543.3,1282.0 548.5,1276.0 553.9,1270.0 559.3,1264.2 564.9,1258.5 570.6,1252.9 576.5,1247.5 582.5,1242.3 588.6,1237.2 594.7,1232.0 600.7,1226.7 606.4,1221.2 612.0,1215.4 617.3,1209.5 622.7,1203.6 628.2,1197.8 633.7,1192.0 639.3,1186.3 644.8,1180.6 648.9,1173.5 652.7,1165.9 656.8,1158.8 661.7,1152.4 667.5,1147.0 674.3,1142.5 681.7,1138.6 688.8,1134.5 694.4,1128.8 699.4,1122.5 704.3,1116.1 709.3,1109.9 714.7,1104.0 720.0,1098.0 724.8,1091.5 729.7,1085.2 735.7,1079.9 741.6,1074.5 747.3,1068.9 753.0,1063.4 758.8,1057.9 764.5,1052.4 770.2,1046.8 775.7,1041.0 781.1,1035.2 786.6,1029.4 792.2,1023.7 797.9,1018.1 803.5,1012.5 809.2,1006.9 814.8,1001.2 820.5,995.6 826.2,990.1 832.0,984.6 837.9,979.2 843.6,973.7 849.2,968.0 854.7,962.2 860.2,956.4 865.7,950.6 871.2,944.9 876.8,939.2 882.3,933.4 887.7,927.6 893.2,921.8 898.7,916.0 904.3,910.4 909.9,904.7 915.5,899.1 921.1,893.4 926.8,887.7 932.3,882.0 937.8,876.2 943.3,870.4 948.7,864.6 954.3,859.0 960.0,853.3 965.5,847.6 971.1,841.9 976.6,836.2 982.2,830.4 987.7,824.7 993.3,819.0 998.8,813.3 1004.4,807.6 1010.0,801.9 1015.7,796.3 1021.3,790.7 1026.9,785.0 1032.6,779.4 1038.2,773.7 1043.8,768.1 1049.5,762.5 1055.1,756.8 1060.7,751.2 1066.4,745.6 1072.0,739.9 1077.6,734.3 1083.3,728.7 1088.9,723.0 1094.6,717.4 1100.2,711.8 1105.9,706.2 1111.6,700.6 1117.3,695.0 1122.9,689.4 1128.6,683.8 1134.3,678.3 1140.0,672.7 1145.7,667.1 1151.4,661.5 1157.0,655.9 1162.7,650.2 1168.3,644.6 1174.0,639.0 1179.7,633.5 1185.5,627.9 1191.2,622.4 1196.8,616.8 1202.5,611.2 1208.2,605.6 1213.9,600.0 1219.6,594.5 1225.3,588.9 1231.0,583.3 1236.7,577.7 1242.3,572.1 1248.0,566.5 1253.7,560.9 1259.4,555.4 1265.1,549.8 1270.7,544.1 1276.3,538.4 1281.8,532.7 1287.3,526.9 1292.8,521.1 1298.4,515.4 1304.0,509.8 1309.8,504.3 1315.5,498.8 1321.2,493.2 1327.0,487.7 1332.6,482.1 1338.2,476.4 1343.7,470.6 1349.2,464.8 1354.7,459.0 1360.3,453.4 1365.9,447.7 1371.5,442.1 1377.1,436.4 1382.7,430.7 1388.4,425.1 1394.1,419.5 1399.9,414.1 1405.8,408.7 1411.5,403.2 1417.3,397.7 1423.3,392.4 1429.0,386.8 1434.5,381.0 1439.9,375.2 1445.5,369.5 1450.9,363.7 1456.2,357.7 1461.7,351.9 1467.3,346.2 1473.0,340.6 1478.7,335.0 1484.3,329.4 1490.2,324.1 1496.3,318.8 1502.1,313.4 1507.6,307.7 1513.1,301.8 1518.5,296.0 1524.2,290.4 1529.8,284.7 1535.4,279.1 1541.1,273.5 1547.0,268.1 1553.0,262.9 1558.9,257.5 1564.7,252.0 1570.8,246.8 1576.7,241.5 1582.6,236.1 1589.2,231.4 1601.2,232.1 1612.8,232.4 1617.6,233.0 1618.1,237.8 1618.5,249.4 1619.2,261.4 1614.5,268.0 1609.1,273.8 1603.8,279.8 1598.5,285.9 1593.1,291.7 1587.7,297.6 1582.5,303.6 1577.1,309.5 1571.5,315.2 1565.9,320.8 1560.2,326.4 1554.6,332.1 1549.3,338.0 1544.0,344.1 1538.6,349.9 1532.8,355.4 1527.0,360.8 1521.2,366.3 1515.5,371.9 1510.0,377.6 1504.4,383.3 1498.7,388.9 1492.9,394.4 1486.9,399.7 1481.1,405.1 1475.7,411.0 1470.5,417.0 1465.2,423.0 1459.4,428.5 1453.3,433.7 1447.4,439.0 1441.7,444.6 1435.8,449.9 1429.9,455.3 1424.1,460.8 1418.4,466.4 1412.8,472.1 1407.1,477.7 1401.5,483.3 1395.8,488.9 1390.2,494.6 1384.8,500.4 1379.4,506.3 1374.0,512.2 1368.5,517.9 1362.9,523.6 1357.4,529.4 1351.8,535.0 1346.3,540.8 1340.8,546.6 1335.2,552.2 1329.5,557.8 1323.7,563.3 1317.9,568.8 1312.2,574.3 1306.5,579.9 1300.8,585.5 1295.2,591.2 1289.7,596.9 1284.1,602.6 1278.5,608.3 1272.9,613.9 1267.3,619.6 1261.7,625.3 1256.1,631.0 1250.6,636.7 1245.0,642.4 1239.4,648.1 1233.8,653.8 1228.2,659.4 1222.7,665.1 1217.1,670.9 1211.6,676.6 1206.0,682.3 1200.4,687.9 1194.7,693.6 1189.1,699.2 1183.5,704.9 1177.9,710.6 1172.3,716.3 1166.8,722.0 1161.2,727.7 1155.6,733.3 1150.0,739.0 1144.4,744.7 1138.8,750.4 1133.2,756.0 1127.6,761.7 1121.9,767.3 1116.3,773.0 1110.7,778.6 1105.0,784.2 1099.4,789.9 1093.8,795.5 1088.1,801.1 1082.5,806.8 1076.9,812.4 1071.2,818.0 1065.6,823.7 1060.0,829.3 1054.3,835.0 1048.7,840.6 1043.1,846.3 1037.5,851.9 1031.9,857.7 1026.4,863.4 1020.9,869.1 1015.3,874.9 1009.8,880.6 1004.2,886.3 998.7,892.0 993.1,897.7 987.5,903.4 982.0,909.2 976.6,915.1 971.2,920.9 965.7,926.7 960.0,932.3 954.4,937.9 948.7,943.5 943.1,949.1 937.4,954.8 931.9,960.5 926.4,966.3 921.0,972.1 915.5,977.9 909.9,983.6 904.4,989.4 899.0,995.2 893.6,1001.1 888.2,1007.0 882.6,1012.6 876.8,1018.1 870.9,1023.5 865.1,1028.9 859.3,1034.4 853.6,1040.0 848.0,1045.7 842.4,1051.3 836.8,1057.0 831.1,1062.6 825.5,1068.3 820.2,1074.2 814.9,1080.2 809.5,1086.1 803.7,1091.6 797.8,1097.0 791.9,1102.3 786.0,1107.7 780.3,1113.2 774.7,1118.9 769.1,1124.6 762.4,1129.1 755.6,1133.6 749.4,1138.7 743.6,1144.1 737.4,1149.2 731.0,1154.1 724.6,1159.0 719.0,1164.6 714.8,1171.7 711.0,1179.1 706.5,1185.9 701.0,1191.8 694.6,1196.7 687.5,1200.8 680.0,1204.5 672.9,1208.7 667.0,1214.0 660.5,1218.9 653.7,1223.3 646.6,1227.5 639.5,1231.7 632.7,1236.2 626.6,1241.4 620.9,1246.9 614.9,1252.2 608.8,1257.4 602.7,1262.5 596.7,1267.7 590.8,1273.1 585.0,1278.6 578.8,1283.6 571.9,1288.1 564.8,1292.2 557.5,1296.2 550.5,1300.5 544.1,1305.3 538.3,1310.8 532.2,1316.0 526.0,1321.1 519.7,1326.0 513.4,1331.0 507.3,1336.1 501.4,1341.6 495.8,1347.2 490.2,1352.9 484.5,1358.4 478.7,1363.9 472.9,1369.4 468.4,1376.2 465.6,1384.7 461.8,1392.1 456.8,1398.4 451.1,1404.0 445.2,1409.3 439.2,1414.6 433.3,1419.9 427.1,1425.0 418.4,1427.6" fill="#001cff"/>
<polygon points="402.5,1420.8 398.5,1407.7 399.4,1397.4 404.3,1390.9 410.4,1385.8 416.8,1380.9 423.1,1375.9 429.0,1370.6 436.3,1366.7 445.8,1364.9 458.5,1368.5 462.1,1381.1 459.2,1389.6 454.6,1396.2 449.0,1401.9 443.2,1407.3 437.2,1412.6 431.4,1418.1 425.1,1423.1 415.6,1424.8" fill="#002eff"/>
<polygon points="620.4,1227.7 619.9,1223.4 623.9,1216.0 628.3,1209.2 633.1,1202.8 638.2,1196.6 643.6,1190.7 649.0,1184.8 652.6,1177.1 655.7,1169.0 659.5,1161.5 664.2,1154.9 670.1,1149.5 677.2,1145.3 685.1,1142.0 692.7,1138.4 698.3,1132.7 702.9,1126.0 707.5,1119.3 712.3,1112.9 717.6,1106.9 722.8,1100.8 727.3,1094.1 732.1,1087.6 738.0,1082.2 743.8,1076.7 749.4,1071.1 755.0,1065.4 760.6,1059.7 766.3,1054.1 771.9,1048.5 777.5,1042.8 783.0,1037.0 788.6,1031.4 794.2,1025.7 799.9,1020.1 805.6,1014.5 811.2,1008.9 816.9,1003.3 822.5,997.7 828.3,992.1 834.0,986.6 839.8,981.1 845.5,975.6 851.2,969.9 856.7,964.2 862.2,958.5 867.8,952.7 873.4,947.1 878.9,941.4 884.4,935.6 889.9,929.7 895.3,923.9 900.8,918.2 906.5,912.5 912.0,906.8 917.6,901.1 923.1,895.4 928.7,889.7 934.3,884.0 939.8,878.3 945.3,872.5 950.9,866.8 956.5,861.1 962.1,855.5 967.7,849.8 973.3,844.1 978.8,838.4 984.4,832.6 989.9,826.9 995.5,821.2 1001.1,815.5 1006.6,809.8 1012.2,804.2 1017.9,798.5 1023.5,792.9 1029.2,787.2 1034.8,781.6 1040.4,776.0 1046.1,770.3 1051.7,764.7 1057.3,759.1 1063.0,753.4 1068.6,747.8 1074.2,742.2 1079.9,736.5 1085.5,730.9 1091.1,725.3 1096.8,719.6 1102.4,714.0 1108.1,708.4 1113.8,702.8 1119.5,697.2 1125.1,691.6 1130.8,686.0 1136.5,680.4 1142.2,674.8 1147.8,669.2 1153.5,663.6 1159.2,658.0 1164.8,652.4 1170.5,646.8 1176.1,641.2 1181.8,635.6 1187.5,630.0 1193.1,624.4 1198.8,618.8 1204.4,613.1 1210.1,607.5 1215.8,601.9 1221.4,596.3 1227.1,590.7 1232.8,585.1 1238.4,579.5 1244.1,573.8 1249.7,568.2 1255.3,562.6 1261.0,556.9 1266.6,551.3 1272.2,545.6 1277.7,539.9 1283.1,534.0 1288.5,528.1 1294.0,522.3 1299.5,516.6 1305.2,511.0 1311.0,505.5 1316.9,500.1 1322.5,494.5 1328.2,488.9 1333.8,483.2 1339.4,477.5 1344.9,471.8 1350.4,466.0 1355.9,460.3 1361.5,454.6 1367.1,448.9 1372.7,443.3 1378.3,437.6 1383.9,431.9 1389.5,426.3 1395.2,420.7 1401.0,415.2 1406.8,409.7 1412.5,404.1 1418.3,398.7 1424.2,393.3 1429.9,387.7 1435.4,382.0 1440.9,376.2 1446.5,370.5 1451.8,364.6 1457.1,358.5 1462.4,352.6 1468.1,347.0 1473.8,341.4 1479.5,335.8 1485.1,330.2 1491.1,324.9 1497.1,319.7 1503.0,314.3 1508.5,308.5 1514.0,302.7 1519.5,297.0 1525.1,291.3 1530.6,285.6 1536.2,279.9 1541.9,274.3 1547.8,268.9 1553.9,263.8 1559.9,258.4 1565.7,253.0 1571.8,247.8 1577.8,242.6 1583.7,237.2 1590.7,232.9 1604.6,235.6 1614.0,236.6 1615.0,246.0 1617.6,259.9 1613.3,266.8 1608.0,272.7 1602.8,278.8 1597.6,284.9 1592.1,290.7 1586.8,296.7 1581.7,302.8 1576.3,308.7 1570.7,314.4 1565.0,319.9 1559.3,325.5 1553.7,331.2 1548.4,337.1 1543.2,343.2 1537.7,349.0 1532.0,354.6 1526.2,360.0 1520.4,365.5 1514.8,371.1 1509.2,376.8 1503.6,382.5 1497.9,388.1 1492.1,393.5 1486.0,398.7 1480.1,404.1 1474.7,410.0 1469.5,416.1 1464.3,422.1 1458.5,427.6 1452.4,432.8 1446.5,438.1 1440.7,443.6 1434.7,448.9 1428.7,454.2 1422.9,459.6 1417.3,465.3 1411.6,470.9 1405.9,476.4 1400.2,482.0 1394.6,487.7 1389.0,493.3 1383.6,499.2 1378.3,505.1 1372.9,511.0 1367.4,516.8 1361.7,522.4 1356.1,528.1 1350.5,533.7 1345.1,539.6 1339.6,545.4 1334.0,551.1 1328.3,556.6 1322.5,562.1 1316.6,567.5 1310.7,572.9 1304.9,578.4 1299.3,584.0 1293.7,589.6 1288.0,595.3 1282.4,600.9 1276.8,606.5 1271.1,612.2 1265.5,617.8 1259.9,623.5 1254.3,629.2 1248.7,634.8 1243.1,640.5 1237.5,646.2 1231.8,651.8 1226.2,657.5 1220.6,663.1 1215.0,668.8 1209.4,674.5 1203.8,680.1 1198.2,685.8 1192.6,691.4 1187.0,697.1 1181.4,702.8 1175.8,708.4 1170.2,714.1 1164.6,719.8 1159.0,725.5 1153.4,731.1 1147.8,736.8 1142.2,742.5 1136.6,748.2 1131.0,753.8 1125.3,759.5 1119.7,765.1 1114.1,770.7 1108.4,776.4 1102.8,782.0 1097.2,787.6 1091.5,793.3 1085.9,798.9 1080.3,804.5 1074.6,810.2 1069.0,815.8 1063.4,821.5 1057.7,827.1 1052.1,832.7 1046.5,838.4 1040.9,844.0 1035.3,849.7 1029.7,855.5 1024.2,861.2 1018.7,866.9 1013.1,872.7 1007.6,878.4 1002.1,884.1 996.5,889.8 990.9,895.5 985.3,901.2 979.9,907.1 974.6,913.0 969.3,919.0 963.7,924.7 958.1,930.3 952.4,935.9 946.6,941.4 940.9,947.0 935.3,952.6 929.7,958.4 924.3,964.2 918.8,970.0 913.4,975.8 907.8,981.5 902.3,987.3 897.0,993.2 891.6,999.2 886.3,1005.0 880.7,1010.7 874.9,1016.2 868.9,1021.5 863.0,1026.9 857.2,1032.3 851.6,1038.0 845.9,1043.6 840.3,1049.3 834.7,1055.0 829.1,1060.6 823.5,1066.3 818.3,1072.3 813.2,1078.5 807.8,1084.4 802.0,1089.9 796.0,1095.1 789.9,1100.3 783.8,1105.5 778.1,1111.0 772.4,1116.6 766.7,1122.2 759.8,1126.6 752.8,1130.8 746.5,1135.8 740.6,1141.1 734.1,1146.0 727.4,1150.5 720.8,1155.2 715.1,1160.7 711.5,1168.4 708.1,1176.3 703.9,1183.4 698.5,1189.3 692.0,1194.0 684.5,1197.7 676.3,1200.9 668.6,1204.4 662.6,1209.7 656.0,1214.3 648.7,1218.3 641.0,1221.9 633.0,1225.1 624.8,1228.2" fill="#002eff"/>
<polygon points="403.3,1419.9 402.4,1411.6 401.5,1399.4 406.2,1392.9 412.4,1387.8 418.9,1383.1 425.4,1378.2 431.4,1373.0 439.3,1369.6 452.3,1371.3 455.3,1371.7 455.6,1374.7 456.3,1386.6 452.2,1393.8 446.7,1399.5 441.0,1405.1 435.2,1410.6 429.4,1416.1 423.0,1421.0 411.7,1420.9" fill="#0040ff"/>
<polygon points="657.3,1196.2 656.9,1192.7 657.4,1181.9 659.2,1172.5 662.4,1164.4 666.9,1157.6 672.8,1152.3 680.3,1148.5 689.1,1146.0 698.1,1143.8 703.6,1138.0 707.4,1130.5 711.3,1123.1 715.7,1116.3 720.9,1110.2 725.9,1103.9 730.1,1096.8 734.5,1090.0 740.2,1084.4 745.9,1078.9 751.5,1073.1 756.7,1067.1 762.1,1061.2 767.6,1055.5 773.3,1049.8 778.9,1044.2 784.6,1038.6 790.3,1033.1 796.0,1027.5 801.7,1021.9 807.4,1016.3 813.1,1010.8 818.8,1005.2 824.4,999.6 830.1,994.0 835.8,988.4 841.5,982.8 847.2,977.2 852.8,971.6 858.4,965.9 864.1,960.3 869.7,954.7 875.4,949.1 880.9,943.4 886.4,937.6 891.9,931.7 897.3,925.9 902.9,920.2 908.4,914.5 913.9,908.7 919.4,902.9 924.8,897.1 930.4,891.4 936.0,885.7 941.6,880.1 947.3,874.4 952.9,868.8 958.6,863.2 964.2,857.5 969.8,851.9 975.4,846.2 980.9,840.5 986.5,834.8 992.1,829.1 997.6,823.4 1003.2,817.7 1008.8,812.0 1014.4,806.3 1020.1,800.7 1025.7,795.1 1031.3,789.4 1037.0,783.8 1042.6,778.2 1048.2,772.5 1053.9,766.9 1059.5,761.3 1065.2,755.6 1070.8,750.0 1076.4,744.3 1082.1,738.7 1087.7,733.1 1093.3,727.4 1099.0,721.8 1104.6,716.2 1110.3,710.6 1116.0,705.0 1121.6,699.4 1127.3,693.8 1133.0,688.2 1138.6,682.6 1144.3,677.0 1150.0,671.4 1155.6,665.7 1161.3,660.1 1166.9,654.5 1172.5,648.9 1178.2,643.2 1183.8,637.5 1189.4,631.9 1195.0,626.2 1200.6,620.6 1206.3,614.9 1211.9,609.3 1217.5,603.6 1223.1,598.0 1228.8,592.3 1234.4,586.7 1240.0,581.1 1245.6,575.4 1251.2,569.7 1256.8,564.0 1262.3,558.3 1267.9,552.6 1273.5,546.9 1278.9,541.1 1284.2,535.1 1289.6,529.2 1295.0,523.3 1300.5,517.5 1306.1,511.9 1312.0,506.5 1318.0,501.2 1323.6,495.6 1329.2,489.9 1334.8,484.2 1340.4,478.5 1345.9,472.8 1351.4,467.0 1357.0,461.3 1362.6,455.7 1368.2,450.0 1373.8,444.3 1379.3,438.6 1384.9,432.9 1390.5,427.3 1396.2,421.6 1401.9,416.1 1407.6,410.5 1413.3,404.9 1419.1,399.4 1424.9,394.0 1430.6,388.5 1436.2,382.7 1441.7,377.0 1447.3,371.3 1452.6,365.4 1457.7,359.2 1463.1,353.3 1468.7,347.6 1474.4,342.1 1480.1,336.5 1485.8,330.9 1491.7,325.6 1497.8,320.4 1503.7,315.0 1509.2,309.2 1514.7,303.5 1520.2,297.7 1525.8,292.0 1531.3,286.3 1536.9,280.5 1542.5,274.9 1548.5,269.6 1554.7,264.5 1560.6,259.2 1566.5,253.8 1572.7,248.7 1578.8,243.6 1584.8,238.3 1592.3,234.5 1608.7,241.9 1616.1,258.3 1612.3,265.8 1607.0,271.8 1601.9,277.9 1596.8,284.1 1591.3,289.9 1586.1,295.9 1581.0,302.1 1575.7,308.1 1570.0,313.7 1564.3,319.2 1558.5,324.8 1552.9,330.4 1547.6,336.4 1542.4,342.5 1537.0,348.3 1531.3,353.9 1525.5,359.3 1519.7,364.8 1514.1,370.5 1508.5,376.2 1502.9,381.9 1497.3,387.5 1491.4,392.8 1485.2,398.0 1479.2,403.3 1473.9,409.2 1468.8,415.3 1463.5,421.3 1457.8,426.9 1451.6,432.0 1445.7,437.3 1439.9,442.8 1433.8,448.0 1427.8,453.2 1421.9,458.6 1416.3,464.3 1410.6,469.8 1404.9,475.4 1399.2,481.0 1393.5,486.6 1387.9,492.3 1382.6,498.2 1377.3,504.2 1371.9,510.1 1366.4,515.8 1360.7,521.4 1355.0,527.0 1349.4,532.6 1344.1,538.6 1338.7,544.5 1333.1,550.1 1327.3,555.6 1321.4,561.0 1315.5,566.3 1309.5,571.7 1303.6,577.1 1298.0,582.7 1292.3,588.3 1286.6,593.8 1280.9,599.4 1275.2,605.0 1269.5,610.6 1263.9,616.2 1258.3,621.8 1252.6,627.5 1247.0,633.1 1241.3,638.7 1235.7,644.3 1230.0,650.0 1224.4,655.6 1218.7,661.2 1213.1,666.8 1207.4,672.4 1201.7,678.1 1196.1,683.7 1190.5,689.3 1184.9,695.0 1179.2,700.6 1173.6,706.3 1168.0,712.0 1162.4,717.6 1156.8,723.3 1151.2,729.0 1145.6,734.7 1140.0,740.3 1134.4,746.0 1128.8,751.6 1123.2,757.3 1117.5,762.9 1111.9,768.5 1106.3,774.2 1100.6,779.8 1095.0,785.5 1089.4,791.1 1083.7,796.7 1078.1,802.4 1072.4,808.0 1066.8,813.6 1061.2,819.3 1055.5,824.9 1049.9,830.5 1044.3,836.2 1038.7,841.9 1033.1,847.6 1027.6,853.3 1022.1,859.0 1016.5,864.8 1011.0,870.6 1005.5,876.3 1000.0,882.1 994.4,887.8 988.8,893.4 983.3,899.2 978.0,905.2 972.8,911.2 967.5,917.2 962.0,923.0 956.3,928.6 950.6,934.1 944.7,939.5 938.9,945.0 933.3,950.6 927.7,956.3 922.3,962.2 916.8,968.0 911.4,973.8 905.8,979.5 900.3,985.3 895.1,991.4 889.9,997.4 884.6,1003.4 879.0,1009.1 873.2,1014.5 867.2,1019.8 861.2,1025.1 855.3,1030.5 849.7,1036.1 844.1,1041.8 838.5,1047.5 833.0,1053.2 827.4,1058.9 821.8,1064.6 816.8,1070.8 811.8,1077.1 806.4,1083.0 800.6,1088.5 794.5,1093.6 788.1,1098.5 781.8,1103.5 776.0,1108.9 770.2,1114.4 764.3,1119.8 757.1,1123.8 749.7,1127.7 743.2,1132.5 737.2,1137.7 730.3,1142.1 722.9,1146.0 715.5,1149.8 709.7,1155.3 707.4,1164.4 705.0,1173.2 701.2,1180.7 695.9,1186.6 689.1,1191.1 681.0,1194.2 671.5,1196.1 660.8,1196.6" fill="#0040ff"/>
<polygon points="407.7,1414.7 403.8,1401.8 408.3,1395.0 414.6,1390.0 421.4,1385.5 428.1,1380.9 434.2,1375.8 443.4,1373.7 451.3,1374.6 452.2,1382.5 449.4,1391.0 444.0,1396.9 438.5,1402.7 433.0,1408.4 427.3,1414.0 420.7,1418.6" fill="#0052ff"/>
<polygon points="665.6,1187.9 663.9,1177.2 665.7,1167.8 669.8,1160.5 675.8,1155.3 684.1,1152.3 696.9,1153.8 699.4,1154.1 699.7,1156.6 701.2,1169.4 698.1,1177.6 692.9,1183.6 685.7,1187.7 676.2,1189.5" fill="#0052ff"/>
<polygon points="718.2,1135.3 717.5,1129.4 720.4,1120.9 725.2,1114.5 729.6,1107.7 733.2,1099.9 737.1,1092.6 742.5,1086.7 748.0,1080.9 753.4,1075.0 758.3,1068.7 763.4,1062.5 768.8,1056.7 774.4,1050.9 780.1,1045.4 785.9,1039.9 791.9,1034.6 797.5,1029.0 803.2,1023.5 809.0,1017.9 814.8,1012.4 820.5,1006.9 826.1,1001.3 831.7,995.6 837.3,989.9 843.0,984.3 848.6,978.7 854.3,973.0 859.9,967.4 865.7,961.9 871.5,956.5 877.3,951.0 882.8,945.3 888.3,939.5 893.8,933.6 899.2,927.8 904.7,922.1 910.3,916.4 915.6,910.4 921.0,904.5 926.3,898.6 931.9,892.9 937.5,887.3 943.3,881.7 949.0,876.2 954.9,870.8 960.6,865.2 966.2,859.5 971.8,853.9 977.4,848.2 983.0,842.5 988.6,836.8 994.2,831.2 999.8,825.5 1005.4,819.8 1011.0,814.2 1016.6,808.5 1022.2,802.9 1027.9,797.2 1033.5,791.6 1039.1,786.0 1044.8,780.3 1050.4,774.7 1056.0,769.1 1061.7,763.4 1067.3,757.8 1073.0,752.1 1078.6,746.5 1084.2,740.9 1089.9,735.2 1095.5,729.6 1101.1,724.0 1106.8,718.4 1112.4,712.7 1118.1,707.1 1123.8,701.5 1129.4,695.9 1135.1,690.3 1140.8,684.7 1146.4,679.1 1152.1,673.5 1157.7,667.9 1163.4,662.2 1169.0,656.6 1174.6,650.9 1180.2,645.2 1185.7,639.4 1191.2,633.7 1196.8,628.0 1202.3,622.3 1208.0,616.6 1213.6,611.0 1219.1,605.3 1224.7,599.6 1230.3,593.9 1235.8,588.2 1241.5,582.5 1247.1,576.8 1252.6,571.1 1258.0,565.3 1263.5,559.5 1269.1,553.8 1274.7,548.1 1280.0,542.2 1285.2,536.1 1290.5,530.1 1295.8,524.1 1301.3,518.3 1306.9,512.7 1312.9,507.4 1318.9,502.1 1324.5,496.5 1330.0,490.7 1335.6,485.0 1341.2,479.4 1346.7,473.6 1352.3,467.9 1357.9,462.2 1363.5,456.6 1369.1,450.9 1374.6,445.2 1380.2,439.5 1385.8,433.8 1391.4,428.1 1397.0,422.5 1402.6,416.8 1408.3,411.2 1414.0,405.6 1419.7,400.1 1425.6,394.7 1431.3,389.1 1436.8,383.4 1442.4,377.7 1448.1,372.1 1453.3,366.0 1458.3,359.8 1463.6,353.8 1469.3,348.2 1475.0,342.6 1480.7,337.1 1486.4,331.5 1492.3,326.2 1498.4,321.0 1504.3,315.6 1509.8,309.9 1515.3,304.1 1520.9,298.4 1526.5,292.7 1531.9,286.9 1537.4,281.1 1543.1,275.5 1549.1,270.2 1555.3,265.2 1561.4,259.9 1567.2,254.6 1573.5,249.5 1579.7,244.5 1585.8,239.3 1593.8,236.1 1608.7,241.9 1614.5,256.8 1611.3,264.8 1606.1,270.9 1601.1,277.1 1596.0,283.3 1590.6,289.2 1585.4,295.3 1580.4,301.5 1575.1,307.5 1569.5,313.1 1563.7,318.6 1557.9,324.1 1552.2,329.7 1547.0,335.7 1541.8,341.9 1536.4,347.7 1530.7,353.3 1524.9,358.8 1519.2,364.3 1513.5,369.9 1508.0,375.6 1502.4,381.3 1496.8,387.0 1490.8,392.3 1484.6,397.3 1478.5,402.5 1473.2,408.5 1468.1,414.7 1462.9,420.7 1457.1,426.2 1450.9,431.3 1445.0,436.6 1439.1,442.1 1433.1,447.2 1426.9,452.4 1421.1,457.8 1415.4,463.4 1409.7,469.0 1404.0,474.5 1398.3,480.1 1392.6,485.7 1387.0,491.4 1381.7,497.3 1376.4,503.3 1371.1,509.2 1365.6,515.0 1359.9,520.6 1354.1,526.1 1348.4,531.7 1343.2,537.7 1337.9,543.7 1332.3,549.3 1326.5,554.8 1320.5,560.1 1314.5,565.4 1308.4,570.6 1302.5,575.9 1296.8,581.5 1291.1,587.1 1285.3,592.6 1279.5,598.0 1273.8,603.5 1268.1,609.1 1262.4,614.8 1256.7,620.3 1251.0,625.9 1245.3,631.5 1239.6,637.0 1234.0,642.6 1228.3,648.3 1222.6,653.8 1216.9,659.4 1211.2,664.9 1205.4,670.4 1199.7,676.0 1194.0,681.6 1188.4,687.2 1182.7,692.9 1177.1,698.5 1171.5,704.2 1165.9,709.8 1160.3,715.5 1154.7,721.2 1149.1,726.8 1143.5,732.5 1137.9,738.2 1132.2,743.8 1126.6,749.5 1121.0,755.1 1115.4,760.7 1109.7,766.4 1104.1,772.0 1098.5,777.7 1092.8,783.3 1087.2,788.9 1081.6,794.6 1075.9,800.2 1070.3,805.8 1064.6,811.5 1059.0,817.1 1053.4,822.7 1047.7,828.4 1042.1,834.0 1036.5,839.7 1031.0,845.4 1025.5,851.2 1020.0,857.0 1014.5,862.7 1009.0,868.5 1003.5,874.3 998.0,880.1 992.4,885.8 986.8,891.5 981.3,897.2 976.2,903.4 971.2,909.6 966.0,915.7 960.6,921.5 954.8,927.1 949.0,932.5 943.0,937.8 937.1,943.1 931.4,948.7 925.8,954.4 920.4,960.3 914.9,966.1 909.5,971.9 903.9,977.6 898.5,983.5 893.5,989.7 888.4,995.9 883.2,1001.9 877.6,1007.6 871.7,1013.0 865.6,1018.2 859.6,1023.4 853.6,1028.8 848.0,1034.4 842.4,1040.1 836.9,1045.9 831.4,1051.6 825.8,1057.3 820.3,1063.0 815.4,1069.5 810.6,1075.9 805.3,1081.9 799.5,1087.3 793.2,1092.3 786.6,1097.0 779.9,1101.6 773.9,1106.8 768.0,1112.2 761.7,1117.2 754.0,1120.7 745.9,1123.9 739.0,1128.3 732.5,1133.1 724.1,1135.9" fill="#0052ff"/>
<polygon points="407.9,1414.5 406.8,1404.8 410.8,1397.5 417.3,1392.7 424.5,1388.7 431.8,1384.7 438.4,1380.0 444.5,1380.7 445.2,1386.8 440.2,1393.1 435.4,1399.5 430.3,1405.7 424.9,1411.5 417.7,1415.6" fill="#0064ff"/>
<polygon points="671.5,1181.9 670.5,1172.5 673.4,1164.2 679.7,1159.2 691.5,1162.0 694.3,1173.8 689.3,1180.0 681.0,1183.0" fill="#0064ff"/>
<polygon points="739.1,1114.8 737.3,1104.0 740.1,1095.6 744.8,1089.0 750.1,1083.0 755.2,1076.9 759.7,1070.1 764.5,1063.7 769.8,1057.6 775.3,1051.9 781.1,1046.4 787.1,1041.1 793.2,1036.0 798.9,1030.4 804.7,1024.9 810.5,1019.4 816.3,1014.0 822.1,1008.5 827.7,1002.9 833.2,997.1 838.7,991.3 844.3,985.6 849.9,979.9 855.5,974.3 861.3,968.8 867.2,963.5 873.3,958.2 879.1,952.8 884.7,947.1 890.2,941.3 895.6,935.5 901.1,929.7 906.6,923.9 912.1,918.2 917.3,912.1 922.4,905.9 927.7,900.0 933.2,894.2 938.9,888.6 944.7,883.2 950.7,877.9 956.8,872.6 962.5,867.1 968.1,861.5 973.8,855.8 979.4,850.2 985.0,844.6 990.7,838.9 996.3,833.3 1001.9,827.6 1007.6,822.0 1013.2,816.4 1018.8,810.8 1024.5,805.1 1030.1,799.5 1035.8,793.8 1041.4,788.2 1047.0,782.6 1052.7,776.9 1058.3,771.3 1063.9,765.7 1069.6,760.0 1075.2,754.4 1080.8,748.8 1086.5,743.1 1092.1,737.5 1097.7,731.9 1103.4,726.2 1109.0,720.6 1114.7,715.0 1120.3,709.4 1126.0,703.7 1131.7,698.1 1137.3,692.5 1143.0,686.9 1148.6,681.3 1154.3,675.7 1159.9,670.0 1165.6,664.4 1171.2,658.8 1176.8,653.1 1182.2,647.2 1187.6,641.4 1193.0,635.5 1198.5,629.7 1204.0,624.0 1209.6,618.3 1215.2,612.6 1220.7,606.8 1226.2,601.0 1231.7,595.3 1237.2,589.6 1242.8,583.9 1248.4,578.2 1253.8,572.3 1259.2,566.5 1264.6,560.6 1270.2,554.8 1275.7,549.2 1281.0,543.1 1286.1,537.0 1291.2,530.9 1296.5,524.9 1302.0,519.0 1307.6,513.4 1313.6,508.1 1319.7,503.0 1325.4,497.3 1330.8,491.5 1336.3,485.8 1341.9,480.1 1347.5,474.4 1353.1,468.7 1358.7,463.0 1364.3,457.4 1369.9,451.7 1375.4,446.0 1381.0,440.3 1386.6,434.6 1392.2,428.9 1397.7,423.2 1403.3,417.5 1408.9,411.8 1414.6,406.2 1420.3,400.7 1426.1,395.2 1431.8,389.7 1437.4,384.0 1443.1,378.3 1448.7,372.7 1453.9,366.6 1458.8,360.3 1464.1,354.3 1469.7,348.7 1475.4,343.1 1481.2,337.5 1486.8,332.0 1492.8,326.7 1498.9,321.5 1504.8,316.1 1510.4,310.4 1515.9,304.7 1521.5,299.0 1527.0,293.3 1532.5,287.4 1538.0,281.6 1543.6,276.0 1549.6,270.7 1555.9,265.8 1562.0,260.6 1567.9,255.2 1574.2,250.3 1580.6,245.3 1586.7,240.2 1595.5,237.7 1608.7,241.9 1612.8,255.1 1610.4,263.9 1605.3,270.0 1600.3,276.4 1595.4,282.7 1590.0,288.6 1584.8,294.7 1579.9,301.0 1574.6,307.0 1569.0,312.6 1563.2,318.1 1557.3,323.5 1551.7,329.2 1546.4,335.2 1541.3,341.3 1535.9,347.2 1530.2,352.8 1524.4,358.3 1518.7,363.8 1513.0,369.4 1507.5,375.1 1501.9,380.9 1496.3,386.5 1490.3,391.8 1484.0,396.7 1477.9,401.9 1472.6,407.8 1467.5,414.1 1462.3,420.1 1456.5,425.6 1450.3,430.7 1444.4,436.0 1438.5,441.4 1432.4,446.6 1426.2,451.7 1420.3,457.0 1414.6,462.6 1408.9,468.2 1403.2,473.7 1397.5,479.3 1391.8,484.9 1386.2,490.6 1380.9,496.5 1375.6,502.5 1370.3,508.5 1364.8,514.3 1359.1,519.8 1353.3,525.2 1347.6,530.9 1342.5,537.0 1337.2,543.0 1331.6,548.6 1325.7,554.1 1319.7,559.3 1313.6,564.5 1307.5,569.6 1301.4,574.9 1295.7,580.4 1290.0,585.9 1284.1,591.4 1278.3,596.8 1272.4,602.2 1266.7,607.8 1261.0,613.4 1255.3,618.9 1249.6,624.4 1243.8,629.9 1238.0,635.4 1232.3,641.0 1226.6,646.6 1220.9,652.1 1215.1,657.6 1209.2,663.0 1203.4,668.4 1197.5,673.8 1191.8,679.4 1186.2,685.0 1180.6,690.7 1174.9,696.3 1169.3,702.0 1163.7,707.6 1158.1,713.3 1152.5,719.0 1146.9,724.6 1141.2,730.3 1135.6,735.9 1130.0,741.6 1124.4,747.2 1118.8,752.9 1113.1,758.5 1107.5,764.1 1101.8,769.8 1096.2,775.4 1090.6,781.0 1084.9,786.7 1079.3,792.3 1073.7,797.9 1068.0,803.6 1062.4,809.2 1056.8,814.9 1051.1,820.5 1045.5,826.1 1039.9,831.8 1034.3,837.5 1028.8,843.2 1023.3,849.0 1017.8,854.8 1012.4,860.7 1007.0,866.5 1001.5,872.3 996.0,878.1 990.5,883.8 984.9,889.5 979.5,895.3 974.6,901.7 969.7,908.1 964.7,914.4 959.3,920.2 953.5,925.7 947.5,931.0 941.4,936.2 935.3,941.3 929.5,946.9 924.0,952.6 918.5,958.4 913.1,964.2 907.6,970.0 902.1,975.7 896.8,981.8 892.0,988.2 887.0,994.6 881.9,1000.7 876.3,1006.4 870.4,1011.7 864.3,1016.8 858.0,1021.9 852.0,1027.2 846.4,1032.8 840.9,1038.6 835.4,1044.4 830.0,1050.2 824.4,1055.9 818.9,1061.7 814.3,1068.3 809.6,1074.9 804.4,1081.0 798.5,1086.3 792.1,1091.2 785.2,1095.6 778.0,1099.7 771.8,1104.7 765.6,1109.8 758.7,1114.2 749.9,1116.6" fill="#0064ff"/>
<polygon points="415.1,1407.2 414.5,1401.1 422.1,1397.5 425.1,1397.9 425.5,1400.9 421.2,1407.9" fill="#0076ff"/>
<polygon points="745.3,1108.9 744.3,1099.8 747.6,1091.8 752.4,1085.4 757.2,1078.9 761.0,1071.4 765.5,1064.7 770.7,1058.5 776.2,1052.7 782.0,1047.3 788.1,1042.2 794.5,1037.3 800.3,1031.8 806.1,1026.3 811.9,1020.9 817.8,1015.5 823.6,1010.0 829.3,1004.4 834.7,998.6 840.0,992.6 845.5,986.8 851.0,981.1 856.7,975.5 862.6,970.1 868.7,964.9 875.0,960.0 881.0,954.7 886.6,949.0 892.1,943.2 897.5,937.4 903.0,931.6 908.5,925.8 913.9,920.0 918.9,913.7 923.8,907.3 929.0,901.2 934.4,895.4 940.2,889.9 946.2,884.6 952.4,879.6 958.7,874.6 964.6,869.2 970.2,863.6 975.9,858.0 981.6,852.4 987.3,846.8 992.9,841.2 998.6,835.6 1004.4,830.1 1010.1,824.5 1015.8,818.9 1021.4,813.3 1027.1,807.7 1032.7,802.1 1038.3,796.4 1044.0,790.8 1049.6,785.1 1055.2,779.5 1060.9,773.9 1066.5,768.2 1072.1,762.6 1077.8,757.0 1083.4,751.3 1089.0,745.7 1094.7,740.1 1100.3,734.4 1106.0,728.8 1111.6,723.2 1117.2,717.5 1122.9,711.9 1128.5,706.3 1134.2,700.7 1139.9,695.1 1145.5,689.4 1151.2,683.8 1156.8,678.2 1162.5,672.6 1168.1,666.9 1173.7,661.3 1179.2,655.5 1184.5,649.5 1189.7,643.4 1194.9,637.4 1200.3,631.5 1205.7,625.7 1211.3,620.0 1216.8,614.2 1222.3,608.4 1227.7,602.5 1233.1,596.7 1238.6,590.9 1244.2,585.2 1249.7,579.5 1255.1,573.6 1260.4,567.6 1265.7,561.7 1271.2,555.9 1276.7,550.1 1281.9,544.0 1286.9,537.8 1292.0,531.6 1297.2,525.5 1302.6,519.7 1308.2,514.0 1314.3,508.8 1320.5,503.7 1326.1,498.1 1331.5,492.2 1337.0,486.4 1342.6,480.8 1348.2,475.1 1353.8,469.4 1359.4,463.8 1365.1,458.1 1370.6,452.4 1376.2,446.7 1381.7,441.0 1387.3,435.3 1392.9,429.6 1398.4,423.9 1403.9,418.1 1409.5,412.4 1415.1,406.8 1420.9,401.2 1426.7,395.8 1432.3,390.2 1438.0,384.5 1443.6,378.9 1449.3,373.3 1454.4,367.1 1459.3,360.8 1464.5,354.7 1470.2,349.1 1475.9,343.5 1481.6,338.0 1487.3,332.4 1493.3,327.1 1499.4,322.0 1505.3,316.6 1510.9,310.9 1516.4,305.2 1522.0,299.5 1527.6,293.8 1533.0,287.9 1538.4,282.1 1544.0,276.4 1550.1,271.2 1556.5,266.3 1562.6,261.2 1568.5,255.8 1574.9,251.0 1581.4,246.1 1587.6,241.1 1597.5,239.7 1608.7,241.9 1610.9,253.1 1609.5,263.0 1604.4,269.2 1599.6,275.6 1594.7,282.1 1589.4,288.0 1584.3,294.1 1579.4,300.5 1574.1,306.5 1568.5,312.2 1562.7,317.6 1556.8,323.0 1551.1,328.6 1545.9,334.7 1540.8,340.8 1535.4,346.7 1529.7,352.3 1524.0,357.8 1518.2,363.3 1512.6,369.0 1507.1,374.7 1501.5,380.4 1495.9,386.1 1489.8,391.3 1483.5,396.2 1477.3,401.3 1472.0,407.3 1467.0,413.5 1461.8,419.6 1456.0,425.1 1449.8,430.2 1443.8,435.5 1438.0,440.9 1431.8,446.0 1425.5,451.0 1419.6,456.3 1413.9,461.9 1408.2,467.5 1402.5,473.0 1396.7,478.5 1391.0,484.1 1385.5,489.8 1380.2,495.8 1374.9,501.8 1369.6,507.8 1364.2,513.6 1358.4,519.1 1352.5,524.5 1346.8,530.1 1341.8,536.3 1336.6,542.4 1330.9,548.0 1325.1,553.4 1319.0,558.6 1312.8,563.7 1306.6,568.7 1300.4,573.9 1294.7,579.4 1288.9,584.9 1283.0,590.2 1277.0,595.5 1271.1,600.9 1265.4,606.4 1259.7,612.0 1253.9,617.5 1248.1,622.9 1242.2,628.3 1236.4,633.8 1230.6,639.3 1224.9,644.9 1219.1,650.3 1213.2,655.7 1207.2,660.9 1201.1,666.1 1195.1,671.4 1189.3,676.9 1183.7,682.5 1178.0,688.1 1172.4,693.8 1166.8,699.4 1161.2,705.1 1155.5,710.7 1149.9,716.4 1144.3,722.1 1138.7,727.7 1133.1,733.4 1127.4,739.0 1121.8,744.6 1116.2,750.3 1110.5,755.9 1104.9,761.6 1099.3,767.2 1093.6,772.8 1088.0,778.5 1082.4,784.1 1076.7,789.7 1071.1,795.4 1065.5,801.0 1059.8,806.6 1054.2,812.3 1048.6,817.9 1042.9,823.6 1037.3,829.2 1031.7,834.9 1026.3,840.7 1020.9,846.6 1015.5,852.5 1010.1,858.4 1004.7,864.3 999.3,870.1 993.9,876.0 988.4,881.7 982.8,887.4 977.5,893.4 972.9,900.0 968.3,906.7 963.4,913.1 958.0,919.0 952.2,924.5 946.1,929.6 939.8,934.6 933.4,939.5 927.6,944.9 922.1,950.7 916.6,956.5 911.2,962.3 905.7,968.1 900.1,973.8 895.1,980.0 890.5,986.7 885.8,993.3 880.7,999.5 875.2,1005.2 869.2,1010.5 862.9,1015.5 856.6,1020.4 850.5,1025.6 844.8,1031.2 839.4,1037.1 834.0,1042.9 828.6,1048.8 823.1,1054.6 817.6,1060.4 813.2,1067.2 808.7,1074.0 803.5,1080.1 797.6,1085.4 791.1,1090.2 783.9,1094.3 776.1,1097.7 769.5,1102.4 762.9,1107.1 754.5,1110.0" fill="#0076ff"/>
<polygon points="752.7,1102.0 752.0,1096.2 755.5,1088.5 759.5,1081.2 762.3,1072.7 766.5,1065.6 771.5,1059.3 776.9,1053.5 782.8,1048.1 789.1,1043.2 795.8,1038.6 801.6,1033.1 807.4,1027.7 813.4,1022.3 819.4,1017.1 825.3,1011.7 831.0,1006.1 836.2,1000.1 841.4,994.0 846.7,988.0 852.2,982.2 857.9,976.6 863.9,971.4 870.2,966.5 876.9,961.9 883.3,957.0 888.8,951.3 894.3,945.5 899.7,939.6 905.2,933.8 910.7,928.1 916.0,922.1 920.6,915.4 925.3,908.8 930.3,902.5 935.7,896.6 941.5,891.2 947.6,886.1 954.2,881.4 961.1,877.0 967.1,871.8 972.8,866.2 978.5,860.6 984.3,855.1 990.1,849.7 996.0,844.2 1001.9,838.9 1007.8,833.5 1013.7,828.1 1019.5,822.7 1025.3,817.2 1030.9,811.5 1036.5,805.9 1042.2,800.3 1047.8,794.6 1053.4,789.0 1059.1,783.4 1064.7,777.7 1070.4,772.1 1076.0,766.5 1081.6,760.8 1087.3,755.2 1092.9,749.5 1098.5,743.9 1104.2,738.3 1109.8,732.6 1115.4,727.0 1121.1,721.4 1126.7,715.8 1132.4,710.1 1138.0,704.5 1143.7,698.9 1149.3,693.2 1155.0,687.6 1160.6,682.0 1166.2,676.4 1171.9,670.7 1177.5,665.1 1182.7,659.0 1187.5,652.6 1192.3,646.1 1197.2,639.7 1202.3,633.6 1207.7,627.6 1213.2,621.9 1218.7,616.1 1224.0,610.1 1229.3,604.2 1234.6,598.2 1240.0,592.4 1245.6,586.6 1251.1,580.9 1256.3,574.8 1261.5,568.7 1266.8,562.7 1272.2,556.9 1277.7,551.1 1282.8,544.9 1287.6,538.5 1292.6,532.2 1297.8,526.1 1303.2,520.2 1308.8,514.6 1314.9,509.4 1321.2,504.5 1326.8,498.8 1332.1,492.9 1337.6,487.1 1343.2,481.4 1348.9,475.8 1354.5,470.1 1360.1,464.5 1365.8,458.8 1371.3,453.1 1376.9,447.4 1382.4,441.6 1387.9,435.9 1393.5,430.2 1399.0,424.5 1404.5,418.7 1410.0,412.9 1415.6,407.3 1421.3,401.7 1427.1,396.2 1432.8,390.6 1438.4,385.0 1444.1,379.4 1449.8,373.8 1454.9,367.6 1459.7,361.2 1464.9,355.1 1470.5,349.5 1476.3,343.9 1482.0,338.4 1487.7,332.8 1493.7,327.5 1499.8,322.4 1505.7,317.0 1511.3,311.3 1516.9,305.6 1522.5,300.0 1528.0,294.2 1533.4,288.4 1538.8,282.5 1544.5,276.8 1550.5,271.7 1557.0,266.8 1563.1,261.7 1569.1,256.4 1575.6,251.7 1582.2,246.9 1588.5,242.0 1600.3,242.5 1607.3,243.3 1608.1,250.3 1608.6,262.1 1603.6,268.4 1598.9,275.0 1594.1,281.5 1588.8,287.4 1583.8,293.6 1578.9,300.1 1573.7,306.1 1568.1,311.7 1562.2,317.2 1556.3,322.5 1550.7,328.1 1545.5,334.2 1540.4,340.4 1535.0,346.3 1529.3,351.9 1523.6,357.4 1517.8,362.9 1512.2,368.6 1506.7,374.3 1501.1,380.0 1495.5,385.7 1489.4,390.9 1483.0,395.7 1476.7,400.7 1471.5,406.7 1466.5,413.1 1461.3,419.2 1455.6,424.7 1449.3,429.7 1443.3,435.0 1437.4,440.3 1431.2,445.4 1424.9,450.4 1418.9,455.7 1413.3,461.3 1407.5,466.8 1401.8,472.3 1396.0,477.8 1390.3,483.4 1384.8,489.1 1379.5,495.1 1374.3,501.2 1369.0,507.2 1363.5,513.0 1357.7,518.4 1351.8,523.8 1346.1,529.4 1341.1,535.7 1336.0,541.8 1330.4,547.4 1324.5,552.8 1318.4,558.0 1312.1,563.0 1305.7,567.8 1299.5,572.9 1293.7,578.4 1287.9,583.8 1281.8,589.1 1275.7,594.3 1269.7,599.5 1264.0,605.0 1258.2,610.6 1252.4,616.0 1246.4,621.3 1240.5,626.6 1234.5,631.9 1228.7,637.3 1223.0,642.9 1217.0,648.3 1210.9,653.4 1204.5,658.3 1198.0,663.1 1191.6,667.9 1185.5,673.1 1179.9,678.7 1174.2,684.4 1168.6,690.0 1163.0,695.6 1157.4,701.3 1151.7,706.9 1146.1,712.6 1140.5,718.2 1134.8,723.9 1129.2,729.5 1123.6,735.2 1118.0,740.8 1112.3,746.4 1106.7,752.1 1101.1,757.7 1095.4,763.3 1089.8,769.0 1084.1,774.6 1078.5,780.2 1072.9,785.9 1067.2,791.5 1061.6,797.2 1056.0,802.8 1050.3,808.4 1044.7,814.1 1039.1,819.7 1033.4,825.3 1028.0,831.2 1022.7,837.1 1017.5,843.2 1012.3,849.3 1007.1,855.3 1001.9,861.4 996.6,867.4 991.2,873.3 985.8,879.1 980.3,884.9 975.1,891.0 971.0,898.2 966.8,905.2 962.1,911.8 956.8,917.8 950.9,923.2 944.7,928.2 938.0,932.8 931.3,937.4 925.4,942.7 919.8,948.5 914.4,954.3 909.0,960.1 903.5,965.9 897.9,971.6 893.1,978.1 888.9,985.2 884.5,992.0 879.5,998.3 874.0,1004.1 868.0,1009.3 861.6,1014.2 855.1,1018.9 848.8,1023.9 843.2,1029.6 837.8,1035.5 832.5,1041.5 827.2,1047.4 821.8,1053.2 816.3,1059.1 812.2,1066.2 807.9,1073.2 802.8,1079.3 796.8,1084.6 790.1,1089.2 782.6,1093.0 773.8,1095.4 766.4,1099.3 758.4,1102.6" fill="#0088ff"/>
<polygon points="764.0,1091.0 763.3,1085.0 763.7,1074.1 767.4,1066.6 772.3,1060.1 777.6,1054.2 783.6,1048.9 790.1,1044.2 797.2,1039.9 803.0,1034.5 808.9,1029.2 815.0,1024.0 821.2,1018.9 827.2,1013.7 832.9,1008.1 837.9,1001.8 842.8,995.4 847.9,989.2 853.3,983.4 859.0,977.8 865.2,972.7 872.0,968.2 879.5,964.5 886.7,960.4 892.3,954.7 897.8,948.9 903.2,943.1 908.6,937.3 914.2,931.5 919.1,925.1 922.7,917.5 926.8,910.4 931.6,903.8 936.9,897.9 942.8,892.5 949.3,887.7 956.5,883.7 965.1,881.0 970.5,881.6 971.1,887.0 968.7,895.9 965.2,903.6 960.8,910.5 955.5,916.5 949.6,921.9 943.1,926.6 935.9,930.7 928.3,934.4 921.9,939.3 916.4,945.0 910.9,950.8 905.5,956.7 900.0,962.5 894.5,968.2 890.6,975.5 887.2,983.4 883.1,990.6 878.4,997.2 872.9,1002.9 866.8,1008.1 860.2,1012.8 853.4,1017.2 846.8,1022.0 841.2,1027.6 836.0,1033.7 830.9,1039.8 825.7,1045.9 820.3,1051.8 815.0,1057.7 811.2,1065.2 807.1,1072.4 802.1,1078.6 796.0,1083.9 789.2,1088.3 781.2,1091.6 770.0,1091.6" fill="#0099ff"/>
<polygon points="1201.7,648.9 1201.1,643.6 1205.4,636.6 1210.4,630.3 1215.9,624.6 1221.1,618.5 1226.2,612.3 1231.2,606.1 1236.4,600.0 1241.7,594.0 1247.1,588.2 1252.6,582.4 1257.7,576.2 1262.7,569.9 1267.8,563.8 1273.2,557.9 1278.7,552.1 1283.6,545.8 1288.4,539.2 1293.2,532.9 1298.4,526.7 1303.7,520.8 1309.3,515.1 1315.5,510.0 1321.9,505.2 1327.5,499.5 1332.8,493.5 1338.2,487.7 1343.8,482.0 1349.5,476.4 1355.1,470.8 1360.8,465.2 1366.5,459.5 1372.0,453.8 1377.5,448.1 1383.0,442.3 1388.5,436.5 1394.1,430.9 1399.6,425.1 1405.0,419.2 1410.5,413.4 1416.1,407.7 1421.8,402.2 1427.6,396.7 1433.2,391.1 1438.9,385.5 1444.6,379.9 1450.4,374.4 1455.3,368.1 1460.1,361.6 1465.3,355.5 1470.9,349.8 1476.6,344.3 1482.4,338.7 1488.1,333.2 1494.1,327.9 1500.2,322.8 1506.1,317.4 1511.7,311.7 1517.3,306.1 1522.9,300.4 1528.5,294.7 1533.8,288.8 1539.2,282.9 1544.8,277.2 1550.9,272.1 1557.4,267.3 1563.7,262.3 1569.7,257.0 1576.3,252.3 1583.0,247.8 1589.5,243.0 1603.1,247.5 1607.6,261.1 1602.8,267.6 1598.3,274.3 1593.6,280.9 1588.3,286.9 1583.3,293.1 1578.5,299.6 1573.3,305.7 1567.7,311.4 1561.8,316.8 1555.9,322.1 1550.2,327.7 1545.0,333.8 1539.9,340.0 1534.6,345.9 1528.9,351.5 1523.2,357.0 1517.5,362.6 1511.8,368.2 1506.3,374.0 1500.8,379.7 1495.1,385.3 1489.0,390.5 1482.5,395.2 1476.2,400.2 1471.0,406.3 1466.0,412.6 1460.9,418.7 1455.1,424.2 1448.9,429.2 1442.8,434.5 1436.9,439.9 1430.7,444.9 1424.3,449.8 1418.3,455.0 1412.6,460.6 1406.9,466.2 1401.1,471.7 1395.4,477.2 1389.6,482.7 1384.1,488.4 1378.8,494.5 1373.7,500.6 1368.4,506.6 1362.9,512.4 1357.1,517.8 1351.1,523.1 1345.4,528.7 1340.6,535.1 1335.5,541.3 1329.8,546.9 1323.9,552.2 1317.7,557.3 1311.4,562.2 1304.8,567.0 1298.5,571.9 1292.7,577.4 1286.8,582.8 1280.7,587.9 1274.4,592.9 1268.2,598.0 1262.4,603.4 1256.6,608.9 1250.6,614.2 1244.5,619.4 1238.3,624.4 1232.1,629.5 1226.0,634.7 1220.3,640.2 1214.0,645.2 1207.0,649.5" fill="#0099ff"/>
<polygon points="767.9,1087.3 766.0,1076.4 768.7,1067.8 773.2,1061.1 778.6,1055.1 784.6,1049.9 791.5,1045.5 799.3,1042.1 805.4,1036.9 811.5,1031.7 818.0,1027.0 825.0,1022.7 832.6,1019.0 838.5,1013.6 841.2,1005.0 845.1,997.7 849.7,991.1 855.0,985.0 860.8,979.5 867.3,974.8 875.4,971.7 882.9,972.5 883.7,980.0 881.0,988.5 876.7,995.4 871.2,1001.3 864.9,1006.2 857.9,1010.5 850.1,1014.0 841.3,1016.4 835.9,1022.3 832.1,1029.8 827.9,1036.8 823.1,1043.4 818.0,1049.5 812.8,1055.6 809.8,1063.9 806.1,1071.4 801.1,1077.7 795.0,1082.9 787.9,1087.0 778.9,1089.3" fill="#00b1ff"/>
<polygon points="930.7,922.7 929.6,913.1 933.7,905.9 938.8,899.8 944.9,894.6 952.3,890.7 961.2,891.7 962.2,900.6 958.7,908.4 953.6,914.6 947.5,919.8 940.3,923.8" fill="#00b1ff"/>
<polygon points="1240.9,609.7 1240.2,603.8 1244.9,597.2 1250.1,591.2 1255.4,585.2 1260.0,578.5 1264.5,571.8 1269.4,565.4 1274.6,559.3 1280.1,553.5 1284.8,546.9 1289.3,540.2 1294.0,533.7 1299.1,527.4 1304.4,521.5 1310.0,515.8 1316.3,510.8 1322.8,506.0 1328.4,500.4 1333.6,494.3 1339.0,488.4 1344.6,482.8 1350.3,477.2 1356.0,471.6 1361.7,466.1 1367.3,460.4 1372.9,454.7 1378.4,448.9 1383.8,443.1 1389.4,437.4 1394.9,431.7 1400.4,425.8 1405.7,419.9 1411.1,414.0 1416.7,408.3 1422.4,402.7 1428.1,397.2 1433.8,391.6 1439.5,386.0 1445.3,380.5 1451.0,375.0 1455.9,368.6 1460.6,362.0 1465.7,355.9 1471.3,350.3 1477.1,344.7 1482.8,339.2 1488.5,333.6 1494.5,328.4 1500.7,323.3 1506.6,317.9 1512.2,312.3 1517.8,306.6 1523.5,301.0 1529.0,295.2 1534.3,289.3 1539.7,283.4 1545.3,277.7 1551.5,272.6 1558.1,267.9 1564.4,262.9 1570.4,257.7 1577.2,253.2 1584.1,248.9 1590.9,244.4 1603.1,247.5 1606.2,259.7 1601.7,266.5 1597.4,273.4 1592.8,280.2 1587.6,286.2 1582.7,292.5 1578.0,299.1 1572.9,305.3 1567.2,310.9 1561.3,316.2 1555.3,321.6 1549.6,327.1 1544.5,333.2 1539.4,339.5 1534.1,345.4 1528.4,351.0 1522.7,356.5 1517.0,362.1 1511.4,367.8 1505.9,373.5 1500.3,379.2 1494.7,384.9 1488.5,390.0 1481.9,394.7 1475.6,399.6 1470.4,405.6 1465.5,412.0 1460.4,418.2 1454.6,423.7 1448.3,428.7 1442.2,433.9 1436.3,439.2 1430.0,444.2 1423.6,449.0 1417.5,454.2 1411.8,459.8 1406.1,465.3 1400.3,470.8 1394.5,476.3 1388.7,481.8 1383.2,487.6 1378.0,493.6 1372.9,499.8 1367.6,505.8 1362.2,511.6 1356.3,517.0 1350.2,522.2 1344.5,527.8 1339.8,534.3 1334.8,540.6 1329.1,546.2 1323.2,551.5 1316.9,556.5 1310.4,561.3 1303.7,565.8 1297.1,570.5 1291.3,576.0 1285.2,581.2 1278.8,586.1 1272.1,590.6 1265.4,595.2 1259.4,600.5 1253.4,605.7 1246.8,610.4" fill="#00b1ff"/>
<polygon points="771.8,1083.5 771.6,1082.0 770.1,1069.2 774.2,1062.1 779.5,1056.1 785.6,1050.9 793.0,1047.0 803.2,1046.0 808.3,1046.6 808.9,1051.7 808.3,1062.3 805.1,1070.4 800.2,1076.8 794.0,1081.9 786.5,1085.7 773.2,1083.6" fill="#00c9ff"/>
<polygon points="853.3,1002.7 852.3,993.6 857.1,987.1 863.0,981.8 871.0,978.5 876.7,979.2 877.4,984.9 874.4,993.2 869.1,999.2 862.4,1003.7" fill="#00c9ff"/>
<polygon points="937.9,915.6 937.2,909.4 941.6,902.5 948.6,898.3 954.4,898.9 955.0,904.7 950.9,911.9 944.0,916.3" fill="#00c9ff"/>
<polygon points="1268.1,582.5 1267.2,574.5 1271.4,567.4 1276.3,561.0 1281.7,555.1 1286.1,548.2 1290.3,541.1 1294.8,534.4 1299.8,528.1 1305.0,522.1 1310.7,516.4 1317.0,511.5 1323.7,506.9 1329.3,501.2 1334.3,495.1 1339.7,489.1 1345.4,483.5 1351.1,478.0 1356.8,472.5 1362.6,466.9 1368.2,461.3 1373.8,455.6 1379.2,449.8 1384.7,443.9 1390.2,438.2 1395.7,432.5 1401.1,426.6 1406.3,420.5 1411.7,414.6 1417.3,408.9 1422.9,403.3 1428.6,397.7 1434.3,392.1 1440.0,386.6 1445.8,381.1 1451.6,375.6 1456.4,369.2 1461.0,362.5 1466.1,356.3 1471.7,350.7 1477.5,345.1 1483.2,339.6 1488.9,334.1 1495.0,328.8 1501.2,323.7 1507.1,318.4 1512.7,312.7 1518.3,307.1 1524.0,301.5 1529.6,295.8 1534.8,289.8 1540.2,283.8 1545.8,278.2 1552.0,273.1 1558.6,268.5 1565.0,263.6 1571.1,258.5 1578.1,254.1 1585.4,250.2 1592.6,246.1 1603.1,247.5 1604.5,258.0 1600.4,265.2 1596.4,272.5 1592.1,279.4 1587.0,285.5 1582.1,291.9 1577.5,298.6 1572.4,304.8 1566.8,310.4 1560.8,315.8 1554.8,321.0 1549.1,326.6 1544.0,332.7 1539.0,339.0 1533.6,344.9 1528.0,350.5 1522.3,356.1 1516.6,361.7 1511.0,367.3 1505.4,373.1 1499.9,378.8 1494.3,384.5 1488.1,389.6 1481.4,394.1 1475.0,399.0 1469.8,405.1 1464.9,411.5 1459.8,417.7 1454.1,423.2 1447.7,428.1 1441.7,433.3 1435.7,438.7 1429.4,443.5 1422.8,448.3 1416.7,453.4 1411.0,459.0 1405.2,464.5 1399.4,470.0 1393.6,475.4 1387.8,480.9 1382.3,486.7 1377.1,492.8 1372.1,499.0 1366.9,505.1 1361.4,510.9 1355.5,516.2 1349.4,521.3 1343.7,526.9 1339.1,533.6 1334.1,539.9 1328.5,545.6 1322.5,550.8 1316.2,555.8 1309.5,560.3 1302.4,564.5 1295.5,568.9 1289.6,574.3 1283.2,579.2 1276.1,583.4" fill="#00c9ff"/>
<polygon points="773.8,1081.9 771.7,1070.8 775.3,1063.1 780.4,1057.0 786.7,1052.0 795.0,1049.0 805.2,1050.2 806.3,1060.4 804.0,1069.3 799.3,1075.9 793.0,1080.8 784.9,1084.0" fill="#00e1fa"/>
<polygon points="1276.2,574.4 1276.0,571.9 1279.0,563.7 1284.1,557.5 1287.6,549.7 1291.3,542.2 1295.6,535.2 1300.5,528.8 1305.7,522.7 1311.3,517.1 1317.7,512.3 1324.6,507.9 1330.2,502.1 1335.1,495.8 1340.4,489.9 1346.1,484.3 1351.9,478.8 1357.7,473.3 1363.5,467.9 1369.2,462.3 1374.7,456.5 1380.1,450.6 1385.5,444.8 1391.0,439.0 1396.5,433.3 1401.8,427.3 1407.0,421.1 1412.3,415.2 1417.8,409.4 1423.4,403.8 1429.1,398.2 1434.8,392.6 1440.5,387.1 1446.4,381.7 1452.2,376.2 1457.0,369.7 1461.4,362.9 1466.5,356.7 1472.1,351.0 1477.9,345.5 1483.6,340.0 1489.3,334.5 1495.4,329.2 1501.6,324.2 1507.5,318.8 1513.2,313.2 1518.8,307.6 1524.5,302.0 1530.0,296.3 1535.3,290.2 1540.6,284.3 1546.2,278.6 1552.4,273.6 1559.2,269.1 1565.7,264.3 1571.9,259.2 1579.1,255.1 1586.9,251.7 1595.5,249.0 1601.0,249.6 1601.6,255.1 1598.9,263.7 1595.5,271.5 1591.4,278.7 1586.3,284.9 1581.5,291.4 1577.0,298.2 1572.0,304.4 1566.3,310.0 1560.4,315.3 1554.3,320.5 1548.6,326.1 1543.5,332.3 1538.5,338.5 1533.2,344.5 1527.5,350.1 1521.9,355.7 1516.2,361.3 1510.6,366.9 1505.1,372.7 1499.5,378.5 1493.9,384.1 1487.7,389.1 1480.9,393.6 1474.4,398.4 1469.2,404.5 1464.4,411.0 1459.4,417.2 1453.6,422.7 1447.2,427.6 1441.1,432.8 1435.2,438.1 1428.7,442.9 1422.1,447.6 1415.9,452.6 1410.2,458.2 1404.4,463.7 1398.5,469.1 1392.7,474.5 1386.9,480.0 1381.4,485.7 1376.3,491.9 1371.3,498.2 1366.1,504.3 1360.7,510.1 1354.7,515.5 1348.5,520.4 1342.7,526.0 1338.3,532.9 1333.5,539.3 1327.9,544.9 1321.8,550.1 1315.4,555.0 1308.4,559.3 1300.9,563.0 1293.1,566.5 1286.9,571.6 1278.7,574.6" fill="#00e1fa"/>
<polygon points="775.9,1079.8 775.4,1074.5 776.7,1064.6 781.6,1058.2 788.2,1053.5 799.8,1056.1 802.4,1067.7 798.1,1074.6 791.5,1079.4 781.2,1080.4" fill="#14ffe2"/>
<polygon points="1291.3,559.3 1290.6,552.7 1292.7,543.6 1296.7,536.3 1301.3,529.6 1306.4,523.5 1312.0,517.8 1318.7,513.2 1325.9,509.1 1331.4,503.4 1336.2,496.9 1341.4,490.8 1347.1,485.3 1352.9,479.8 1358.9,474.5 1364.8,469.2 1370.5,463.6 1375.9,457.8 1381.3,451.8 1386.6,445.9 1392.0,440.0 1397.6,434.3 1402.8,428.2 1407.8,421.9 1413.0,415.9 1418.5,410.1 1424.1,404.4 1429.7,398.8 1435.4,393.2 1441.1,387.7 1447.1,382.4 1453.0,377.0 1457.6,370.3 1461.9,363.4 1466.9,357.1 1472.6,351.5 1478.3,346.0 1484.1,340.5 1489.8,334.9 1495.9,329.7 1502.1,324.7 1508.1,319.4 1513.7,313.7 1519.4,308.2 1525.1,302.6 1530.6,296.9 1535.8,290.8 1541.1,284.8 1546.7,279.1 1553.0,274.1 1559.9,269.8 1566.5,265.1 1572.8,260.1 1580.5,256.6 1590.5,255.3 1594.8,255.8 1595.3,260.1 1594.0,270.1 1590.4,277.7 1585.5,284.0 1580.8,290.7 1576.5,297.6 1571.5,303.9 1565.8,309.5 1559.8,314.7 1553.7,319.9 1548.0,325.5 1542.9,331.7 1538.0,338.0 1532.6,343.9 1527.0,349.6 1521.4,355.2 1515.7,360.8 1510.1,366.5 1504.6,372.3 1499.1,378.0 1493.4,383.6 1487.2,388.6 1480.3,393.0 1473.6,397.6 1468.5,403.8 1463.8,410.4 1458.8,416.6 1453.0,422.1 1446.6,427.0 1440.5,432.1 1434.5,437.4 1427.9,442.1 1421.2,446.6 1414.9,451.6 1409.1,457.1 1403.3,462.6 1397.4,467.9 1391.4,473.2 1385.6,478.7 1380.1,484.5 1375.1,490.7 1370.2,497.1 1365.2,503.3 1359.8,509.2 1353.7,514.4 1347.2,519.2 1341.5,524.7 1337.4,531.9 1332.7,538.5 1327.1,544.2 1320.9,549.3 1314.3,553.9 1307.0,557.9 1297.9,560.0" fill="#14ffe2"/>
<polygon points="779.8,1076.3 778.7,1066.5 783.1,1059.7 790.4,1055.7 799.2,1056.7 800.2,1065.5 796.6,1073.2 789.6,1077.4" fill="#2cffca"/>
<polygon points="1295.7,554.8 1294.7,545.6 1297.8,537.4 1302.2,530.5 1307.2,524.3 1312.8,518.6 1319.7,514.2 1327.4,510.7 1332.9,504.9 1337.3,498.0 1342.4,491.9 1348.2,486.3 1354.1,481.0 1360.2,475.9 1366.4,470.7 1372.1,465.2 1377.5,459.3 1382.7,453.2 1387.9,447.2 1393.3,441.2 1398.8,435.5 1403.8,429.3 1408.6,422.7 1413.7,416.6 1419.1,410.8 1424.7,405.1 1430.3,399.4 1435.9,393.8 1441.8,388.3 1447.8,383.1 1453.7,377.7 1458.2,370.9 1462.4,363.9 1467.4,357.6 1473.0,351.9 1478.8,346.4 1484.5,340.9 1490.3,335.4 1496.3,330.2 1502.6,325.2 1508.6,319.9 1514.2,314.3 1520.0,308.7 1525.7,303.2 1531.2,297.4 1536.4,291.3 1541.6,285.3 1547.2,279.6 1553.5,274.7 1560.6,270.5 1567.4,266.0 1573.9,261.2 1582.5,258.5 1591.1,259.5 1592.0,268.1 1589.4,276.7 1584.6,283.1 1580.1,290.0 1575.9,297.0 1571.0,303.4 1565.3,309.0 1559.3,314.2 1553.1,319.4 1547.4,324.9 1542.4,331.1 1537.4,337.5 1532.1,343.4 1526.5,349.1 1520.9,354.7 1515.3,360.4 1509.7,366.0 1504.2,371.8 1498.7,377.6 1493.0,383.2 1486.7,388.2 1479.7,392.4 1472.8,396.9 1467.8,403.1 1463.2,409.7 1458.2,416.0 1452.4,421.5 1446.0,426.3 1439.8,431.5 1433.8,436.7 1427.1,441.3 1420.1,445.6 1413.7,450.4 1407.9,455.9 1402.0,461.3 1395.9,466.5 1389.9,471.7 1383.9,477.0 1378.5,482.9 1373.7,489.4 1369.0,495.9 1364.1,502.3 1358.7,508.2 1352.6,513.3 1345.7,517.7 1339.9,523.2 1336.4,530.9 1332.0,537.8 1326.3,543.4 1320.1,548.4 1313.2,552.8 1305.0,555.9" fill="#2cffca"/>
<polygon points="785.4,1070.9 784.8,1065.1 785.3,1061.8 788.5,1061.3 794.3,1062.0 794.9,1067.8 794.4,1071.0 791.2,1071.5" fill="#44ffb2"/>
<polygon points="1301.0,549.6 1299.2,538.8 1303.2,531.5 1308.1,525.1 1313.7,519.5 1320.8,515.3 1329.9,513.2 1335.1,507.1 1338.7,499.4 1343.6,493.0 1349.4,487.6 1355.6,482.5 1362.1,477.8 1369.1,473.4 1375.1,468.2 1380.0,461.8 1384.7,455.2 1389.6,448.9 1394.8,442.8 1400.2,437.0 1405.0,430.4 1409.4,423.6 1414.4,417.3 1419.8,411.4 1425.3,405.7 1430.8,399.9 1436.5,394.3 1442.4,388.9 1448.5,383.8 1454.5,378.5 1458.8,371.5 1462.9,364.3 1467.8,358.0 1473.4,352.3 1479.2,346.8 1485.0,341.4 1490.7,335.8 1496.8,330.6 1503.1,325.6 1509.1,320.3 1514.7,314.8 1520.5,309.3 1526.3,303.8 1531.8,298.0 1536.9,291.8 1542.1,285.7 1547.7,280.1 1554.1,275.2 1561.4,271.2 1568.4,267.0 1575.1,262.4 1586.1,264.4 1588.2,275.5 1583.6,282.2 1579.4,289.2 1575.4,296.5 1570.5,302.9 1564.8,308.5 1558.8,313.7 1552.6,318.8 1546.8,324.3 1541.8,330.6 1536.9,337.0 1531.7,342.9 1526.1,348.6 1520.5,354.3 1514.8,359.9 1509.2,365.6 1503.8,371.4 1498.3,377.2 1492.6,382.8 1486.2,387.7 1479.1,391.8 1472.0,396.1 1467.1,402.4 1462.6,409.1 1457.7,415.5 1451.8,420.9 1445.4,425.7 1439.2,430.8 1433.1,436.0 1426.3,440.5 1419.0,444.4 1412.2,448.9 1406.4,454.4 1400.3,459.6 1393.9,464.5 1387.4,469.2 1381.0,474.1 1375.9,480.2 1371.8,487.5 1367.6,494.5 1362.9,501.0 1357.6,507.0 1351.2,511.9 1343.5,515.5 1337.4,520.7 1335.3,529.8 1331.1,536.9 1325.5,542.5 1319.1,547.4 1311.8,551.4" fill="#44ffb2"/>
<polygon points="1302.1,548.5 1301.2,540.8 1304.3,532.6 1309.0,526.0 1314.5,520.3 1322.2,516.7 1332.5,518.1 1333.9,528.4 1330.3,536.0 1324.6,541.6 1318.0,546.3 1309.8,549.4" fill="#5cff9a"/>
<polygon points="1341.6,509.0 1340.8,501.5 1345.1,494.5 1351.0,489.2 1357.9,484.8 1364.5,485.5 1365.3,492.2 1361.2,499.4 1356.1,505.5 1349.1,509.8" fill="#5cff9a"/>
<polygon points="1394.1,455.1 1393.9,453.2 1397.4,445.4 1402.6,439.3 1406.5,431.9 1410.4,424.6 1415.1,418.0 1420.5,412.1 1425.9,406.3 1431.4,400.5 1437.0,394.9 1443.0,389.5 1449.3,384.6 1455.4,379.4 1459.4,372.1 1463.3,364.8 1468.2,358.4 1473.8,352.7 1479.6,347.2 1485.4,341.8 1491.1,336.2 1497.2,331.1 1503.5,326.1 1509.5,320.8 1515.2,315.3 1521.1,309.8 1526.9,304.4 1532.4,298.6 1537.4,292.3 1542.5,286.2 1548.1,280.5 1554.6,275.7 1562.1,272.0 1569.6,268.2 1576.8,264.1 1585.5,265.1 1586.5,273.8 1582.4,281.0 1578.6,288.4 1574.8,296.0 1570.1,302.5 1564.4,308.0 1558.2,313.2 1552.0,318.2 1546.2,323.7 1541.3,330.0 1536.4,336.5 1531.2,342.5 1525.6,348.2 1520.0,353.9 1514.4,359.5 1508.8,365.2 1503.4,371.0 1497.9,376.8 1492.2,382.4 1485.8,387.3 1478.4,391.2 1471.2,395.2 1466.3,401.6 1462.0,408.5 1457.1,414.9 1451.3,420.4 1444.7,425.1 1438.5,430.1 1432.3,435.3 1425.3,439.5 1417.5,442.9 1409.9,446.6 1403.8,451.8 1396.0,455.3" fill="#5cff9a"/>
<polygon points="1307.1,543.5 1306.0,534.4 1310.2,527.3 1315.8,521.6 1325.3,519.8 1330.2,520.4 1330.8,525.3 1329.0,534.8 1323.3,540.4 1316.2,544.6" fill="#79ff7e"/>
<polygon points="1411.3,438.1 1411.1,436.6 1411.7,425.9 1416.1,419.0 1421.3,413.0 1426.7,407.1 1432.1,401.2 1437.7,395.6 1443.8,390.3 1450.3,385.5 1456.6,380.6 1460.2,372.9 1463.8,365.3 1468.6,358.8 1474.2,353.2 1480.0,347.7 1485.9,342.2 1491.6,336.7 1497.7,331.6 1504.1,326.7 1510.1,321.4 1515.8,315.9 1521.7,310.5 1527.7,305.2 1533.1,299.3 1538.0,293.0 1543.1,286.8 1548.7,281.1 1555.3,276.4 1563.2,273.0 1571.5,270.1 1579.6,271.0 1580.5,279.1 1577.5,287.4 1574.2,295.3 1569.5,301.9 1563.8,307.5 1557.6,312.6 1551.2,317.5 1545.5,322.9 1540.6,329.3 1535.8,335.9 1530.6,341.9 1525.0,347.6 1519.5,353.4 1513.9,359.0 1508.3,364.7 1502.9,370.5 1497.4,376.4 1491.8,382.0 1485.3,386.7 1477.7,390.4 1470.0,394.0 1465.3,400.6 1461.2,407.7 1456.4,414.2 1450.6,419.7 1443.9,424.3 1437.6,429.3 1431.4,434.3 1424.0,438.1 1412.8,438.3" fill="#79ff7e"/>
<polygon points="1312.9,537.6 1312.0,529.1 1317.5,523.3 1326.3,524.3 1327.3,533.1 1321.5,538.6" fill="#96ff61"/>
<polygon points="1414.7,435.2 1413.9,428.0 1417.2,420.1 1422.3,414.0 1427.6,408.0 1432.9,402.0 1438.5,396.3 1444.6,391.2 1451.4,386.7 1458.2,382.2 1461.0,373.8 1464.4,365.8 1469.1,359.3 1474.7,353.6 1480.5,348.2 1486.3,342.7 1492.1,337.2 1498.2,332.1 1504.6,327.2 1510.7,322.0 1516.5,316.5 1522.5,311.2 1528.5,306.0 1533.9,300.1 1538.7,293.6 1543.7,287.3 1549.2,281.6 1556.0,277.1 1564.5,274.3 1574.9,275.7 1576.3,286.1 1573.5,294.6 1569.0,301.4 1563.3,306.9 1557.0,311.9 1550.5,316.7 1544.6,322.1 1539.9,328.6 1535.2,335.2 1530.0,341.3 1524.5,347.1 1519.0,352.8 1513.4,358.6 1507.9,364.2 1502.4,370.1 1497.0,375.9 1491.3,381.5 1484.7,386.2 1476.8,389.6 1468.4,392.4 1464.2,399.4 1460.3,406.9 1455.7,413.5 1449.8,418.9 1443.1,423.4 1436.6,428.3 1430.2,433.1 1421.8,436.0" fill="#96ff61"/>
<polygon points="1419.8,430.6 1418.8,421.7 1423.5,415.2 1428.6,409.0 1433.7,402.8 1439.2,397.1 1445.6,392.1 1453.1,388.4 1461.6,389.3 1462.5,397.8 1459.4,405.9 1454.9,412.7 1449.0,418.1 1442.1,422.4 1435.4,427.1 1428.7,431.6" fill="#b3ff44"/>
<polygon points="1464.4,386.2 1462.0,374.7 1464.9,366.4 1469.5,359.7 1475.1,354.0 1481.0,348.6 1486.8,343.2 1492.6,337.7 1498.8,332.6 1505.2,327.8 1511.3,322.6 1517.1,317.1 1523.2,312.0 1529.4,306.9 1534.7,300.9 1539.3,294.3 1544.2,287.9 1549.8,282.2 1556.7,277.8 1566.4,276.3 1573.5,277.1 1574.3,284.1 1572.8,293.9 1568.4,300.8 1562.7,306.4 1556.3,311.2 1549.6,315.8 1543.7,321.2 1539.1,327.9 1534.6,334.6 1529.4,340.7 1523.9,346.5 1518.5,352.3 1513.0,358.1 1507.4,363.8 1502.0,369.6 1496.6,375.5 1490.9,381.1 1484.2,385.7 1475.9,388.6" fill="#b3ff44"/>
<polygon points="1426.1,424.5 1425.3,416.9 1429.9,410.2 1434.6,403.7 1440.1,397.9 1446.8,393.3 1457.0,394.5 1458.2,404.7 1454.0,411.9 1448.1,417.2 1440.8,421.2 1433.7,425.3" fill="#d0ff27"/>
<polygon points="1464.4,386.2 1463.1,375.9 1465.5,366.9 1469.9,360.1 1475.5,354.5 1481.4,349.1 1487.3,343.7 1493.0,338.2 1499.3,333.1 1505.8,328.4 1511.9,323.2 1517.8,317.8 1524.1,312.8 1530.5,308.0 1535.7,301.9 1540.1,295.0 1544.8,288.5 1550.4,282.8 1557.5,278.6 1569.2,281.4 1571.9,293.1 1567.8,300.2 1562.1,305.8 1555.6,310.5 1548.7,314.9 1542.7,320.2 1538.3,327.0 1533.9,333.9 1528.8,340.1 1523.3,345.9 1518.0,351.8 1512.5,357.6 1506.9,363.3 1501.5,369.2 1496.1,375.0 1490.5,380.7 1483.7,385.1 1474.7,387.5" fill="#d0ff27"/>
<polygon points="1432.6,418.4 1431.9,412.3 1435.7,404.8 1441.2,399.0 1448.5,395.1 1455.6,395.9 1456.4,403.0 1453.0,410.8 1447.0,416.1 1438.7,419.1" fill="#edff0a"/>
<polygon points="1465.7,384.9 1464.8,377.6 1466.0,367.5 1470.4,360.6 1476.0,354.9 1481.9,349.5 1487.8,344.2 1493.5,338.7 1499.8,333.7 1506.4,329.0 1512.6,323.9 1518.5,318.6 1525.1,313.8 1531.9,309.4 1537.0,303.2 1540.9,295.8 1545.5,289.1 1551.0,283.4 1558.5,279.6 1569.2,281.4 1571.0,292.1 1567.2,299.6 1561.4,305.1 1554.8,309.7 1547.4,313.6 1541.2,318.7 1537.3,326.0 1533.1,333.1 1528.1,339.4 1522.7,345.3 1517.4,351.3 1512.0,357.1 1506.4,362.8 1501.1,368.7 1495.7,374.6 1490.0,380.2 1483.1,384.6 1473.0,385.8" fill="#edff0a"/>
<polygon points="1438.2,413.6 1437.4,406.5 1442.6,400.4 1450.6,401.4 1451.5,409.3 1445.3,414.4" fill="#ffe000"/>
<polygon points="1470.0,380.5 1466.6,368.1 1470.8,361.0 1476.4,355.4 1482.3,350.0 1488.3,344.7 1494.1,339.2 1500.4,334.2 1507.1,329.7 1513.4,324.7 1519.4,319.4 1526.4,315.2 1535.0,316.1 1535.9,324.7 1532.3,332.3 1527.3,338.6 1522.0,344.6 1516.9,350.7 1511.5,356.6 1505.9,362.3 1500.6,368.2 1495.2,374.2 1489.6,379.8 1482.5,383.9" fill="#ffe000"/>
<polygon points="1539.8,310.8 1539.2,305.4 1541.9,296.8 1546.2,289.8 1551.7,284.1 1559.7,280.8 1568.7,281.8 1569.8,290.9 1566.5,298.9 1560.7,304.4 1553.8,308.7 1545.2,311.4" fill="#ffe000"/>
<polygon points="1470.0,380.5 1467.3,368.8 1471.3,361.5 1476.9,355.8 1482.8,350.5 1488.8,345.2 1494.6,339.7 1501.0,334.8 1507.9,330.4 1514.3,325.6 1520.5,320.5 1529.5,318.3 1532.5,318.6 1532.8,321.5 1531.2,331.2 1526.4,337.7 1521.3,343.8 1516.2,350.1 1510.9,356.0 1505.4,361.8 1500.1,367.8 1494.8,373.7 1489.1,379.3 1481.8,383.3" fill="#ffbf00"/>
<polygon points="1544.1,306.5 1543.2,298.1 1547.0,290.6 1552.4,284.8 1561.9,283.0 1567.0,283.6 1567.6,288.7 1565.7,298.1 1559.9,303.6 1552.5,307.4" fill="#ffbf00"/>
<polygon points="1470.0,380.5 1468.1,369.5 1471.8,362.0 1477.4,356.3 1483.3,351.0 1489.4,345.8 1495.2,340.3 1501.7,335.5 1508.8,331.3 1515.4,326.7 1522.2,322.2 1528.8,322.9 1529.5,329.5 1525.3,336.6 1520.4,342.9 1515.6,349.4 1510.3,355.4 1504.8,361.2 1499.6,367.2 1494.3,373.2 1488.6,378.8 1481.0,382.5" fill="#ff9e00"/>
<polygon points="1546.4,304.2 1546.1,301.0 1547.9,291.6 1553.4,285.8 1563.6,287.0 1564.8,297.2 1559.0,302.6 1549.6,304.5" fill="#ff9e00"/>
<polygon points="1470.1,380.5 1469.0,370.5 1472.3,362.5 1477.9,356.8 1483.9,351.6 1490.0,346.4 1495.8,340.9 1502.5,336.3 1510.0,332.6 1517.4,328.7 1522.7,329.3 1523.3,334.6 1519.1,341.7 1514.8,348.6 1509.7,354.8 1504.2,360.6 1499.0,366.7 1493.8,372.7 1488.1,378.3 1480.1,381.6" fill="#ff7d00"/>
<polygon points="1550.1,300.4 1549.3,293.0 1554.6,287.0 1562.7,287.9 1563.6,296.0 1557.6,301.3" fill="#ff7d00"/>
<polygon points="1471.1,379.4 1470.3,371.7 1472.8,363.0 1478.4,357.3 1484.5,352.2 1490.7,347.1 1496.6,341.7 1503.4,337.3 1512.6,335.1 1516.2,335.5 1516.6,339.1 1513.8,347.7 1509.0,354.1 1503.5,359.9 1498.4,366.1 1493.2,372.2 1487.6,377.8 1478.9,380.3" fill="#ff5c00"/>
<polygon points="1556.2,294.3 1556.0,292.1 1557.3,289.7 1559.7,288.4 1562.0,288.6 1562.2,290.8 1560.8,293.2 1558.4,294.6" fill="#ff5c00"/>
<polygon points="1475.7,374.9 1473.4,363.6 1479.0,357.9 1485.2,352.8 1491.5,347.9 1497.5,342.6 1504.9,338.7 1511.6,339.5 1512.4,346.2 1508.0,353.2 1502.7,359.1 1497.7,365.4 1492.6,371.6 1487.0,377.1" fill="#ff3b00"/>
<polygon points="1475.7,374.9 1474.1,364.3 1479.7,358.6 1486.0,353.7 1492.6,349.0 1498.7,343.8 1506.0,344.7 1506.8,351.9 1501.6,358.0 1496.9,364.6 1492.0,370.9 1486.3,376.5" fill="#ff1900"/>
<polygon points="1476.0,374.5 1475.0,365.2 1480.5,359.5 1487.1,354.8 1494.6,351.0 1499.1,351.5 1499.6,356.0 1495.8,363.5 1491.1,370.1 1485.4,375.6" fill="#de0000"/>
<polygon points="1477.0,373.6 1476.2,366.4 1481.6,360.6 1489.3,357.0 1493.2,357.4 1493.6,361.2 1490.0,368.9 1484.2,374.4" fill="#b60000"/>
<polygon points="1483.0,367.6 1482.8,365.5 1484.2,363.1 1486.5,361.7 1488.6,362.0 1488.9,364.0 1487.5,366.4 1485.1,367.8" fill="#8d0000"/>
</g></g>
<line x1="279.1" y1="1571.0" x2="1785.7" y2="65.0" stroke="#ff0000" stroke-width="6.3" stroke-dasharray="31.0 11.9" stroke-dashoffset="0.5" filter="url(#bt)"/>
</g>
<rect x="281.0" y="71.0" width="1504.7" height="1501.0" fill="none" stroke="#0d0d0d" stroke-width="11.5"/>
<path d="M281.0 1577.7v15.5M275.3 1572.0h-15.5M469.1 1577.7v15.5M275.3 1384.4h-15.5M657.2 1577.7v15.5M275.3 1196.8h-15.5M845.3 1577.7v15.5M275.3 1009.1h-15.5M1033.3 1577.7v15.5M275.3 821.5h-15.5M1221.4 1577.7v15.5M275.3 633.9h-15.5M1409.5 1577.7v15.5M275.3 446.2h-15.5M1597.6 1577.7v15.5M275.3 258.6h-15.5M1785.7 1577.7v15.5M275.3 71.0h-15.5" stroke="#000" stroke-width="3.6" fill="none"/>
<g font-family="Noto Serif CJK SC, Liberation Serif, serif" font-weight="200" font-size="69" fill="#111" filter="url(#bt)">
<text transform="translate(277.0,1663) scale(0.975,1)" text-anchor="middle">−5</text>
<text transform="translate(238.5,1596.7) scale(0.975,1)" text-anchor="end">−5</text>
<text transform="translate(469.1,1663) scale(0.975,1)" text-anchor="middle">0</text>
<text transform="translate(238.5,1409.1) scale(0.975,1)" text-anchor="end">0</text>
<text transform="translate(657.2,1663) scale(0.975,1)" text-anchor="middle">5</text>
<text transform="translate(238.5,1221.5) scale(0.975,1)" text-anchor="end">5</text>
<text transform="translate(845.3,1663) scale(0.975,1)" text-anchor="middle">10</text>
<text transform="translate(238.5,1033.8) scale(0.975,1)" text-anchor="end">10</text>
<text transform="translate(1033.3,1663) scale(0.975,1)" text-anchor="middle">15</text>
<text transform="translate(238.5,846.2) scale(0.975,1)" text-anchor="end">15</text>
<text transform="translate(1221.4,1663) scale(0.975,1)" text-anchor="middle">20</text>
<text transform="translate(238.5,658.6) scale(0.975,1)" text-anchor="end">20</text>
<text transform="translate(1409.5,1663) scale(0.975,1)" text-anchor="middle">25</text>
<text transform="translate(238.5,470.9) scale(0.975,1)" text-anchor="end">25</text>
<text transform="translate(1597.6,1663) scale(0.975,1)" text-anchor="middle">30</text>
<text transform="translate(238.5,283.3) scale(0.975,1)" text-anchor="end">30</text>
<text transform="translate(1785.7,1663) scale(0.975,1)" text-anchor="middle">35</text>
<text transform="translate(238.5,95.7) scale(0.975,1)" text-anchor="end">35</text>
</g>
<rect x="1890.7" y="71.4" width="77.8" height="1500.6" fill="url(#jet)" stroke="#000" stroke-width="3.3"/>
<g font-family="Noto Serif CJK SC, Liberation Serif, serif" font-weight="200" font-size="69" fill="#111" filter="url(#bt)">
<text transform="translate(2008,1436.0) scale(0.975,1)">200</text>
<text transform="translate(2008,1267.3) scale(0.975,1)">400</text>
<text transform="translate(2008,1098.7) scale(0.975,1)">600</text>
<text transform="translate(2008,930.1) scale(0.975,1)">800</text>
<text transform="translate(2008,761.4) scale(0.975,1)">1000</text>
<text transform="translate(2008,592.8) scale(0.975,1)">1200</text>
<text transform="translate(2008,424.1) scale(0.975,1)">1400</text>
<text transform="translate(2008,255.5) scale(0.975,1)">1600</text>
</g>
<path d="M1970.1 1411.3h19.5M1970.1 1242.6h19.5M1970.1 1074.0h19.5M1970.1 905.4h19.5M1970.1 736.7h19.5M1970.1 568.1h19.5M1970.1 399.4h19.5M1970.1 230.8h19.5" stroke="#000" stroke-width="3.6" fill="none"/>
<g filter="url(#bt)">
<text x="665.9" y="1768.6" font-family="Liberation Serif, serif" font-weight="bold" font-size="108.3" fill="#000">OISST SST<tspan font-weight="normal">(°C)</tspan></text>
<text transform="translate(115.6,1455.7) rotate(-90)" font-family="Liberation Serif, serif" font-weight="bold" font-size="108.3" fill="#000">ISSA-BP retrieved SST<tspan font-weight="normal">(°C)</tspan></text>
<text transform="translate(2244.3,1174.4) rotate(-90)" font-family="Liberation Serif, serif" font-weight="bold" font-size="108.3" fill="#000">Sample density</text>
<text transform="translate(1219.5,1168.5) scale(0.964,1)" font-family="Liberation Serif, serif" font-weight="bold" font-size="55" fill="#111">MD=0.0993°C</text>
<text transform="translate(1219.5,1226.9) scale(0.964,1)" font-family="Liberation Serif, serif" font-weight="bold" font-size="55" fill="#111">STD=0.7673°C</text>
<text transform="translate(1219.5,1285.3) scale(0.964,1)" font-family="Liberation Serif, serif" font-weight="bold" font-size="55" fill="#111">RMSE=0.7673°C</text>
<text transform="translate(1219.5,1343.7) scale(0.964,1)" font-family="Liberation Serif, serif" font-weight="bold" font-size="55" fill="#111">R²=0.9926</text>
</g>
</svg>
</body></html>
